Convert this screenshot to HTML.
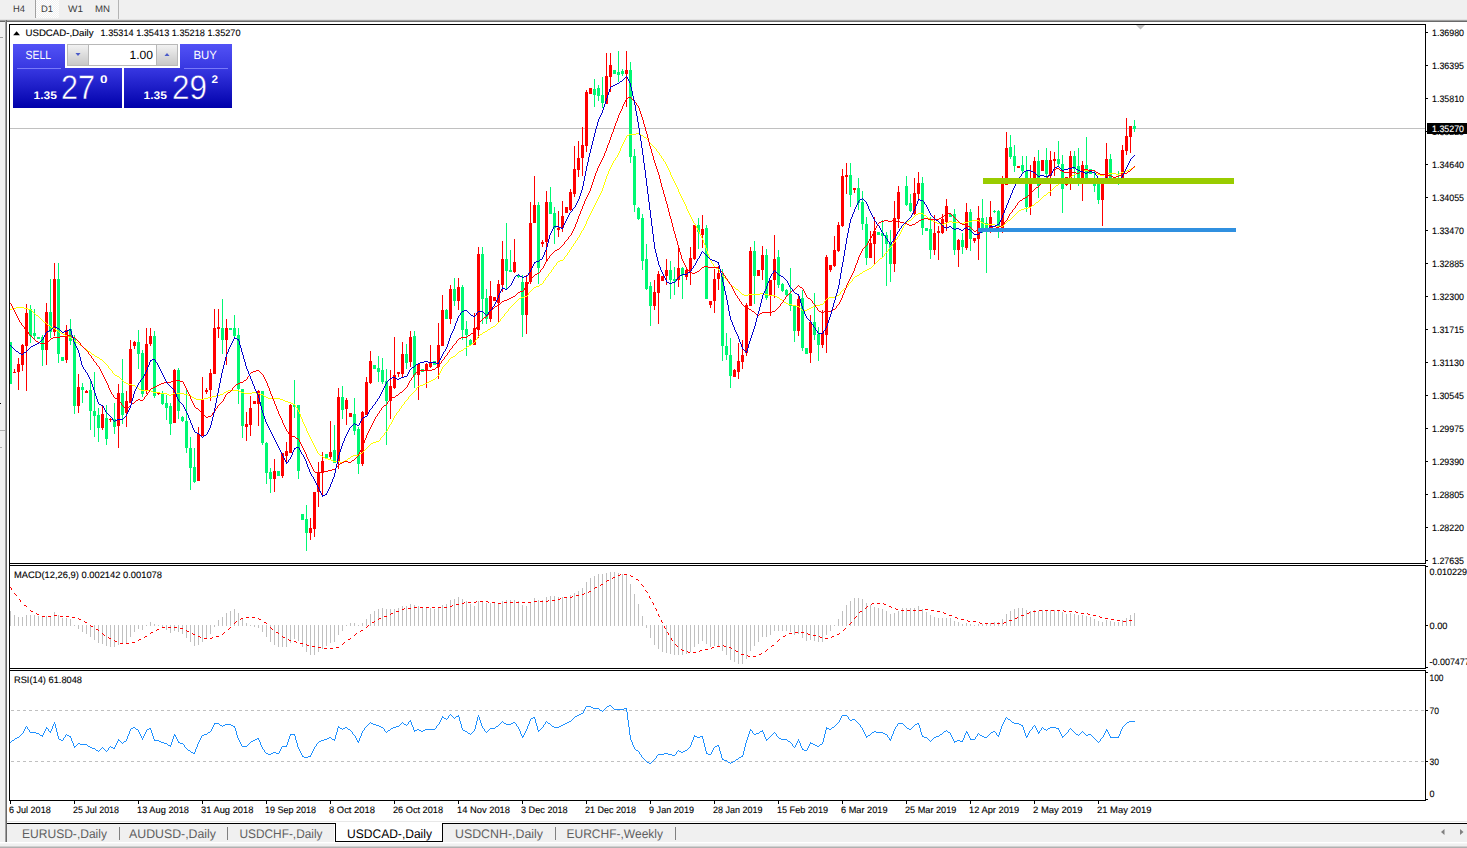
<!DOCTYPE html>
<html><head><meta charset="utf-8"><title>USDCAD-,Daily</title>
<style>html,body{margin:0;padding:0;background:#fff;overflow:hidden}svg{display:block}</style></head>
<body>
<svg width="1467" height="848" viewBox="0 0 1467 848" text-rendering="geometricPrecision" font-family='"Liberation Sans", sans-serif'>
<rect x="0" y="0" width="1467" height="848" fill="#fff" />
<g shape-rendering="crispEdges">
<rect x="0" y="0" width="1467" height="20" fill="#f0f0f0" />
<rect x="0" y="19" width="1467" height="1" fill="#e2e2e2" />
<rect x="0" y="20" width="1467" height="1" fill="#a0a0a0" />
<rect x="0" y="21" width="1467" height="1" fill="#696969" />
<defs><pattern id="chk" width="2" height="2" patternUnits="userSpaceOnUse"><rect width="2" height="2" fill="#f0f0f0"/><rect width="1" height="1" fill="#fff"/><rect x="1" y="1" width="1" height="1" fill="#fff"/></pattern></defs>
<rect x="36" y="0" width="23" height="18" fill="url(#chk)" />
<rect x="35" y="0" width="1" height="18" fill="#a0a0a0" />
<rect x="118" y="0" width="1" height="19" fill="#b4b4b4" />
<rect x="0" y="22" width="5" height="826" fill="#f0f0f0" />
<rect x="5" y="20" width="1" height="823" fill="#a0a0a0" />
<rect x="6" y="20" width="1" height="823" fill="#696969" />
<rect x="0" y="37" width="3" height="1" fill="#a0a0a0" />
<rect x="0" y="403" width="1" height="1" fill="#000" />
<rect x="0" y="430" width="5" height="1" fill="#b0b0b0" />
<rect x="0" y="447" width="2" height="1" fill="#b0b0b0" />
<rect x="9" y="24" width="1417" height="1" fill="#000" />
<rect x="9" y="24" width="1" height="777" fill="#000" />
<rect x="1425" y="24" width="1" height="777" fill="#000" />
<rect x="9" y="563" width="1417" height="1" fill="#000" />
<rect x="9" y="564" width="1417" height="1" fill="#fff" />
<rect x="9" y="565" width="1417" height="1" fill="#000" />
<rect x="9" y="668" width="1417" height="1" fill="#000" />
<rect x="9" y="669" width="1417" height="1" fill="#fff" />
<rect x="9" y="670" width="1417" height="1" fill="#000" />
<rect x="9" y="800" width="1417" height="1" fill="#000" />
<rect x="10" y="128" width="1415" height="1" fill="#c0c0c0" />
<rect x="1426" y="32" width="2" height="1" fill="#000" />
<rect x="1426" y="65" width="2" height="1" fill="#000" />
<rect x="1426" y="98" width="2" height="1" fill="#000" />
<rect x="1426" y="131" width="2" height="1" fill="#000" />
<rect x="1426" y="164" width="2" height="1" fill="#000" />
<rect x="1426" y="197" width="2" height="1" fill="#000" />
<rect x="1426" y="230" width="2" height="1" fill="#000" />
<rect x="1426" y="263" width="2" height="1" fill="#000" />
<rect x="1426" y="296" width="2" height="1" fill="#000" />
<rect x="1426" y="329" width="2" height="1" fill="#000" />
<rect x="1426" y="362" width="2" height="1" fill="#000" />
<rect x="1426" y="395" width="2" height="1" fill="#000" />
<rect x="1426" y="428" width="2" height="1" fill="#000" />
<rect x="1426" y="461" width="2" height="1" fill="#000" />
<rect x="1426" y="494" width="2" height="1" fill="#000" />
<rect x="1426" y="527" width="2" height="1" fill="#000" />
<rect x="1426" y="560" width="2" height="1" fill="#000" />
<rect x="1426" y="566" width="2" height="1" fill="#000" />
<rect x="1426" y="625" width="2" height="1" fill="#000" />
<rect x="1426" y="667" width="2" height="1" fill="#000" />
<rect x="1426" y="672" width="2" height="1" fill="#000" />
<rect x="1426" y="710" width="2" height="1" fill="#000" />
<rect x="1426" y="761" width="2" height="1" fill="#000" />
<rect x="1426" y="799" width="2" height="1" fill="#000" />
<rect x="10" y="801" width="1" height="3" fill="#000" />
<rect x="74" y="801" width="1" height="3" fill="#000" />
<rect x="138" y="801" width="1" height="3" fill="#000" />
<rect x="202" y="801" width="1" height="3" fill="#000" />
<rect x="266" y="801" width="1" height="3" fill="#000" />
<rect x="330" y="801" width="1" height="3" fill="#000" />
<rect x="394" y="801" width="1" height="3" fill="#000" />
<rect x="458" y="801" width="1" height="3" fill="#000" />
<rect x="522" y="801" width="1" height="3" fill="#000" />
<rect x="586" y="801" width="1" height="3" fill="#000" />
<rect x="650" y="801" width="1" height="3" fill="#000" />
<rect x="714" y="801" width="1" height="3" fill="#000" />
<rect x="778" y="801" width="1" height="3" fill="#000" />
<rect x="842" y="801" width="1" height="3" fill="#000" />
<rect x="906" y="801" width="1" height="3" fill="#000" />
<rect x="970" y="801" width="1" height="3" fill="#000" />
<rect x="1034" y="801" width="1" height="3" fill="#000" />
<rect x="1098" y="801" width="1" height="3" fill="#000" />
<rect x="10" y="342" width="1" height="42" fill="#00f873" />
<rect x="9" y="342" width="3" height="42" fill="#00f873" />
<rect x="14" y="369" width="1" height="4" fill="#ff0000" />
<rect x="13" y="372" width="3" height="1" fill="#ff0000" />
<rect x="18" y="358" width="1" height="32" fill="#ff0000" />
<rect x="17" y="364" width="3" height="8" fill="#ff0000" />
<rect x="22" y="344" width="1" height="27" fill="#ff0000" />
<rect x="21" y="345" width="3" height="20" fill="#ff0000" />
<rect x="26" y="304" width="1" height="87" fill="#ff0000" />
<rect x="25" y="313" width="3" height="33" fill="#ff0000" />
<rect x="30" y="305" width="1" height="38" fill="#00f873" />
<rect x="29" y="309" width="3" height="27" fill="#00f873" />
<rect x="34" y="309" width="1" height="30" fill="#00f873" />
<rect x="33" y="333" width="3" height="3" fill="#00f873" />
<rect x="38" y="337" width="1" height="2" fill="#00f873" />
<rect x="37" y="337" width="3" height="2" fill="#00f873" />
<rect x="42" y="335" width="1" height="31" fill="#00f873" />
<rect x="41" y="337" width="3" height="13" fill="#00f873" />
<rect x="46" y="303" width="1" height="62" fill="#ff0000" />
<rect x="45" y="312" width="3" height="38" fill="#ff0000" />
<rect x="50" y="279" width="1" height="59" fill="#00f873" />
<rect x="49" y="312" width="3" height="20" fill="#00f873" />
<rect x="54" y="263" width="1" height="73" fill="#ff0000" />
<rect x="53" y="279" width="3" height="53" fill="#ff0000" />
<rect x="58" y="263" width="1" height="100" fill="#00f873" />
<rect x="57" y="279" width="3" height="75" fill="#00f873" />
<rect x="62" y="357" width="1" height="4" fill="#00f873" />
<rect x="61" y="357" width="3" height="4" fill="#00f873" />
<rect x="66" y="325" width="1" height="38" fill="#ff0000" />
<rect x="65" y="330" width="3" height="30" fill="#ff0000" />
<rect x="70" y="319" width="1" height="26" fill="#00f873" />
<rect x="69" y="329" width="3" height="12" fill="#00f873" />
<rect x="74" y="335" width="1" height="79" fill="#00f873" />
<rect x="73" y="338" width="3" height="68" fill="#00f873" />
<rect x="78" y="374" width="1" height="39" fill="#ff0000" />
<rect x="77" y="387" width="3" height="19" fill="#ff0000" />
<rect x="82" y="383" width="1" height="20" fill="#00f873" />
<rect x="81" y="387" width="3" height="3" fill="#00f873" />
<rect x="86" y="390" width="1" height="3" fill="#ff0000" />
<rect x="85" y="391" width="3" height="2" fill="#ff0000" />
<rect x="90" y="380" width="1" height="50" fill="#00f873" />
<rect x="89" y="390" width="3" height="21" fill="#00f873" />
<rect x="94" y="372" width="1" height="65" fill="#00f873" />
<rect x="93" y="411" width="3" height="5" fill="#00f873" />
<rect x="98" y="408" width="1" height="34" fill="#00f873" />
<rect x="97" y="415" width="3" height="13" fill="#00f873" />
<rect x="102" y="405" width="1" height="25" fill="#ff0000" />
<rect x="101" y="414" width="3" height="14" fill="#ff0000" />
<rect x="106" y="405" width="1" height="40" fill="#00f873" />
<rect x="105" y="418" width="3" height="21" fill="#00f873" />
<rect x="110" y="418" width="1" height="4" fill="#ff0000" />
<rect x="109" y="419" width="3" height="1" fill="#ff0000" />
<rect x="114" y="403" width="1" height="31" fill="#00f873" />
<rect x="113" y="419" width="3" height="8" fill="#00f873" />
<rect x="118" y="384" width="1" height="64" fill="#ff0000" />
<rect x="117" y="393" width="3" height="33" fill="#ff0000" />
<rect x="122" y="359" width="1" height="65" fill="#00f873" />
<rect x="121" y="393" width="3" height="22" fill="#00f873" />
<rect x="126" y="391" width="1" height="36" fill="#ff0000" />
<rect x="125" y="401" width="3" height="12" fill="#ff0000" />
<rect x="130" y="340" width="1" height="63" fill="#ff0000" />
<rect x="129" y="349" width="3" height="54" fill="#ff0000" />
<rect x="134" y="341" width="1" height="8" fill="#ff0000" />
<rect x="133" y="342" width="3" height="4" fill="#ff0000" />
<rect x="138" y="330" width="1" height="39" fill="#00f873" />
<rect x="137" y="342" width="3" height="12" fill="#00f873" />
<rect x="142" y="350" width="1" height="47" fill="#00f873" />
<rect x="141" y="353" width="3" height="41" fill="#00f873" />
<rect x="146" y="328" width="1" height="66" fill="#ff0000" />
<rect x="145" y="344" width="3" height="47" fill="#ff0000" />
<rect x="150" y="328" width="1" height="18" fill="#ff0000" />
<rect x="149" y="336" width="3" height="8" fill="#ff0000" />
<rect x="154" y="331" width="1" height="67" fill="#00f873" />
<rect x="153" y="336" width="3" height="60" fill="#00f873" />
<rect x="158" y="392" width="1" height="3" fill="#ff0000" />
<rect x="157" y="393" width="3" height="1" fill="#ff0000" />
<rect x="162" y="391" width="1" height="14" fill="#00f873" />
<rect x="161" y="394" width="3" height="10" fill="#00f873" />
<rect x="166" y="395" width="1" height="25" fill="#00f873" />
<rect x="165" y="403" width="3" height="5" fill="#00f873" />
<rect x="170" y="403" width="1" height="32" fill="#00f873" />
<rect x="169" y="406" width="3" height="18" fill="#00f873" />
<rect x="174" y="369" width="1" height="54" fill="#ff0000" />
<rect x="173" y="370" width="3" height="53" fill="#ff0000" />
<rect x="178" y="368" width="1" height="51" fill="#00f873" />
<rect x="177" y="370" width="3" height="41" fill="#00f873" />
<rect x="182" y="416" width="1" height="6" fill="#00f873" />
<rect x="181" y="417" width="3" height="4" fill="#00f873" />
<rect x="186" y="390" width="1" height="63" fill="#00f873" />
<rect x="185" y="421" width="3" height="27" fill="#00f873" />
<rect x="190" y="437" width="1" height="53" fill="#00f873" />
<rect x="189" y="448" width="3" height="20" fill="#00f873" />
<rect x="194" y="448" width="1" height="35" fill="#00f873" />
<rect x="193" y="467" width="3" height="15" fill="#00f873" />
<rect x="198" y="427" width="1" height="54" fill="#ff0000" />
<rect x="197" y="434" width="3" height="47" fill="#ff0000" />
<rect x="202" y="377" width="1" height="59" fill="#ff0000" />
<rect x="201" y="399" width="3" height="37" fill="#ff0000" />
<rect x="206" y="388" width="1" height="6" fill="#ff0000" />
<rect x="205" y="390" width="3" height="2" fill="#ff0000" />
<rect x="210" y="369" width="1" height="32" fill="#ff0000" />
<rect x="209" y="373" width="3" height="17" fill="#ff0000" />
<rect x="214" y="309" width="1" height="65" fill="#ff0000" />
<rect x="213" y="328" width="3" height="46" fill="#ff0000" />
<rect x="218" y="309" width="1" height="29" fill="#ff0000" />
<rect x="217" y="327" width="3" height="2" fill="#ff0000" />
<rect x="222" y="299" width="1" height="55" fill="#00f873" />
<rect x="221" y="328" width="3" height="12" fill="#00f873" />
<rect x="226" y="319" width="1" height="46" fill="#ff0000" />
<rect x="225" y="328" width="3" height="12" fill="#ff0000" />
<rect x="230" y="328" width="1" height="2" fill="#00f873" />
<rect x="229" y="328" width="3" height="2" fill="#00f873" />
<rect x="234" y="315" width="1" height="22" fill="#00f873" />
<rect x="233" y="328" width="3" height="8" fill="#00f873" />
<rect x="238" y="328" width="1" height="76" fill="#00f873" />
<rect x="237" y="335" width="3" height="54" fill="#00f873" />
<rect x="242" y="389" width="1" height="49" fill="#00f873" />
<rect x="241" y="389" width="3" height="37" fill="#00f873" />
<rect x="246" y="412" width="1" height="29" fill="#ff0000" />
<rect x="245" y="424" width="3" height="3" fill="#ff0000" />
<rect x="250" y="396" width="1" height="40" fill="#ff0000" />
<rect x="249" y="408" width="3" height="17" fill="#ff0000" />
<rect x="254" y="401" width="1" height="3" fill="#ff0000" />
<rect x="253" y="401" width="3" height="3" fill="#ff0000" />
<rect x="258" y="390" width="1" height="36" fill="#ff0000" />
<rect x="257" y="391" width="3" height="13" fill="#ff0000" />
<rect x="262" y="391" width="1" height="54" fill="#00f873" />
<rect x="261" y="391" width="3" height="52" fill="#00f873" />
<rect x="266" y="442" width="1" height="42" fill="#00f873" />
<rect x="265" y="443" width="3" height="30" fill="#00f873" />
<rect x="270" y="468" width="1" height="25" fill="#00f873" />
<rect x="269" y="472" width="3" height="7" fill="#00f873" />
<rect x="274" y="459" width="1" height="33" fill="#ff0000" />
<rect x="273" y="471" width="3" height="8" fill="#ff0000" />
<rect x="278" y="471" width="1" height="5" fill="#00f873" />
<rect x="277" y="471" width="3" height="5" fill="#00f873" />
<rect x="282" y="453" width="1" height="25" fill="#ff0000" />
<rect x="281" y="453" width="3" height="23" fill="#ff0000" />
<rect x="286" y="442" width="1" height="22" fill="#ff0000" />
<rect x="285" y="451" width="3" height="5" fill="#ff0000" />
<rect x="290" y="404" width="1" height="49" fill="#ff0000" />
<rect x="289" y="405" width="3" height="48" fill="#ff0000" />
<rect x="294" y="380" width="1" height="38" fill="#00f873" />
<rect x="293" y="405" width="3" height="2" fill="#00f873" />
<rect x="298" y="405" width="1" height="74" fill="#00f873" />
<rect x="297" y="405" width="3" height="66" fill="#00f873" />
<rect x="302" y="514" width="1" height="6" fill="#00f873" />
<rect x="301" y="514" width="3" height="6" fill="#00f873" />
<rect x="306" y="505" width="1" height="46" fill="#00f873" />
<rect x="305" y="519" width="3" height="14" fill="#00f873" />
<rect x="310" y="518" width="1" height="22" fill="#ff0000" />
<rect x="309" y="528" width="3" height="5" fill="#ff0000" />
<rect x="314" y="492" width="1" height="45" fill="#ff0000" />
<rect x="313" y="492" width="3" height="37" fill="#ff0000" />
<rect x="318" y="462" width="1" height="45" fill="#ff0000" />
<rect x="317" y="472" width="3" height="20" fill="#ff0000" />
<rect x="322" y="452" width="1" height="44" fill="#ff0000" />
<rect x="321" y="461" width="3" height="12" fill="#ff0000" />
<rect x="326" y="454" width="1" height="4" fill="#00f873" />
<rect x="325" y="454" width="3" height="4" fill="#00f873" />
<rect x="330" y="421" width="1" height="38" fill="#ff0000" />
<rect x="329" y="452" width="3" height="5" fill="#ff0000" />
<rect x="334" y="425" width="1" height="38" fill="#00f873" />
<rect x="333" y="450" width="3" height="13" fill="#00f873" />
<rect x="338" y="388" width="1" height="81" fill="#ff0000" />
<rect x="337" y="397" width="3" height="65" fill="#ff0000" />
<rect x="342" y="386" width="1" height="33" fill="#00f873" />
<rect x="341" y="397" width="3" height="13" fill="#00f873" />
<rect x="346" y="398" width="1" height="27" fill="#ff0000" />
<rect x="345" y="400" width="3" height="9" fill="#ff0000" />
<rect x="350" y="413" width="1" height="4" fill="#ff0000" />
<rect x="349" y="413" width="3" height="4" fill="#ff0000" />
<rect x="354" y="398" width="1" height="37" fill="#00f873" />
<rect x="353" y="414" width="3" height="17" fill="#00f873" />
<rect x="358" y="427" width="1" height="47" fill="#00f873" />
<rect x="357" y="429" width="3" height="35" fill="#00f873" />
<rect x="362" y="411" width="1" height="55" fill="#ff0000" />
<rect x="361" y="412" width="3" height="52" fill="#ff0000" />
<rect x="366" y="377" width="1" height="38" fill="#ff0000" />
<rect x="365" y="382" width="3" height="33" fill="#ff0000" />
<rect x="370" y="351" width="1" height="33" fill="#ff0000" />
<rect x="369" y="361" width="3" height="22" fill="#ff0000" />
<rect x="374" y="365" width="1" height="4" fill="#00f873" />
<rect x="373" y="365" width="3" height="4" fill="#00f873" />
<rect x="378" y="356" width="1" height="26" fill="#00f873" />
<rect x="377" y="368" width="3" height="4" fill="#00f873" />
<rect x="382" y="358" width="1" height="26" fill="#00f873" />
<rect x="381" y="370" width="3" height="12" fill="#00f873" />
<rect x="386" y="369" width="1" height="76" fill="#00f873" />
<rect x="385" y="381" width="3" height="20" fill="#00f873" />
<rect x="390" y="370" width="1" height="49" fill="#ff0000" />
<rect x="389" y="386" width="3" height="15" fill="#ff0000" />
<rect x="394" y="337" width="1" height="52" fill="#ff0000" />
<rect x="393" y="375" width="3" height="13" fill="#ff0000" />
<rect x="398" y="372" width="1" height="5" fill="#ff0000" />
<rect x="397" y="372" width="3" height="2" fill="#ff0000" />
<rect x="402" y="342" width="1" height="36" fill="#ff0000" />
<rect x="401" y="354" width="3" height="20" fill="#ff0000" />
<rect x="406" y="344" width="1" height="25" fill="#00f873" />
<rect x="405" y="354" width="3" height="9" fill="#00f873" />
<rect x="410" y="331" width="1" height="36" fill="#ff0000" />
<rect x="409" y="337" width="3" height="25" fill="#ff0000" />
<rect x="414" y="331" width="1" height="57" fill="#00f873" />
<rect x="413" y="336" width="3" height="39" fill="#00f873" />
<rect x="418" y="363" width="1" height="37" fill="#ff0000" />
<rect x="417" y="364" width="3" height="11" fill="#ff0000" />
<rect x="422" y="369" width="1" height="3" fill="#00f873" />
<rect x="421" y="369" width="3" height="3" fill="#00f873" />
<rect x="426" y="363" width="1" height="25" fill="#ff0000" />
<rect x="425" y="364" width="3" height="7" fill="#ff0000" />
<rect x="430" y="345" width="1" height="23" fill="#ff0000" />
<rect x="429" y="362" width="3" height="5" fill="#ff0000" />
<rect x="434" y="361" width="1" height="4" fill="#00f873" />
<rect x="433" y="361" width="3" height="4" fill="#00f873" />
<rect x="438" y="323" width="1" height="56" fill="#ff0000" />
<rect x="437" y="345" width="3" height="22" fill="#ff0000" />
<rect x="442" y="295" width="1" height="51" fill="#ff0000" />
<rect x="441" y="310" width="3" height="36" fill="#ff0000" />
<rect x="446" y="309" width="1" height="10" fill="#00f873" />
<rect x="445" y="310" width="3" height="9" fill="#00f873" />
<rect x="450" y="285" width="1" height="39" fill="#ff0000" />
<rect x="449" y="289" width="3" height="30" fill="#ff0000" />
<rect x="454" y="278" width="1" height="28" fill="#00f873" />
<rect x="453" y="289" width="3" height="12" fill="#00f873" />
<rect x="458" y="278" width="1" height="32" fill="#ff0000" />
<rect x="457" y="287" width="3" height="14" fill="#ff0000" />
<rect x="462" y="285" width="1" height="55" fill="#00f873" />
<rect x="461" y="287" width="3" height="43" fill="#00f873" />
<rect x="466" y="321" width="1" height="35" fill="#00f873" />
<rect x="465" y="329" width="3" height="6" fill="#00f873" />
<rect x="470" y="339" width="1" height="6" fill="#00f873" />
<rect x="469" y="340" width="3" height="5" fill="#00f873" />
<rect x="474" y="313" width="1" height="32" fill="#ff0000" />
<rect x="473" y="328" width="3" height="17" fill="#ff0000" />
<rect x="478" y="247" width="1" height="91" fill="#ff0000" />
<rect x="477" y="254" width="3" height="76" fill="#ff0000" />
<rect x="482" y="247" width="1" height="77" fill="#00f873" />
<rect x="481" y="254" width="3" height="45" fill="#00f873" />
<rect x="486" y="289" width="1" height="35" fill="#00f873" />
<rect x="485" y="298" width="3" height="21" fill="#00f873" />
<rect x="490" y="281" width="1" height="41" fill="#ff0000" />
<rect x="489" y="296" width="3" height="23" fill="#ff0000" />
<rect x="494" y="297" width="1" height="4" fill="#ff0000" />
<rect x="493" y="297" width="3" height="4" fill="#ff0000" />
<rect x="498" y="280" width="1" height="42" fill="#ff0000" />
<rect x="497" y="284" width="3" height="19" fill="#ff0000" />
<rect x="502" y="241" width="1" height="51" fill="#ff0000" />
<rect x="501" y="259" width="3" height="26" fill="#ff0000" />
<rect x="506" y="223" width="1" height="66" fill="#00f873" />
<rect x="505" y="259" width="3" height="12" fill="#00f873" />
<rect x="510" y="250" width="1" height="22" fill="#00f873" />
<rect x="509" y="270" width="3" height="2" fill="#00f873" />
<rect x="514" y="239" width="1" height="34" fill="#ff0000" />
<rect x="513" y="262" width="3" height="10" fill="#ff0000" />
<rect x="518" y="275" width="1" height="3" fill="#00f873" />
<rect x="517" y="276" width="3" height="1" fill="#00f873" />
<rect x="522" y="275" width="1" height="62" fill="#00f873" />
<rect x="521" y="282" width="3" height="33" fill="#00f873" />
<rect x="526" y="275" width="1" height="59" fill="#ff0000" />
<rect x="525" y="282" width="3" height="33" fill="#ff0000" />
<rect x="530" y="202" width="1" height="82" fill="#ff0000" />
<rect x="529" y="223" width="3" height="59" fill="#ff0000" />
<rect x="534" y="176" width="1" height="47" fill="#ff0000" />
<rect x="533" y="205" width="3" height="18" fill="#ff0000" />
<rect x="538" y="202" width="1" height="82" fill="#00f873" />
<rect x="537" y="205" width="3" height="63" fill="#00f873" />
<rect x="542" y="240" width="1" height="7" fill="#ff0000" />
<rect x="541" y="242" width="3" height="2" fill="#ff0000" />
<rect x="546" y="191" width="1" height="70" fill="#ff0000" />
<rect x="545" y="202" width="3" height="40" fill="#ff0000" />
<rect x="550" y="187" width="1" height="27" fill="#00f873" />
<rect x="549" y="202" width="3" height="12" fill="#00f873" />
<rect x="554" y="207" width="1" height="37" fill="#00f873" />
<rect x="553" y="213" width="3" height="15" fill="#00f873" />
<rect x="558" y="211" width="1" height="26" fill="#ff0000" />
<rect x="557" y="228" width="3" height="2" fill="#ff0000" />
<rect x="562" y="201" width="1" height="31" fill="#ff0000" />
<rect x="561" y="216" width="3" height="12" fill="#ff0000" />
<rect x="566" y="207" width="1" height="6" fill="#ff0000" />
<rect x="565" y="207" width="3" height="6" fill="#ff0000" />
<rect x="570" y="189" width="1" height="22" fill="#ff0000" />
<rect x="569" y="192" width="3" height="18" fill="#ff0000" />
<rect x="574" y="146" width="1" height="51" fill="#ff0000" />
<rect x="573" y="169" width="3" height="25" fill="#ff0000" />
<rect x="578" y="141" width="1" height="36" fill="#ff0000" />
<rect x="577" y="158" width="3" height="12" fill="#ff0000" />
<rect x="582" y="127" width="1" height="49" fill="#ff0000" />
<rect x="581" y="145" width="3" height="13" fill="#ff0000" />
<rect x="586" y="90" width="1" height="62" fill="#ff0000" />
<rect x="585" y="92" width="3" height="54" fill="#ff0000" />
<rect x="590" y="88" width="1" height="6" fill="#ff0000" />
<rect x="589" y="88" width="3" height="6" fill="#ff0000" />
<rect x="594" y="79" width="1" height="28" fill="#00f873" />
<rect x="593" y="89" width="3" height="6" fill="#00f873" />
<rect x="598" y="85" width="1" height="16" fill="#00f873" />
<rect x="597" y="88" width="3" height="8" fill="#00f873" />
<rect x="602" y="77" width="1" height="31" fill="#00f873" />
<rect x="601" y="95" width="3" height="8" fill="#00f873" />
<rect x="606" y="53" width="1" height="51" fill="#ff0000" />
<rect x="605" y="76" width="3" height="28" fill="#ff0000" />
<rect x="610" y="53" width="1" height="39" fill="#ff0000" />
<rect x="609" y="65" width="3" height="12" fill="#ff0000" />
<rect x="614" y="70" width="1" height="4" fill="#00f873" />
<rect x="613" y="70" width="3" height="4" fill="#00f873" />
<rect x="618" y="51" width="1" height="31" fill="#00f873" />
<rect x="617" y="72" width="3" height="3" fill="#00f873" />
<rect x="622" y="69" width="1" height="7" fill="#00f873" />
<rect x="621" y="71" width="3" height="3" fill="#00f873" />
<rect x="626" y="51" width="1" height="56" fill="#ff0000" />
<rect x="625" y="70" width="3" height="4" fill="#ff0000" />
<rect x="630" y="62" width="1" height="101" fill="#00f873" />
<rect x="629" y="70" width="3" height="87" fill="#00f873" />
<rect x="634" y="149" width="1" height="63" fill="#00f873" />
<rect x="633" y="156" width="3" height="49" fill="#00f873" />
<rect x="638" y="207" width="1" height="13" fill="#00f873" />
<rect x="637" y="208" width="3" height="11" fill="#00f873" />
<rect x="642" y="214" width="1" height="56" fill="#00f873" />
<rect x="641" y="218" width="3" height="43" fill="#00f873" />
<rect x="646" y="244" width="1" height="46" fill="#00f873" />
<rect x="645" y="259" width="3" height="30" fill="#00f873" />
<rect x="650" y="282" width="1" height="44" fill="#00f873" />
<rect x="649" y="286" width="3" height="20" fill="#00f873" />
<rect x="654" y="280" width="1" height="30" fill="#ff0000" />
<rect x="653" y="292" width="3" height="14" fill="#ff0000" />
<rect x="658" y="271" width="1" height="53" fill="#ff0000" />
<rect x="657" y="274" width="3" height="19" fill="#ff0000" />
<rect x="662" y="276" width="1" height="5" fill="#ff0000" />
<rect x="661" y="276" width="3" height="5" fill="#ff0000" />
<rect x="666" y="259" width="1" height="26" fill="#ff0000" />
<rect x="665" y="270" width="3" height="6" fill="#ff0000" />
<rect x="670" y="261" width="1" height="38" fill="#00f873" />
<rect x="669" y="270" width="3" height="10" fill="#00f873" />
<rect x="674" y="267" width="1" height="28" fill="#00f873" />
<rect x="673" y="279" width="3" height="2" fill="#00f873" />
<rect x="678" y="247" width="1" height="40" fill="#ff0000" />
<rect x="677" y="268" width="3" height="12" fill="#ff0000" />
<rect x="682" y="267" width="1" height="32" fill="#00f873" />
<rect x="681" y="268" width="3" height="7" fill="#00f873" />
<rect x="686" y="269" width="1" height="11" fill="#ff0000" />
<rect x="685" y="270" width="3" height="7" fill="#ff0000" />
<rect x="690" y="247" width="1" height="38" fill="#ff0000" />
<rect x="689" y="258" width="3" height="13" fill="#ff0000" />
<rect x="694" y="225" width="1" height="35" fill="#ff0000" />
<rect x="693" y="225" width="3" height="34" fill="#ff0000" />
<rect x="698" y="218" width="1" height="31" fill="#00f873" />
<rect x="697" y="225" width="3" height="7" fill="#00f873" />
<rect x="702" y="215" width="1" height="33" fill="#ff0000" />
<rect x="701" y="229" width="3" height="6" fill="#ff0000" />
<rect x="706" y="225" width="1" height="74" fill="#00f873" />
<rect x="705" y="228" width="3" height="71" fill="#00f873" />
<rect x="710" y="301" width="1" height="7" fill="#ff0000" />
<rect x="709" y="301" width="3" height="4" fill="#ff0000" />
<rect x="714" y="269" width="1" height="44" fill="#ff0000" />
<rect x="713" y="279" width="3" height="22" fill="#ff0000" />
<rect x="718" y="266" width="1" height="24" fill="#ff0000" />
<rect x="717" y="273" width="3" height="6" fill="#ff0000" />
<rect x="722" y="269" width="1" height="92" fill="#00f873" />
<rect x="721" y="273" width="3" height="73" fill="#00f873" />
<rect x="726" y="333" width="1" height="27" fill="#00f873" />
<rect x="725" y="346" width="3" height="9" fill="#00f873" />
<rect x="730" y="338" width="1" height="50" fill="#00f873" />
<rect x="729" y="355" width="3" height="21" fill="#00f873" />
<rect x="734" y="369" width="1" height="8" fill="#ff0000" />
<rect x="733" y="370" width="3" height="7" fill="#ff0000" />
<rect x="738" y="343" width="1" height="36" fill="#ff0000" />
<rect x="737" y="361" width="3" height="11" fill="#ff0000" />
<rect x="742" y="340" width="1" height="29" fill="#ff0000" />
<rect x="741" y="355" width="3" height="7" fill="#ff0000" />
<rect x="746" y="303" width="1" height="53" fill="#ff0000" />
<rect x="745" y="305" width="3" height="48" fill="#ff0000" />
<rect x="750" y="247" width="1" height="59" fill="#ff0000" />
<rect x="749" y="251" width="3" height="55" fill="#ff0000" />
<rect x="754" y="241" width="1" height="63" fill="#00f873" />
<rect x="753" y="251" width="3" height="25" fill="#00f873" />
<rect x="758" y="270" width="1" height="6" fill="#ff0000" />
<rect x="757" y="270" width="3" height="6" fill="#ff0000" />
<rect x="762" y="246" width="1" height="34" fill="#ff0000" />
<rect x="761" y="255" width="3" height="15" fill="#ff0000" />
<rect x="766" y="249" width="1" height="51" fill="#00f873" />
<rect x="765" y="255" width="3" height="43" fill="#00f873" />
<rect x="770" y="280" width="1" height="36" fill="#ff0000" />
<rect x="769" y="280" width="3" height="15" fill="#ff0000" />
<rect x="774" y="235" width="1" height="63" fill="#ff0000" />
<rect x="773" y="259" width="3" height="21" fill="#ff0000" />
<rect x="778" y="250" width="1" height="38" fill="#00f873" />
<rect x="777" y="257" width="3" height="28" fill="#00f873" />
<rect x="782" y="283" width="1" height="9" fill="#00f873" />
<rect x="781" y="284" width="3" height="7" fill="#00f873" />
<rect x="786" y="289" width="1" height="7" fill="#00f873" />
<rect x="785" y="290" width="3" height="5" fill="#00f873" />
<rect x="790" y="268" width="1" height="43" fill="#00f873" />
<rect x="789" y="294" width="3" height="12" fill="#00f873" />
<rect x="794" y="306" width="1" height="36" fill="#00f873" />
<rect x="793" y="306" width="3" height="25" fill="#00f873" />
<rect x="798" y="295" width="1" height="41" fill="#ff0000" />
<rect x="797" y="299" width="3" height="32" fill="#ff0000" />
<rect x="802" y="290" width="1" height="61" fill="#00f873" />
<rect x="801" y="298" width="3" height="50" fill="#00f873" />
<rect x="806" y="348" width="1" height="6" fill="#00f873" />
<rect x="805" y="348" width="3" height="6" fill="#00f873" />
<rect x="810" y="315" width="1" height="48" fill="#ff0000" />
<rect x="809" y="322" width="3" height="31" fill="#ff0000" />
<rect x="814" y="293" width="1" height="47" fill="#00f873" />
<rect x="813" y="322" width="3" height="13" fill="#00f873" />
<rect x="818" y="327" width="1" height="34" fill="#00f873" />
<rect x="817" y="334" width="3" height="11" fill="#00f873" />
<rect x="822" y="310" width="1" height="38" fill="#ff0000" />
<rect x="821" y="333" width="3" height="12" fill="#ff0000" />
<rect x="826" y="255" width="1" height="98" fill="#ff0000" />
<rect x="825" y="257" width="3" height="78" fill="#ff0000" />
<rect x="830" y="265" width="1" height="7" fill="#ff0000" />
<rect x="829" y="265" width="3" height="5" fill="#ff0000" />
<rect x="834" y="236" width="1" height="31" fill="#ff0000" />
<rect x="833" y="250" width="3" height="16" fill="#ff0000" />
<rect x="838" y="222" width="1" height="30" fill="#ff0000" />
<rect x="837" y="225" width="3" height="26" fill="#ff0000" />
<rect x="842" y="169" width="1" height="58" fill="#ff0000" />
<rect x="841" y="176" width="3" height="50" fill="#ff0000" />
<rect x="846" y="163" width="1" height="31" fill="#ff0000" />
<rect x="845" y="175" width="3" height="2" fill="#ff0000" />
<rect x="850" y="163" width="1" height="44" fill="#00f873" />
<rect x="849" y="175" width="3" height="20" fill="#00f873" />
<rect x="854" y="188" width="1" height="5" fill="#ff0000" />
<rect x="853" y="188" width="3" height="2" fill="#ff0000" />
<rect x="858" y="178" width="1" height="32" fill="#00f873" />
<rect x="857" y="188" width="3" height="15" fill="#00f873" />
<rect x="862" y="191" width="1" height="39" fill="#00f873" />
<rect x="861" y="202" width="3" height="22" fill="#00f873" />
<rect x="866" y="217" width="1" height="48" fill="#00f873" />
<rect x="865" y="224" width="3" height="34" fill="#00f873" />
<rect x="870" y="231" width="1" height="27" fill="#ff0000" />
<rect x="869" y="243" width="3" height="15" fill="#ff0000" />
<rect x="874" y="217" width="1" height="47" fill="#ff0000" />
<rect x="873" y="231" width="3" height="13" fill="#ff0000" />
<rect x="878" y="232" width="1" height="3" fill="#00f873" />
<rect x="877" y="232" width="3" height="3" fill="#00f873" />
<rect x="882" y="220" width="1" height="37" fill="#00f873" />
<rect x="881" y="233" width="3" height="3" fill="#00f873" />
<rect x="886" y="232" width="1" height="54" fill="#00f873" />
<rect x="885" y="235" width="3" height="9" fill="#00f873" />
<rect x="890" y="230" width="1" height="52" fill="#00f873" />
<rect x="889" y="243" width="3" height="21" fill="#00f873" />
<rect x="894" y="201" width="1" height="71" fill="#ff0000" />
<rect x="893" y="218" width="3" height="46" fill="#ff0000" />
<rect x="898" y="186" width="1" height="42" fill="#ff0000" />
<rect x="897" y="192" width="3" height="27" fill="#ff0000" />
<rect x="906" y="176" width="1" height="30" fill="#00f873" />
<rect x="905" y="186" width="3" height="19" fill="#00f873" />
<rect x="910" y="194" width="1" height="18" fill="#00f873" />
<rect x="909" y="203" width="3" height="8" fill="#00f873" />
<rect x="914" y="178" width="1" height="37" fill="#ff0000" />
<rect x="913" y="193" width="3" height="21" fill="#ff0000" />
<rect x="918" y="172" width="1" height="28" fill="#ff0000" />
<rect x="917" y="183" width="3" height="11" fill="#ff0000" />
<rect x="922" y="177" width="1" height="58" fill="#00f873" />
<rect x="921" y="183" width="3" height="45" fill="#00f873" />
<rect x="926" y="228" width="1" height="3" fill="#00f873" />
<rect x="925" y="228" width="3" height="3" fill="#00f873" />
<rect x="930" y="217" width="1" height="42" fill="#00f873" />
<rect x="929" y="229" width="3" height="21" fill="#00f873" />
<rect x="934" y="215" width="1" height="40" fill="#ff0000" />
<rect x="933" y="233" width="3" height="17" fill="#ff0000" />
<rect x="938" y="226" width="1" height="34" fill="#ff0000" />
<rect x="937" y="231" width="3" height="2" fill="#ff0000" />
<rect x="942" y="214" width="1" height="20" fill="#ff0000" />
<rect x="941" y="219" width="3" height="14" fill="#ff0000" />
<rect x="946" y="199" width="1" height="32" fill="#ff0000" />
<rect x="945" y="206" width="3" height="16" fill="#ff0000" />
<rect x="950" y="214" width="1" height="3" fill="#00f873" />
<rect x="949" y="214" width="3" height="3" fill="#00f873" />
<rect x="954" y="209" width="1" height="46" fill="#00f873" />
<rect x="953" y="214" width="3" height="36" fill="#00f873" />
<rect x="958" y="239" width="1" height="28" fill="#ff0000" />
<rect x="957" y="240" width="3" height="10" fill="#ff0000" />
<rect x="962" y="233" width="1" height="21" fill="#00f873" />
<rect x="961" y="240" width="3" height="7" fill="#00f873" />
<rect x="966" y="203" width="1" height="47" fill="#ff0000" />
<rect x="965" y="212" width="3" height="36" fill="#ff0000" />
<rect x="970" y="209" width="1" height="42" fill="#00f873" />
<rect x="969" y="212" width="3" height="27" fill="#00f873" />
<rect x="974" y="238" width="1" height="5" fill="#ff0000" />
<rect x="973" y="238" width="3" height="3" fill="#ff0000" />
<rect x="978" y="206" width="1" height="54" fill="#ff0000" />
<rect x="977" y="218" width="3" height="21" fill="#ff0000" />
<rect x="982" y="199" width="1" height="34" fill="#00f873" />
<rect x="981" y="218" width="3" height="10" fill="#00f873" />
<rect x="986" y="217" width="1" height="56" fill="#00f873" />
<rect x="985" y="223" width="3" height="8" fill="#00f873" />
<rect x="990" y="201" width="1" height="32" fill="#ff0000" />
<rect x="989" y="217" width="3" height="14" fill="#ff0000" />
<rect x="994" y="210" width="1" height="3" fill="#00f873" />
<rect x="993" y="211" width="3" height="1" fill="#00f873" />
<rect x="998" y="210" width="1" height="28" fill="#00f873" />
<rect x="997" y="211" width="3" height="15" fill="#00f873" />
<rect x="1002" y="176" width="1" height="57" fill="#ff0000" />
<rect x="1001" y="182" width="3" height="50" fill="#ff0000" />
<rect x="1006" y="132" width="1" height="53" fill="#ff0000" />
<rect x="1005" y="148" width="3" height="37" fill="#ff0000" />
<rect x="1010" y="135" width="1" height="24" fill="#00f873" />
<rect x="1009" y="147" width="3" height="10" fill="#00f873" />
<rect x="1014" y="145" width="1" height="27" fill="#00f873" />
<rect x="1013" y="156" width="3" height="10" fill="#00f873" />
<rect x="1018" y="166" width="1" height="2" fill="#ff0000" />
<rect x="1017" y="166" width="3" height="2" fill="#ff0000" />
<rect x="1022" y="156" width="1" height="17" fill="#00f873" />
<rect x="1021" y="165" width="3" height="6" fill="#00f873" />
<rect x="1026" y="156" width="1" height="56" fill="#00f873" />
<rect x="1025" y="171" width="3" height="36" fill="#00f873" />
<rect x="1030" y="165" width="1" height="50" fill="#ff0000" />
<rect x="1029" y="180" width="3" height="27" fill="#ff0000" />
<rect x="1034" y="157" width="1" height="23" fill="#ff0000" />
<rect x="1033" y="161" width="3" height="19" fill="#ff0000" />
<rect x="1038" y="150" width="1" height="48" fill="#00f873" />
<rect x="1037" y="161" width="3" height="25" fill="#00f873" />
<rect x="1042" y="160" width="1" height="11" fill="#ff0000" />
<rect x="1041" y="160" width="3" height="11" fill="#ff0000" />
<rect x="1046" y="148" width="1" height="30" fill="#00f873" />
<rect x="1045" y="160" width="3" height="14" fill="#00f873" />
<rect x="1050" y="151" width="1" height="45" fill="#ff0000" />
<rect x="1049" y="160" width="3" height="16" fill="#ff0000" />
<rect x="1054" y="152" width="1" height="24" fill="#ff0000" />
<rect x="1053" y="159" width="3" height="2" fill="#ff0000" />
<rect x="1058" y="141" width="1" height="26" fill="#00f873" />
<rect x="1057" y="159" width="3" height="5" fill="#00f873" />
<rect x="1062" y="155" width="1" height="58" fill="#00f873" />
<rect x="1061" y="164" width="3" height="25" fill="#00f873" />
<rect x="1066" y="177" width="1" height="9" fill="#ff0000" />
<rect x="1065" y="177" width="3" height="8" fill="#ff0000" />
<rect x="1070" y="151" width="1" height="39" fill="#ff0000" />
<rect x="1069" y="156" width="3" height="22" fill="#ff0000" />
<rect x="1074" y="151" width="1" height="27" fill="#00f873" />
<rect x="1073" y="156" width="3" height="13" fill="#00f873" />
<rect x="1078" y="148" width="1" height="38" fill="#00f873" />
<rect x="1077" y="166" width="3" height="14" fill="#00f873" />
<rect x="1082" y="161" width="1" height="40" fill="#ff0000" />
<rect x="1081" y="165" width="3" height="13" fill="#ff0000" />
<rect x="1086" y="137" width="1" height="41" fill="#00f873" />
<rect x="1085" y="165" width="3" height="13" fill="#00f873" />
<rect x="1090" y="169" width="1" height="5" fill="#00f873" />
<rect x="1089" y="169" width="3" height="5" fill="#00f873" />
<rect x="1094" y="170" width="1" height="22" fill="#00f873" />
<rect x="1093" y="184" width="3" height="2" fill="#00f873" />
<rect x="1098" y="184" width="1" height="20" fill="#00f873" />
<rect x="1097" y="184" width="3" height="16" fill="#00f873" />
<rect x="1102" y="184" width="1" height="42" fill="#ff0000" />
<rect x="1101" y="184" width="3" height="16" fill="#ff0000" />
<rect x="1106" y="143" width="1" height="40" fill="#ff0000" />
<rect x="1105" y="159" width="3" height="24" fill="#ff0000" />
<rect x="1110" y="154" width="1" height="28" fill="#00f873" />
<rect x="1109" y="159" width="3" height="23" fill="#00f873" />
<rect x="1114" y="181" width="1" height="1" fill="#00f873" />
<rect x="1113" y="181" width="3" height="1" fill="#00f873" />
<rect x="1118" y="171" width="1" height="14" fill="#00f873" />
<rect x="1117" y="181" width="3" height="1" fill="#00f873" />
<rect x="1122" y="145" width="1" height="37" fill="#ff0000" />
<rect x="1121" y="150" width="3" height="32" fill="#ff0000" />
<rect x="1126" y="118" width="1" height="37" fill="#ff0000" />
<rect x="1125" y="136" width="3" height="15" fill="#ff0000" />
<rect x="1130" y="126" width="1" height="27" fill="#ff0000" />
<rect x="1129" y="126" width="3" height="11" fill="#ff0000" />
<rect x="1134" y="120" width="1" height="12" fill="#00f873" />
<rect x="1133" y="126" width="3" height="3" fill="#00f873" />
</g>
<path d="M940 224h4v1h-4zM985 224h10v1h-10zM744 295h4v1h-4zM768 295h7v1h-7zM837 295h2v1h-2zM194 398h2v1h-2zM204 398h4v1h-4zM268 398h12v1h-12zM325 458h3v1h-3zM348 458h2v1h-2zM72 339h2v1h-2zM431 380h2v1h-2zM167 394h2v1h-2zM171 394h2v1h-2zM184 394h4v1h-4zM220 394h3v1h-3zM260 394h3v1h-3zM10 309h2v1h-2zM28 309h3v1h-3zM807 309h2v1h-2zM132 385h3v1h-3zM420 385h3v1h-3zM153 392h7v1h-7zM224 392h2v1h-2zM241 392h3v1h-3zM252 392h4v1h-4zM333 461h7v1h-7zM343 461h2v1h-2zM1068 178h2v1h-2zM192 397h2v1h-2zM208 397h4v1h-4zM266 397h2v1h-2zM1076 173h3v1h-3zM1095 173h2v1h-2zM1108 173h8v1h-8zM1119 173h2v1h-2zM627 135h2v1h-2zM641 135h2v1h-2zM12 308h4v1h-4zM24 308h4v1h-4zM809 308h2v1h-2zM935 222h2v1h-2zM947 222h2v1h-2zM952 222h8v1h-8zM964 222h4v1h-4zM981 222h2v1h-2zM937 223h3v1h-3zM944 223h3v1h-3zM960 223h4v1h-4zM983 223h2v1h-2zM196 399h8v1h-8zM280 399h3v1h-3zM373 442h3v1h-3zM1061 182h2v1h-2zM1063 181h2v1h-2zM80 345h2v1h-2zM469 345h2v1h-2zM160 393h7v1h-7zM173 393h11v1h-11zM244 393h8v1h-8zM256 393h4v1h-4zM61 333h2v1h-2zM1028 207h3v1h-3zM907 221h2v1h-2zM933 221h2v1h-2zM949 221h3v1h-3zM968 221h4v1h-4zM979 221h2v1h-2zM742 294h2v1h-2zM748 294h12v1h-12zM764 294h4v1h-4zM95 356h2v1h-2zM453 356h2v1h-2zM340 462h3v1h-3zM909 220h2v1h-2zM931 220h2v1h-2zM972 220h7v1h-7zM1008 220h2v1h-2zM1080 171h2v1h-2zM1088 171h4v1h-4zM1124 171h3v1h-3zM76 342h2v1h-2zM48 325h2v1h-2zM493 326h2v1h-2zM880 258h2v1h-2zM521 297h3v1h-3zM777 297h2v1h-2zM829 297h6v1h-6zM141 390h10v1h-10zM228 390h11v1h-11zM88 351h2v1h-2zM459 351h2v1h-2zM1092 172h3v1h-3zM1121 172h3v1h-3zM44 322h2v1h-2zM855 276h2v1h-2zM1044 195h2v1h-2zM534 287h2v1h-2zM285 401h3v1h-3zM65 335h2v1h-2zM84 348h2v1h-2zM464 348h2v1h-2zM67 336h2v1h-2zM59 332h2v1h-2zM483 332h2v1h-2zM488 329h2v1h-2zM16 307h8v1h-8zM811 307h2v1h-2zM169 395h2v1h-2zM188 395h3v1h-3zM216 395h4v1h-4zM1072 175h2v1h-2zM1100 175h4v1h-4zM760 293h4v1h-4zM100 359h2v1h-2zM53 328h2v1h-2zM792 305h4v1h-4zM816 305h4v1h-4zM560 260h3v1h-3zM36 315h2v1h-2zM802 310h5v1h-5zM524 296h3v1h-3zM775 296h2v1h-2zM835 296h2v1h-2zM736 289h2v1h-2zM916 214h2v1h-2zM1032 205h2v1h-2zM629 134h7v1h-7zM639 134h2v1h-2zM995 225h2v1h-2zM1019 210h2v1h-2zM1133 167h2v1h-2zM536 286h3v1h-3zM732 286h2v1h-2zM1074 174h2v1h-2zM1097 174h3v1h-3zM1104 174h4v1h-4zM1116 174h3v1h-3zM860 273h2v1h-2zM644 137h2v1h-2zM780 299h2v1h-2zM924 215h2v1h-2zM124 382h2v1h-2zM427 382h2v1h-2zM63 334h2v1h-2zM480 334h2v1h-2zM56 330h2v1h-2zM1082 170h6v1h-6zM1127 170h2v1h-2zM1036 202h2v1h-2zM519 298h2v1h-2zM827 298h2v1h-2zM472 343h2v1h-2zM97 357h2v1h-2zM451 357h2v1h-2zM918 213h5v1h-5zM51 327h2v1h-2zM491 327h2v1h-2zM485 331h2v1h-2zM371 443h2v1h-2zM92 354h2v1h-2zM1131 168h2v1h-2zM1059 183h2v1h-2zM328 459h3v1h-3zM1024 208h4v1h-4zM784 302h2v1h-2zM136 387h2v1h-2zM69 337h2v1h-2zM928 218h2v1h-2zM796 306h3v1h-3zM813 306h3v1h-3zM636 133h3v1h-3zM716 268h2v1h-2zM869 268h2v1h-2zM151 391h2v1h-2zM226 391h2v1h-2zM239 391h2v1h-2zM1129 169h2v1h-2zM320 455h2v1h-2zM353 455h6v1h-6zM139 389h2v1h-2zM863 271h2v1h-2zM1056 185h2v1h-2zM997 226h6v1h-6zM293 404h2v1h-2zM115 375h2v1h-2zM558 261h2v1h-2zM429 381h2v1h-2zM331 460h2v1h-2zM345 460h2v1h-2zM323 457h2v1h-2zM788 304h4v1h-4zM820 304h3v1h-3zM786 303h2v1h-2zM212 396h4v1h-4zM264 396h2v1h-2zM844 288h2v1h-2zM288 402h3v1h-3zM418 386h2v1h-2zM540 284h2v1h-2zM461 350h2v1h-2zM351 456h2v1h-2zM867 269h2v1h-2zM126 383h2v1h-2zM425 383h2v1h-2zM865 270h2v1h-2zM1065 180h2v1h-2zM291 403h2v1h-2zM1021 209h3v1h-3zM283 400h2v1h-2zM1048 192h2v1h-2zM128 384h4v1h-4zM423 384h2v1h-2zM360 453h2v1h-2zM467 346h2v1h-2zM117 376h2v1h-2zM376 441h3v1h-3zM857 275h2v1h-2zM433 379h2v1h-2zM1035 203h1v1h-1zM571 247h1v2h-1zM610 167h1v2h-1zM843 289h1v1h-1zM406 400h1v1h-1zM386 431h1v1h-1zM1004 224h1v1h-1zM1039 200h1v1h-1zM653 146h1v1h-1zM445 364h1v1h-1zM664 161h1v1h-1zM586 221h1v3h-1zM703 240h1v3h-1zM598 197h1v2h-1zM667 166h1v2h-1zM578 237h1v1h-1zM905 223h1v2h-1zM299 412h1v2h-1zM504 314h1v2h-1zM33 312h1v1h-1zM897 237h1v2h-1zM122 380h1v1h-1zM591 211h1v2h-1zM882 257h1v1h-1zM74 340h1v1h-1zM530 291h1v1h-1zM678 189h1v3h-1zM515 302h1v1h-1zM295 405h1v2h-1zM622 144h1v2h-1zM542 283h1v1h-1zM707 251h1v3h-1zM607 174h1v2h-1zM499 321h1v1h-1zM554 266h1v1h-1zM296 407h1v1h-1zM674 181h1v2h-1zM359 454h1v1h-1zM901 230h1v2h-1zM399 409h1v2h-1zM602 188h1v3h-1zM1050 191h1v1h-1zM724 277h1v1h-1zM306 428h1v3h-1zM675 183h1v2h-1zM1011 218h1v1h-1zM512 305h1v1h-1zM850 282h1v1h-1zM606 176h1v3h-1zM725 278h1v1h-1zM32 311h1v1h-1zM409 396h1v1h-1zM475 340h1v2h-1zM394 416h1v2h-1zM800 308h1v1h-1zM303 422h1v2h-1zM507 311h1v1h-1zM663 159h1v2h-1zM900 232h1v2h-1zM366 448h1v1h-1zM700 234h1v2h-1zM121 379h1v1h-1zM317 451h1v2h-1zM298 410h1v2h-1zM677 187h1v2h-1zM913 217h1v1h-1zM110 369h1v1h-1zM885 253h1v1h-1zM688 211h1v2h-1zM363 451h1v1h-1zM853 278h1v1h-1zM597 199h1v2h-1zM799 307h1v1h-1zM652 145h1v1h-1zM441 369h1v2h-1zM671 175h1v2h-1zM1018 211h1v1h-1zM565 256h1v1h-1zM574 243h1v1h-1zM613 161h1v2h-1zM577 238h1v2h-1zM904 225h1v1h-1zM873 265h1v1h-1zM685 204h1v2h-1zM893 243h1v1h-1zM102 360h1v1h-1zM456 354h1v1h-1zM626 136h1v2h-1zM397 412h1v1h-1zM593 207h1v2h-1zM1054 187h1v1h-1zM605 179h1v3h-1zM103 361h1v1h-1zM550 272h1v1h-1zM609 169h1v2h-1zM888 249h1v2h-1zM699 232h1v2h-1zM601 191h1v2h-1zM58 331h1v1h-1zM673 179h1v2h-1zM393 418h1v2h-1zM545 278h1v2h-1zM350 457h1v1h-1zM39 317h1v1h-1zM370 444h1v1h-1zM706 248h1v3h-1zM648 140h1v2h-1zM1034 204h1v1h-1zM385 432h1v1h-1zM911 219h1v1h-1zM896 239h1v1h-1zM585 224h1v2h-1zM670 172h1v3h-1zM899 234h1v2h-1zM305 426h1v2h-1zM400 408h1v1h-1zM621 146h1v2h-1zM302 419h1v3h-1zM389 425h1v2h-1zM728 281h1v2h-1zM1015 214h1v1h-1zM510 307h1v1h-1zM478 336h1v1h-1zM702 238h1v2h-1zM684 202h1v2h-1zM223 393h1v1h-1zM553 267h1v2h-1zM490 328h1v1h-1zM413 392h1v1h-1zM416 388h1v2h-1zM316 449h1v2h-1zM94 355h1v1h-1zM581 231h1v2h-1zM1041 198h1v1h-1zM596 201h1v2h-1zM440 371h1v2h-1zM35 314h1v1h-1zM408 397h1v2h-1zM620 148h1v3h-1zM1006 222h1v1h-1zM38 316h1v1h-1zM447 362h1v1h-1zM79 344h1v1h-1zM1003 225h1v1h-1zM568 252h1v1h-1zM435 378h1v1h-1zM50 326h1v1h-1zM840 292h1v2h-1zM625 138h1v2h-1zM113 373h1v1h-1zM444 365h1v1h-1zM926 216h1v1h-1zM592 209h1v2h-1zM405 401h1v1h-1zM604 182h1v3h-1zM616 157h1v1h-1zM927 217h1v1h-1zM738 290h1v1h-1zM884 254h1v2h-1zM608 171h1v3h-1zM482 333h1v1h-1zM517 300h1v1h-1zM701 236h1v2h-1zM529 292h1v1h-1zM365 449h1v1h-1zM556 263h1v2h-1zM859 274h1v1h-1zM315 447h1v2h-1zM544 280h1v1h-1zM498 322h1v1h-1zM603 185h1v3h-1zM1052 189h1v1h-1zM612 163h1v2h-1zM112 371h1v2h-1zM514 303h1v1h-1zM852 279h1v2h-1zM676 185h1v2h-1zM123 381h1v1h-1zM903 226h1v2h-1zM319 454h1v1h-1zM698 230h1v2h-1zM75 341h1v1h-1zM1010 219h1v1h-1zM895 240h1v2h-1zM584 226h1v2h-1zM322 456h1v1h-1zM849 283h1v1h-1zM396 413h1v2h-1zM312 441h1v2h-1zM672 177h1v2h-1zM719 270h1v2h-1zM388 427h1v2h-1zM474 342h1v1h-1zM847 286h1v1h-1zM587 219h1v2h-1zM466 347h1v1h-1zM304 424h1v2h-1zM783 301h1v1h-1zM824 301h1v2h-1zM887 251h1v1h-1zM368 446h1v1h-1zM654 147h1v1h-1zM90 352h1v1h-1zM683 200h1v2h-1zM600 193h1v2h-1zM705 245h1v3h-1zM380 438h1v2h-1zM686 206h1v3h-1zM580 233h1v2h-1zM915 215h1v1h-1zM655 148h1v1h-1zM392 420h1v2h-1zM727 280h1v1h-1zM442 367h1v2h-1zM34 313h1v1h-1zM680 194h1v2h-1zM314 445h1v2h-1zM138 388h1v1h-1zM875 263h1v1h-1zM564 257h1v2h-1zM782 300h1v1h-1zM646 138h1v1h-1zM111 370h1v1h-1zM297 408h1v2h-1zM1017 212h1v1h-1zM477 337h1v2h-1zM734 287h1v1h-1zM615 158h1v2h-1zM647 139h1v1h-1zM458 352h1v1h-1zM694 223h1v1h-1zM415 390h1v1h-1zM726 279h1v1h-1zM528 293h1v2h-1zM595 203h1v2h-1zM890 247h1v1h-1zM801 309h1v1h-1zM509 308h1v1h-1zM1070 177h1v1h-1zM669 170h1v2h-1zM619 151h1v2h-1zM682 198h1v2h-1zM552 269h1v1h-1zM611 165h1v2h-1zM711 261h1v2h-1zM71 338h1v1h-1zM547 276h1v1h-1zM318 453h1v1h-1zM567 253h1v2h-1zM501 318h1v1h-1zM104 362h1v1h-1zM624 140h1v2h-1zM697 228h1v2h-1zM679 192h1v2h-1zM407 399h1v1h-1zM311 439h1v2h-1zM496 324h1v1h-1zM86 349h1v1h-1zM693 221h1v2h-1zM599 195h1v2h-1zM690 215h1v2h-1zM379 440h1v1h-1zM402 405h1v1h-1zM40 318h1v1h-1zM391 422h1v2h-1zM590 213h1v2h-1zM41 319h1v1h-1zM539 285h1v1h-1zM1043 196h1v1h-1zM516 301h1v1h-1zM657 151h1v1h-1zM1012 217h1v1h-1zM1058 184h1v1h-1zM583 228h1v2h-1zM729 283h1v1h-1zM1047 193h1v1h-1zM263 395h1v1h-1zM55 329h1v1h-1zM1046 194h1v1h-1zM661 156h1v2h-1zM387 429h1v2h-1zM902 228h1v2h-1zM410 395h1v1h-1zM1005 223h1v1h-1zM1051 190h1v1h-1zM643 136h1v1h-1zM119 377h1v1h-1zM446 363h1v1h-1zM449 359h1v1h-1zM696 226h1v2h-1zM570 249h1v1h-1zM839 294h1v1h-1zM382 436h1v1h-1zM579 235h1v2h-1zM310 437h1v2h-1zM906 222h1v1h-1zM594 205h1v2h-1zM649 142h1v1h-1zM114 374h1v1h-1zM718 269h1v1h-1zM898 236h1v1h-1zM650 143h1v1h-1zM99 358h1v1h-1zM886 252h1v1h-1zM531 290h1v1h-1zM367 447h1v1h-1zM543 281h1v2h-1zM656 149h1v2h-1zM500 319h1v2h-1zM740 292h1v1h-1zM555 265h1v1h-1zM623 142h1v2h-1zM668 168h1v2h-1zM437 376h1v1h-1zM862 272h1v1h-1zM851 281h1v1h-1zM854 277h1v1h-1zM710 259h1v2h-1zM874 264h1v1h-1zM313 443h1v2h-1zM573 244h1v2h-1zM842 290h1v1h-1zM398 411h1v1h-1zM47 324h1v1h-1zM1038 201h1v1h-1zM692 219h1v2h-1zM508 309h1v2h-1zM892 244h1v2h-1zM511 306h1v1h-1zM846 287h1v1h-1zM721 273h1v2h-1zM457 353h1v1h-1zM618 153h1v2h-1zM503 316h1v1h-1zM506 312h1v1h-1zM689 213h1v2h-1zM739 291h1v1h-1zM877 261h1v1h-1zM681 196h1v2h-1zM912 218h1v1h-1zM713 264h1v2h-1zM566 255h1v1h-1zM714 266h1v1h-1zM362 452h1v1h-1zM695 224h1v2h-1zM106 364h1v1h-1zM495 325h1v1h-1zM923 214h1v1h-1zM691 217h1v2h-1zM487 330h1v1h-1zM476 339h1v1h-1zM589 215h1v2h-1zM527 295h1v1h-1zM720 272h1v1h-1zM823 303h1v1h-1zM826 299h1v1h-1zM889 248h1v1h-1zM347 459h1v1h-1zM91 353h1v1h-1zM1042 197h1v1h-1zM448 360h1v2h-1zM546 277h1v1h-1zM549 273h1v1h-1zM569 250h1v2h-1zM135 386h1v1h-1zM659 153h1v2h-1zM43 321h1v1h-1zM46 323h1v1h-1zM709 256h1v3h-1zM712 263h1v1h-1zM401 406h1v2h-1zM404 402h1v2h-1zM533 288h1v1h-1zM369 445h1v1h-1zM479 335h1v1h-1zM614 160h1v1h-1zM381 437h1v1h-1zM872 266h1v1h-1zM735 288h1v1h-1zM309 435h1v2h-1zM417 387h1v1h-1zM518 299h1v1h-1zM87 350h1v1h-1zM1014 215h1v1h-1zM455 355h1v1h-1zM412 393h1v1h-1zM1007 221h1v1h-1zM1053 188h1v1h-1zM42 320h1v1h-1zM658 152h1v1h-1zM31 310h1v1h-1zM436 377h1v1h-1zM471 344h1v1h-1zM666 164h1v2h-1zM301 417h1v2h-1zM384 433h1v2h-1zM105 363h1v1h-1zM779 298h1v1h-1zM1079 172h1v1h-1zM841 291h1v1h-1zM617 155h1v2h-1zM731 285h1v1h-1zM120 378h1v1h-1zM576 240h1v1h-1zM879 259h1v1h-1zM308 433h1v2h-1zM883 256h1v1h-1zM502 317h1v1h-1zM557 262h1v1h-1zM439 373h1v2h-1zM687 209h1v2h-1zM651 144h1v1h-1zM364 450h1v1h-1zM876 262h1v1h-1zM463 349h1v1h-1zM730 284h1v1h-1zM741 293h1v1h-1zM1040 199h1v1h-1zM662 158h1v1h-1zM848 284h1v2h-1zM513 304h1v1h-1zM588 217h1v2h-1zM82 346h1v1h-1zM665 162h1v2h-1zM300 414h1v3h-1zM891 246h1v1h-1zM395 415h1v1h-1zM83 347h1v1h-1zM715 267h1v1h-1zM930 219h1v1h-1zM108 366h1v2h-1zM708 254h1v2h-1zM548 274h1v2h-1zM443 366h1v1h-1zM109 368h1v1h-1zM722 275h1v1h-1zM307 431h1v2h-1zM914 216h1v1h-1zM723 276h1v1h-1zM704 243h1v2h-1zM563 259h1v1h-1zM497 323h1v1h-1zM572 246h1v1h-1zM1067 179h1v1h-1zM191 396h1v1h-1zM575 241h1v2h-1zM1016 213h1v1h-1zM532 289h1v1h-1zM1071 176h1v1h-1zM825 300h1v1h-1zM871 267h1v1h-1zM551 270h1v2h-1zM1013 216h1v1h-1zM505 313h1v1h-1zM78 343h1v1h-1zM403 404h1v1h-1zM383 435h1v1h-1zM660 155h1v1h-1zM894 242h1v1h-1zM1055 186h1v1h-1zM107 365h1v1h-1zM878 260h1v1h-1zM390 424h1v1h-1zM414 391h1v1h-1zM411 394h1v1h-1zM1031 206h1v1h-1zM438 375h1v1h-1zM582 230h1v1h-1zM450 358h1v1h-1z" fill="#ffff00" shape-rendering="crispEdges"/>
<path d="M473 332h2v1h-2zM909 225h3v1h-3zM1001 225h2v1h-2zM1054 169h2v1h-2zM1084 169h4v1h-4zM171 381h2v1h-2zM180 381h3v1h-3zM879 222h2v1h-2zM900 222h4v1h-4zM916 222h2v1h-2zM1064 172h12v1h-12zM1096 172h2v1h-2zM60 336h8v1h-8zM71 336h2v1h-2zM206 417h2v1h-2zM159 384h2v1h-2zM236 384h2v1h-2zM702 267h2v1h-2zM708 267h11v1h-11zM511 297h2v1h-2zM136 400h2v1h-2zM140 400h3v1h-3zM704 266h4v1h-4zM53 337h7v1h-7zM73 337h2v1h-2zM461 337h6v1h-6zM1076 173h3v1h-3zM1098 173h2v1h-2zM1124 173h3v1h-3zM904 223h3v1h-3zM960 223h2v1h-2zM251 372h2v1h-2zM416 372h2v1h-2zM342 462h2v1h-2zM348 462h3v1h-3zM1060 170h2v1h-2zM1082 170h2v1h-2zM1088 170h7v1h-7zM497 305h2v1h-2zM392 397h3v1h-3zM507 299h2v1h-2zM946 213h5v1h-5zM384 405h2v1h-2zM555 250h2v1h-2zM1111 176h2v1h-2zM1116 176h3v1h-3zM253 371h3v1h-3zM418 371h2v1h-2zM328 470h4v1h-4zM509 298h2v1h-2zM808 298h2v1h-2zM40 343h7v1h-7zM968 226h2v1h-2zM993 226h3v1h-3zM999 226h2v1h-2zM317 473h3v1h-3zM115 398h2v1h-2zM390 398h2v1h-2zM881 221h3v1h-3zM888 221h4v1h-4zM896 221h4v1h-4zM921 219h3v1h-3zM928 219h11v1h-11zM907 224h2v1h-2zM912 224h3v1h-3zM962 224h5v1h-5zM752 311h2v1h-2zM772 311h3v1h-3zM819 311h2v1h-2zM824 311h7v1h-7zM991 227h2v1h-2zM996 227h3v1h-3zM1056 168h3v1h-3zM831 310h2v1h-2zM256 370h3v1h-3zM420 370h12v1h-12zM352 460h2v1h-2zM1108 175h3v1h-3zM1119 175h2v1h-2zM697 271h2v1h-2zM36 341h2v1h-2zM117 399h2v1h-2zM138 399h2v1h-2zM792 290h2v1h-2zM164 382h7v1h-7zM240 382h3v1h-3zM747 308h2v1h-2zM520 291h3v1h-3zM1020 200h2v1h-2zM51 338h2v1h-2zM459 338h2v1h-2zM155 386h2v1h-2zM196 408h2v1h-2zM762 312h10v1h-10zM821 312h3v1h-3zM513 296h2v1h-2zM396 395h2v1h-2zM432 369h3v1h-3zM132 403h2v1h-2zM535 274h2v1h-2zM760 313h2v1h-2zM1036 187h2v1h-2zM884 220h4v1h-4zM892 220h4v1h-4zM919 220h2v1h-2zM557 249h2v1h-2zM749 309h2v1h-2zM833 309h2v1h-2zM756 314h2v1h-2zM504 300h3v1h-3zM173 380h7v1h-7zM244 380h2v1h-2zM1062 171h2v1h-2zM1080 171h2v1h-2zM1128 171h2v1h-2zM344 461h4v1h-4zM800 287h2v1h-2zM984 229h4v1h-4zM1100 174h8v1h-8zM1121 174h3v1h-3zM151 388h2v1h-2zM941 217h2v1h-2zM290 435h2v1h-2zM161 383h3v1h-3zM238 383h2v1h-2zM157 385h2v1h-2zM628 97h3v1h-3zM228 392h2v1h-2zM400 392h2v1h-2zM690 272h2v1h-2zM695 272h2v1h-2zM495 306h2v1h-2zM744 306h2v1h-2zM518 292h2v1h-2zM324 471h4v1h-4zM153 387h2v1h-2zM1113 177h3v1h-3zM988 228h3v1h-3zM976 230h8v1h-8zM332 469h3v1h-3zM315 472h2v1h-2zM320 472h4v1h-4zM484 317h2v1h-2zM68 335h3v1h-3zM468 335h2v1h-2zM1023 198h2v1h-2zM471 333h2v1h-2zM974 231h2v1h-2zM502 301h2v1h-2zM1025 197h2v1h-2zM296 438h2v1h-2zM208 416h3v1h-3zM38 342h2v1h-2zM292 436h3v1h-3zM537 273h2v1h-2zM692 273h3v1h-3zM924 218h4v1h-4zM939 218h2v1h-2zM626 98h2v1h-2zM1044 179h2v1h-2zM340 463h2v1h-2zM436 367h2v1h-2zM866 245h1v1h-1zM563 244h1v1h-1zM145 396h1v1h-1zM1047 177h1v1h-1zM1012 210h1v2h-1zM657 169h1v3h-1zM310 463h1v2h-1zM642 117h1v3h-1zM812 301h1v2h-1zM1059 169h1v1h-1zM670 216h1v3h-1zM643 120h1v4h-1zM28 332h1v2h-1zM302 446h1v2h-1zM1040 183h1v2h-1zM743 305h1v1h-1zM794 289h1v1h-1zM612 132h1v2h-1zM656 166h1v3h-1zM183 382h1v2h-1zM835 308h1v1h-1zM547 259h1v2h-1zM477 325h1v2h-1zM838 304h1v1h-1zM785 297h1v2h-1zM850 277h1v2h-1zM298 439h1v1h-1zM684 263h1v2h-1zM582 206h1v3h-1zM458 339h1v1h-1zM673 227h1v4h-1zM591 185h1v3h-1zM193 403h1v2h-1zM677 241h1v4h-1zM571 233h1v2h-1zM299 440h1v2h-1zM363 443h1v2h-1zM649 142h1v4h-1zM103 375h1v2h-1zM595 173h1v3h-1zM312 467h1v2h-1zM375 417h1v2h-1zM85 349h1v1h-1zM607 145h1v3h-1zM441 361h1v2h-1zM106 381h1v2h-1zM220 403h1v1h-1zM878 223h1v1h-1zM855 265h1v3h-1zM527 284h1v2h-1zM842 295h1v3h-1zM96 363h1v2h-1zM453 345h1v1h-1zM587 195h1v2h-1zM313 469h1v2h-1zM611 134h1v3h-1zM635 102h1v1h-1zM543 266h1v2h-1zM680 252h1v3h-1zM190 396h1v3h-1zM566 240h1v1h-1zM148 392h1v1h-1zM846 285h1v3h-1zM368 431h1v2h-1zM663 190h1v4h-1zM1008 216h1v2h-1zM858 257h1v3h-1zM492 309h1v1h-1zM615 123h1v3h-1zM212 413h1v2h-1zM590 188h1v3h-1zM129 406h1v1h-1zM215 409h1v2h-1zM269 388h1v3h-1zM815 305h1v2h-1zM21 323h1v2h-1zM639 108h1v3h-1zM648 138h1v4h-1zM579 214h1v2h-1zM362 445h1v3h-1zM306 454h1v3h-1zM594 176h1v3h-1zM610 137h1v3h-1zM874 230h1v2h-1zM666 201h1v3h-1zM816 307h1v1h-1zM686 267h1v2h-1zM854 268h1v3h-1zM863 248h1v1h-1zM687 269h1v1h-1zM531 278h1v1h-1zM243 381h1v1h-1zM845 288h1v2h-1zM1004 222h1v2h-1zM599 164h1v2h-1zM273 399h1v2h-1zM623 104h1v2h-1zM480 321h1v1h-1zM1051 173h1v1h-1zM223 399h1v2h-1zM578 216h1v3h-1zM411 378h1v2h-1zM804 291h1v2h-1zM645 127h1v4h-1zM383 406h1v1h-1zM449 350h1v2h-1zM807 297h1v1h-1zM638 106h1v2h-1zM102 373h1v2h-1zM409 381h1v2h-1zM280 416h1v2h-1zM1035 188h1v1h-1zM309 461h1v2h-1zM95 362h1v1h-1zM659 175h1v4h-1zM124 407h1v1h-1zM679 248h1v4h-1zM476 327h1v2h-1zM76 339h1v1h-1zM758 315h1v1h-1zM1015 206h1v2h-1zM652 153h1v3h-1zM1039 185h1v1h-1zM1134 166h1v1h-1zM720 269h1v2h-1zM200 411h1v1h-1zM17 316h1v2h-1zM954 217h1v1h-1zM577 219h1v3h-1zM669 212h1v4h-1zM99 367h1v2h-1zM77 340h1v1h-1zM500 303h1v1h-1zM721 271h1v1h-1zM276 406h1v3h-1zM30 335h1v1h-1zM606 148h1v3h-1zM665 197h1v4h-1zM110 390h1v2h-1zM31 336h1v1h-1zM374 419h1v2h-1zM683 261h1v2h-1zM641 114h1v3h-1zM84 348h1v1h-1zM301 444h1v2h-1zM841 298h1v2h-1zM452 346h1v2h-1zM589 191h1v2h-1zM542 268h1v1h-1zM398 394h1v1h-1zM147 393h1v2h-1zM672 223h1v4h-1zM554 251h1v1h-1zM857 260h1v3h-1zM192 401h1v2h-1zM803 289h1v2h-1zM644 124h1v3h-1zM211 415h1v1h-1zM873 232h1v2h-1zM338 465h1v1h-1zM444 357h1v2h-1zM101 371h1v2h-1zM662 187h1v3h-1zM637 105h1v1h-1zM776 309h1v1h-1zM1042 181h1v1h-1zM796 287h1v1h-1zM335 468h1v1h-1zM279 414h1v2h-1zM1011 212h1v1h-1zM308 459h1v2h-1zM675 234h1v4h-1zM546 261h1v1h-1zM268 386h1v2h-1zM862 249h1v2h-1zM658 172h1v3h-1zM20 322h1v1h-1zM849 279h1v2h-1zM549 256h1v2h-1zM1046 178h1v1h-1zM622 106h1v3h-1zM651 149h1v4h-1zM16 314h1v2h-1zM601 160h1v2h-1zM814 304h1v1h-1zM869 239h1v2h-1zM354 459h1v1h-1zM184 384h1v2h-1zM222 401h1v1h-1zM275 404h1v2h-1zM467 336h1v1h-1zM586 197h1v2h-1zM369 429h1v2h-1zM1007 218h1v2h-1zM614 126h1v3h-1zM1030 193h1v1h-1zM784 299h1v1h-1zM405 388h1v1h-1zM682 259h1v2h-1zM724 275h1v1h-1zM655 163h1v3h-1zM300 442h1v2h-1zM494 307h1v1h-1zM214 411h1v1h-1zM131 404h1v1h-1zM195 407h1v1h-1zM272 396h1v3h-1zM668 208h1v4h-1zM361 448h1v2h-1zM475 329h1v2h-1zM440 363h1v1h-1zM105 379h1v2h-1zM1014 208h1v1h-1zM676 238h1v3h-1zM135 401h1v1h-1zM191 399h1v2h-1zM282 420h1v3h-1zM853 271h1v2h-1zM311 465h1v2h-1zM97 365h1v1h-1zM412 377h1v1h-1zM613 129h1v3h-1zM565 241h1v1h-1zM972 229h1v1h-1zM447 353h1v2h-1zM366 435h1v3h-1zM533 276h1v1h-1zM598 166h1v2h-1zM98 366h1v1h-1zM307 457h1v2h-1zM19 320h1v2h-1zM817 308h1v2h-1zM581 209h1v2h-1zM918 221h1v1h-1zM837 305h1v1h-1zM735 293h1v2h-1zM787 295h1v1h-1zM818 310h1v1h-1zM23 326h1v1h-1zM408 383h1v2h-1zM877 224h1v2h-1zM455 343h1v1h-1zM377 414h1v2h-1zM568 237h1v2h-1zM580 211h1v3h-1zM654 160h1v3h-1zM626 99h1v1h-1zM217 406h1v2h-1zM545 262h1v2h-1zM806 295h1v2h-1zM226 394h1v1h-1zM491 310h1v1h-1zM104 377h1v2h-1zM278 411h1v3h-1zM605 151h1v2h-1zM802 288h1v1h-1zM281 418h1v2h-1zM388 401h1v1h-1zM230 391h1v1h-1zM865 246h1v1h-1zM482 319h1v1h-1zM22 325h1v1h-1zM572 231h1v2h-1zM625 100h1v2h-1zM373 421h1v2h-1zM609 140h1v3h-1zM844 290h1v3h-1zM486 316h1v1h-1zM856 263h1v2h-1zM15 312h1v2h-1zM267 383h1v3h-1zM126 409h1v1h-1zM18 318h1v2h-1zM783 300h1v2h-1zM588 193h1v2h-1zM661 183h1v4h-1zM435 368h1v1h-1zM723 273h1v2h-1zM674 231h1v3h-1zM202 413h1v1h-1zM111 392h1v2h-1zM604 153h1v3h-1zM872 234h1v2h-1zM479 322h1v1h-1zM734 291h1v2h-1zM840 300h1v2h-1zM647 134h1v4h-1zM967 225h1v1h-1zM360 450h1v2h-1zM260 372h1v1h-1zM12 306h1v2h-1zM660 179h1v4h-1zM685 265h1v2h-1zM112 394h1v1h-1zM608 143h1v2h-1zM727 279h1v2h-1zM843 293h1v2h-1zM861 251h1v2h-1zM597 168h1v3h-1zM640 111h1v3h-1zM621 109h1v2h-1zM443 359h1v1h-1zM274 401h1v3h-1zM799 286h1v1h-1zM108 385h1v3h-1zM86 350h1v1h-1zM791 291h1v1h-1zM689 271h1v1h-1zM365 438h1v2h-1zM653 156h1v4h-1zM576 222h1v2h-1zM859 255h1v2h-1zM805 293h1v2h-1zM600 162h1v2h-1zM868 241h1v2h-1zM233 387h1v1h-1zM100 369h1v2h-1zM671 219h1v4h-1zM150 389h1v1h-1zM1133 167h1v1h-1zM848 281h1v2h-1zM1017 203h1v2h-1zM48 341h1v1h-1zM356 457h1v1h-1zM119 400h1v2h-1zM945 214h1v1h-1zM836 306h1v2h-1zM524 288h1v2h-1zM667 204h1v4h-1zM407 385h1v2h-1zM125 408h1v1h-1zM876 226h1v2h-1zM560 247h1v1h-1zM620 111h1v2h-1zM14 310h1v2h-1zM364 440h1v3h-1zM575 224h1v3h-1zM737 296h1v2h-1zM201 412h1v1h-1zM778 307h1v1h-1zM295 437h1v1h-1zM78 341h1v1h-1zM699 270h1v1h-1zM722 272h1v1h-1zM678 245h1v3h-1zM688 270h1v1h-1zM956 219h1v1h-1zM544 264h1v2h-1zM646 131h1v3h-1zM380 410h1v1h-1zM79 342h1v1h-1zM264 377h1v2h-1zM446 355h1v1h-1zM225 395h1v2h-1zM681 255h1v4h-1zM11 304h1v2h-1zM664 194h1v3h-1zM798 285h1v1h-1zM285 427h1v2h-1zM372 423h1v2h-1zM337 466h1v1h-1zM144 397h1v2h-1zM539 272h1v1h-1zM775 310h1v1h-1zM1041 182h1v1h-1zM33 338h1v1h-1zM1013 209h1v1h-1zM617 118h1v3h-1zM548 258h1v1h-1zM271 394h1v2h-1zM632 99h1v1h-1zM532 277h1v1h-1zM89 354h1v1h-1zM359 452h1v2h-1zM489 312h1v1h-1zM603 156h1v2h-1zM871 236h1v2h-1zM1032 191h1v1h-1zM1127 172h1v1h-1zM955 218h1v1h-1zM277 409h1v2h-1zM592 182h1v3h-1zM259 371h1v1h-1zM1029 194h1v1h-1zM786 296h1v1h-1zM725 276h1v2h-1zM733 289h1v2h-1zM187 390h1v2h-1zM376 416h1v1h-1zM470 334h1v1h-1zM25 329h1v1h-1zM736 295h1v1h-1zM32 337h1v1h-1zM781 303h1v1h-1zM726 278h1v1h-1zM454 344h1v1h-1zM114 397h1v1h-1zM729 282h1v2h-1zM387 402h1v2h-1zM367 433h1v2h-1zM232 388h1v2h-1zM867 243h1v2h-1zM650 146h1v3h-1zM1048 176h1v1h-1zM303 448h1v2h-1zM847 283h1v2h-1zM1016 205h1v1h-1zM402 391h1v1h-1zM523 290h1v1h-1zM288 432h1v2h-1zM755 313h1v1h-1zM839 302h1v2h-1zM481 320h1v1h-1zM551 254h1v1h-1zM270 391h1v3h-1zM789 293h1v1h-1zM24 327h1v2h-1zM973 230h1v1h-1zM189 394h1v2h-1zM122 405h1v1h-1zM1131 169h1v1h-1zM943 216h1v1h-1zM379 411h1v2h-1zM224 397h1v2h-1zM80 343h1v2h-1zM371 425h1v2h-1zM457 340h1v1h-1zM266 381h1v2h-1zM247 377h1v2h-1zM732 287h1v2h-1zM235 385h1v1h-1zM740 301h1v1h-1zM113 395h1v2h-1zM567 239h1v1h-1zM570 235h1v1h-1zM81 345h1v1h-1zM10 303h1v1h-1zM616 121h1v2h-1zM493 308h1v1h-1zM216 408h1v1h-1zM754 312h1v1h-1zM631 98h1v1h-1zM515 295h1v1h-1zM1027 196h1v1h-1zM875 228h1v2h-1zM619 113h1v2h-1zM562 245h1v1h-1zM88 352h1v2h-1zM488 313h1v2h-1zM284 425h1v2h-1zM574 227h1v2h-1zM414 374h1v1h-1zM128 407h1v1h-1zM47 342h1v1h-1zM624 102h1v2h-1zM121 403h1v2h-1zM559 248h1v1h-1zM339 464h1v1h-1zM13 308h1v2h-1zM530 279h1v1h-1zM583 204h1v2h-1zM186 388h1v2h-1zM739 299h1v2h-1zM219 404h1v1h-1zM305 452h1v2h-1zM265 379h1v2h-1zM728 281h1v1h-1zM109 388h1v2h-1zM410 380h1v1h-1zM445 356h1v1h-1zM203 414h1v1h-1zM286 429h1v2h-1zM1019 201h1v1h-1zM50 339h1v1h-1zM358 454h1v2h-1zM250 373h1v1h-1zM287 431h1v1h-1zM1034 189h1v1h-1zM204 415h1v1h-1zM526 286h1v1h-1zM262 374h1v1h-1zM351 461h1v1h-1zM746 307h1v1h-1zM87 351h1v1h-1zM406 387h1v1h-1zM35 340h1v1h-1zM780 304h1v2h-1zM499 304h1v1h-1zM951 214h1v1h-1zM701 268h1v1h-1zM1003 224h1v1h-1zM120 402h1v1h-1zM1050 174h1v1h-1zM618 115h1v3h-1zM382 407h1v1h-1zM227 393h1v1h-1zM448 352h1v1h-1zM957 220h1v1h-1zM185 386h1v2h-1zM777 308h1v1h-1zM797 286h1v1h-1zM1043 180h1v1h-1zM738 298h1v1h-1zM261 373h1v1h-1zM143 399h1v1h-1zM386 404h1v1h-1zM958 221h1v1h-1zM573 229h1v2h-1zM731 285h1v2h-1zM1038 186h1v1h-1zM283 423h1v2h-1zM602 158h1v2h-1zM795 288h1v1h-1zM370 427h1v2h-1zM456 341h1v2h-1zM870 238h1v1h-1zM91 356h1v2h-1zM1031 192h1v1h-1zM788 294h1v1h-1zM585 199h1v2h-1zM188 392h1v2h-1zM1130 170h1v1h-1zM634 101h1v1h-1zM1006 220h1v1h-1zM378 413h1v1h-1zM26 330h1v1h-1zM1053 170h1v1h-1zM541 269h1v1h-1zM741 302h1v2h-1zM404 389h1v1h-1zM304 450h1v2h-1zM231 390h1v1h-1zM553 252h1v1h-1zM811 300h1v1h-1zM246 379h1v1h-1zM413 375h1v2h-1zM27 331h1v1h-1zM742 304h1v1h-1zM534 275h1v1h-1zM915 223h1v1h-1zM852 273h1v2h-1zM584 201h1v3h-1zM593 179h1v3h-1zM1010 213h1v1h-1zM146 395h1v1h-1zM483 318h1v1h-1zM1095 171h1v1h-1zM289 434h1v1h-1zM1079 172h1v1h-1zM561 246h1v1h-1zM34 339h1v1h-1zM550 255h1v1h-1zM487 315h1v1h-1zM529 280h1v2h-1zM127 408h1v1h-1zM633 100h1v1h-1zM478 323h1v2h-1zM90 355h1v1h-1zM381 408h1v2h-1zM596 171h1v2h-1zM249 374h1v2h-1zM439 364h1v2h-1zM94 361h1v1h-1zM569 236h1v1h-1zM198 409h1v1h-1zM810 299h1v1h-1zM123 406h1v1h-1zM451 348h1v1h-1zM517 293h1v1h-1zM218 405h1v1h-1zM474 331h1v1h-1zM564 242h1v2h-1zM199 410h1v1h-1zM149 390h1v2h-1zM389 399h1v2h-1zM234 386h1v1h-1zM730 284h1v1h-1zM213 412h1v1h-1zM1018 202h1v1h-1zM130 405h1v1h-1zM49 340h1v1h-1zM357 456h1v1h-1zM490 311h1v1h-1zM82 346h1v1h-1zM525 287h1v1h-1zM134 402h1v1h-1zM864 247h1v1h-1zM83 347h1v1h-1zM93 359h1v2h-1zM779 306h1v1h-1zM540 270h1v2h-1zM221 402h1v1h-1zM314 471h1v1h-1zM1049 175h1v1h-1zM516 294h1v1h-1zM860 253h1v2h-1zM953 216h1v1h-1zM1009 214h1v2h-1zM75 338h1v1h-1zM442 360h1v1h-1zM1033 190h1v1h-1zM528 282h1v2h-1zM263 375h1v2h-1zM1022 199h1v1h-1zM719 268h1v1h-1zM107 383h1v2h-1zM205 416h1v1h-1zM782 302h1v1h-1zM1052 171h1v2h-1zM700 269h1v1h-1zM194 405h1v2h-1zM395 396h1v1h-1zM636 103h1v2h-1zM851 275h1v2h-1zM952 215h1v1h-1zM971 228h1v1h-1zM552 253h1v1h-1zM759 314h1v1h-1zM751 310h1v1h-1zM790 292h1v1h-1zM813 303h1v1h-1zM336 467h1v1h-1zM29 334h1v1h-1zM501 302h1v1h-1zM959 222h1v1h-1zM1132 168h1v1h-1zM355 458h1v1h-1zM944 215h1v1h-1zM970 227h1v1h-1zM399 393h1v1h-1zM1005 221h1v1h-1zM1028 195h1v1h-1zM92 358h1v1h-1zM403 390h1v1h-1zM248 376h1v1h-1zM438 366h1v1h-1zM415 373h1v1h-1zM450 349h1v1h-1z" fill="#ff0000" shape-rendering="crispEdges"/>
<path d="M69 329h2v1h-2zM197 433h2v1h-2zM559 227h2v1h-2zM944 227h2v1h-2zM947 227h2v1h-2zM920 200h3v1h-3zM1101 180h2v1h-2zM1110 180h6v1h-6zM936 220h2v1h-2zM237 339h2v1h-2zM1116 181h3v1h-3zM392 377h3v1h-3zM401 377h3v1h-3zM57 328h2v1h-2zM534 262h2v1h-2zM717 262h2v1h-2zM416 364h2v1h-2zM234 338h3v1h-3zM954 229h2v1h-2zM959 229h2v1h-2zM968 229h2v1h-2zM561 228h2v1h-2zM952 228h2v1h-2zM956 228h3v1h-3zM964 228h2v1h-2zM1068 168h4v1h-4zM55 327h2v1h-2zM974 234h5v1h-5zM462 311h2v1h-2zM478 311h5v1h-5zM420 362h4v1h-4zM428 362h8v1h-8zM24 352h2v1h-2zM117 419h6v1h-6zM390 378h2v1h-2zM395 378h2v1h-2zM399 378h2v1h-2zM961 230h2v1h-2zM984 230h3v1h-3zM296 447h3v1h-3zM554 226h5v1h-5zM949 226h2v1h-2zM990 226h5v1h-5zM795 293h2v1h-2zM516 275h2v1h-2zM680 275h2v1h-2zM779 275h2v1h-2zM995 225h2v1h-2zM1099 179h2v1h-2zM1108 179h2v1h-2zM522 277h2v1h-2zM1055 167h2v1h-2zM1072 167h3v1h-3zM1040 175h4v1h-4zM1048 175h3v1h-3zM49 330h2v1h-2zM67 330h2v1h-2zM980 232h2v1h-2zM712 260h3v1h-3zM16 351h2v1h-2zM745 351h2v1h-2zM397 379h2v1h-2zM31 346h2v1h-2zM682 274h5v1h-5zM502 288h3v1h-3zM1024 171h2v1h-2zM1031 171h2v1h-2zM1080 171h3v1h-3zM1089 171h3v1h-3zM505 289h2v1h-2zM19 353h2v1h-2zM1064 169h4v1h-4zM1076 169h2v1h-2zM1033 172h2v1h-2zM1083 172h2v1h-2zM1087 172h2v1h-2zM1092 172h3v1h-3zM617 83h2v1h-2zM363 417h2v1h-2zM424 361h4v1h-4zM860 199h2v1h-2zM918 199h2v1h-2zM412 367h2v1h-2zM1104 178h2v1h-2zM33 345h2v1h-2zM115 420h2v1h-2zM536 261h3v1h-3zM715 261h2v1h-2zM204 435h2v1h-2zM404 376h3v1h-3zM62 332h2v1h-2zM1038 176h2v1h-2zM1044 176h4v1h-4zM982 231h2v1h-2zM669 283h3v1h-3zM37 343h2v1h-2zM520 276h2v1h-2zM524 276h3v1h-3zM781 276h2v1h-2zM464 310h3v1h-3zM99 404h2v1h-2zM1026 170h5v1h-5zM1062 170h2v1h-2zM1078 170h2v1h-2zM325 494h2v1h-2zM418 363h2v1h-2zM436 363h3v1h-3zM613 85h2v1h-2zM797 294h2v1h-2zM540 259h2v1h-2zM710 259h2v1h-2zM286 462h2v1h-2zM818 333h5v1h-5zM355 424h2v1h-2zM152 359h3v1h-3zM471 315h2v1h-2zM365 416h2v1h-2zM101 405h2v1h-2zM150 360h2v1h-2zM195 432h2v1h-2zM35 344h2v1h-2zM473 316h2v1h-2zM21 354h2v1h-2zM997 224h2v1h-2zM294 448h2v1h-2zM47 331h2v1h-2zM64 331h3v1h-3zM667 282h2v1h-2zM672 282h3v1h-3zM322 495h3v1h-3zM688 272h2v1h-2zM1085 173h2v1h-2zM357 425h2v1h-2zM1057 166h2v1h-2zM611 86h2v1h-2zM620 81h2v1h-2zM615 84h2v1h-2zM641 141h1v7h-1zM951 227h1v1h-1zM635 105h1v6h-1zM212 417h1v4h-1zM372 406h1v2h-1zM584 176h1v5h-1zM73 338h1v4h-1zM306 461h1v3h-1zM583 181h1v5h-1zM843 256h1v6h-1zM164 377h1v2h-1zM609 89h1v3h-1zM789 285h1v2h-1zM754 326h1v3h-1zM1004 210h1v3h-1zM224 361h1v4h-1zM290 457h1v2h-1zM552 229h1v2h-1zM848 228h1v5h-1zM868 206h1v3h-1zM313 477h1v2h-1zM449 338h1v3h-1zM644 163h1v7h-1zM461 312h1v1h-1zM596 126h1v3h-1zM628 79h1v2h-1zM734 327h1v3h-1zM216 398h1v5h-1zM1012 190h1v3h-1zM587 162h1v4h-1zM531 268h1v2h-1zM261 406h1v4h-1zM758 311h1v3h-1zM189 418h1v2h-1zM970 230h1v1h-1zM889 242h1v2h-1zM457 318h1v3h-1zM578 199h1v2h-1zM811 322h1v2h-1zM724 286h1v5h-1zM905 222h1v1h-1zM91 381h1v3h-1zM727 300h1v5h-1zM647 186h1v8h-1zM1130 159h1v2h-1zM387 381h1v1h-1zM499 293h1v2h-1zM527 275h1v1h-1zM574 207h1v1h-1zM942 225h1v1h-1zM1103 179h1v1h-1zM600 115h1v2h-1zM900 228h1v1h-1zM543 255h1v2h-1zM943 226h1v1h-1zM275 440h1v2h-1zM705 254h1v1h-1zM932 216h1v1h-1zM637 116h1v6h-1zM608 92h1v3h-1zM1126 167h1v2h-1zM1096 175h1v1h-1zM753 329h1v3h-1zM551 231h1v2h-1zM706 255h1v1h-1zM112 418h1v2h-1zM656 253h1v4h-1zM896 234h1v2h-1zM842 262h1v5h-1zM496 300h1v2h-1zM26 351h1v1h-1zM678 277h1v1h-1zM650 210h1v8h-1zM1011 193h1v2h-1zM567 217h1v2h-1zM721 273h1v4h-1zM215 403h1v5h-1zM854 209h1v3h-1zM646 178h1v8h-1zM335 468h1v5h-1zM530 270h1v2h-1zM577 201h1v2h-1zM246 366h1v3h-1zM304 457h1v2h-1zM162 373h1v2h-1zM165 379h1v2h-1zM851 217h1v2h-1zM924 202h1v2h-1zM741 344h1v3h-1zM351 426h1v1h-1zM518 274h1v1h-1zM1129 161h1v2h-1zM1054 168h1v1h-1zM72 335h1v3h-1zM386 382h1v2h-1zM218 388h1v5h-1zM123 418h1v1h-1zM599 117h1v2h-1zM899 229h1v2h-1zM476 313h1v2h-1zM253 384h1v2h-1zM542 257h1v2h-1zM791 288h1v1h-1zM649 202h1v8h-1zM311 474h1v2h-1zM314 479h1v2h-1zM792 289h1v2h-1zM79 353h1v4h-1zM97 399h1v3h-1zM347 432h1v2h-1zM836 293h1v3h-1zM1125 169h1v2h-1zM761 299h1v4h-1zM382 390h1v2h-1zM549 235h1v4h-1zM239 341h1v4h-1zM30 347h1v1h-1zM630 83h1v4h-1zM769 278h1v3h-1zM895 236h1v2h-1zM242 352h1v3h-1zM495 302h1v2h-1zM188 415h1v3h-1zM623 79h1v1h-1zM813 325h1v2h-1zM652 226h1v8h-1zM155 360h1v2h-1zM585 171h1v5h-1zM214 408h1v5h-1zM300 450h1v2h-1zM158 365h1v2h-1zM756 318h1v4h-1zM726 295h1v5h-1zM845 244h1v6h-1zM96 396h1v3h-1zM273 436h1v2h-1zM850 219h1v4h-1zM1019 177h1v2h-1zM643 155h1v8h-1zM217 393h1v5h-1zM915 206h1v3h-1zM307 464h1v3h-1zM798 295h1v1h-1zM385 384h1v2h-1zM1098 178h1v1h-1zM75 344h1v2h-1zM361 419h1v2h-1zM708 257h1v1h-1zM1124 171h1v2h-1zM655 249h1v4h-1zM719 265h1v4h-1zM760 303h1v4h-1zM801 303h1v3h-1zM114 421h1v1h-1zM1015 184h1v2h-1zM858 201h1v2h-1zM346 434h1v2h-1zM722 277h1v5h-1zM580 193h1v3h-1zM381 392h1v2h-1zM460 313h1v2h-1zM767 283h1v3h-1zM230 345h1v2h-1zM632 91h1v5h-1zM736 332h1v2h-1zM85 370h1v2h-1zM1120 178h1v2h-1zM138 383h1v2h-1zM263 413h1v3h-1zM377 399h1v2h-1zM633 96h1v4h-1zM213 413h1v4h-1zM245 362h1v4h-1zM40 341h1v1h-1zM926 205h1v2h-1zM743 349h1v1h-1zM755 322h1v4h-1zM269 428h1v2h-1zM740 342h1v2h-1zM648 194h1v8h-1zM793 291h1v1h-1zM783 277h1v1h-1zM292 452h1v3h-1zM252 381h1v3h-1zM728 305h1v6h-1zM794 292h1v1h-1zM258 395h1v3h-1zM337 459h1v5h-1zM849 223h1v5h-1zM827 323h1v3h-1zM52 328h1v1h-1zM259 398h1v4h-1zM875 221h1v1h-1zM857 203h1v2h-1zM345 436h1v2h-1zM651 218h1v8h-1zM321 493h1v2h-1zM879 226h1v2h-1zM823 331h1v2h-1zM229 347h1v2h-1zM129 408h1v2h-1zM360 421h1v2h-1zM156 362h1v1h-1zM193 428h1v2h-1zM137 385h1v2h-1zM157 363h1v2h-1zM576 203h1v2h-1zM332 479h1v3h-1zM642 148h1v7h-1zM371 408h1v1h-1zM691 269h1v2h-1zM838 285h1v4h-1zM763 293h1v2h-1zM226 354h1v3h-1zM1128 163h1v2h-1zM654 242h1v7h-1zM74 342h1v2h-1zM572 209h1v2h-1zM718 263h1v2h-1zM367 414h1v2h-1zM898 231h1v1h-1zM178 399h1v2h-1zM871 213h1v2h-1zM771 274h1v2h-1zM835 296h1v4h-1zM283 456h1v2h-1zM826 326h1v2h-1zM80 357h1v4h-1zM894 238h1v1h-1zM23 353h1v1h-1zM735 330h1v2h-1zM84 369h1v1h-1zM243 355h1v4h-1zM87 373h1v2h-1zM221 373h1v5h-1zM1134 155h1v1h-1zM359 423h1v2h-1zM676 279h1v2h-1zM508 287h1v1h-1zM128 410h1v2h-1zM904 223h1v1h-1zM839 279h1v6h-1zM938 221h1v1h-1zM94 390h1v3h-1zM268 426h1v2h-1zM939 222h1v1h-1zM331 482h1v2h-1zM830 314h1v3h-1zM148 365h1v2h-1zM762 295h1v4h-1zM211 421h1v4h-1zM774 270h1v1h-1zM702 251h1v1h-1zM257 393h1v2h-1zM638 122h1v6h-1zM322 496h1v1h-1zM770 276h1v2h-1zM46 332h1v1h-1zM972 232h1v1h-1zM881 230h1v2h-1zM803 309h1v2h-1zM594 133h1v4h-1zM491 309h1v1h-1zM11 346h1v1h-1zM757 314h1v4h-1zM634 100h1v5h-1zM127 412h1v2h-1zM1007 203h1v2h-1zM1053 169h1v2h-1zM350 427h1v1h-1zM934 218h1v1h-1zM946 228h1v1h-1zM166 381h1v2h-1zM829 317h1v3h-1zM869 209h1v2h-1zM147 367h1v3h-1zM180 402h1v1h-1zM729 311h1v5h-1zM701 252h1v2h-1zM730 316h1v4h-1zM184 407h1v2h-1zM315 481h1v2h-1zM494 304h1v2h-1zM131 401h1v4h-1zM841 267h1v6h-1zM733 325h1v2h-1zM260 402h1v4h-1zM45 333h1v2h-1zM697 259h1v2h-1zM231 343h1v2h-1zM846 238h1v6h-1zM334 473h1v4h-1zM18 352h1v1h-1zM918 200h1v1h-1zM266 422h1v2h-1zM546 247h1v3h-1zM373 405h1v1h-1zM93 387h1v3h-1zM1006 205h1v3h-1zM219 383h1v5h-1zM1018 179h1v1h-1zM553 227h1v2h-1zM941 224h1v1h-1zM146 370h1v2h-1zM704 253h1v1h-1zM277 444h1v2h-1zM1014 186h1v2h-1zM142 378h1v1h-1zM376 401h1v1h-1zM44 335h1v2h-1zM696 261h1v2h-1zM906 221h1v1h-1zM342 443h1v3h-1zM70 330h1v1h-1zM602 110h1v3h-1zM747 348h1v3h-1zM832 307h1v3h-1zM71 331h1v4h-1zM989 227h1v1h-1zM248 371h1v3h-1zM610 87h1v2h-1zM291 455h1v2h-1zM168 384h1v1h-1zM255 389h1v2h-1zM790 287h1v1h-1zM182 404h1v1h-1zM914 209h1v2h-1zM317 485h1v2h-1zM183 405h1v2h-1zM1013 188h1v2h-1zM645 170h1v8h-1zM910 217h1v1h-1zM200 435h1v1h-1zM446 347h1v2h-1zM593 137h1v4h-1zM661 270h1v2h-1zM815 328h1v2h-1zM853 212h1v2h-1zM725 291h1v4h-1zM831 310h1v4h-1zM299 448h1v2h-1zM601 113h1v2h-1zM124 417h1v1h-1zM160 369h1v2h-1zM276 442h1v2h-1zM571 211h1v1h-1zM133 394h1v4h-1zM279 448h1v2h-1zM897 232h1v2h-1zM800 299h1v4h-1zM328 489h1v2h-1zM707 256h1v1h-1zM731 320h1v2h-1zM624 78h1v1h-1zM512 281h1v2h-1zM893 239h1v2h-1zM605 101h1v3h-1zM1000 220h1v2h-1zM675 281h1v1h-1zM507 288h1v1h-1zM738 336h1v3h-1zM445 349h1v2h-1zM247 369h1v2h-1zM653 234h1v8h-1zM339 452h1v3h-1zM441 356h1v2h-1zM453 329h1v2h-1zM519 275h1v1h-1zM254 386h1v3h-1zM582 186h1v4h-1zM98 402h1v2h-1zM847 233h1v5h-1zM191 423h1v2h-1zM566 219h1v2h-1zM511 283h1v2h-1zM892 241h1v1h-1zM749 341h1v3h-1zM1023 172h1v1h-1zM202 437h1v1h-1zM999 222h1v2h-1zM663 274h1v2h-1zM817 331h1v2h-1zM301 452h1v2h-1zM159 367h1v2h-1zM562 227h1v1h-1zM776 272h1v1h-1zM338 455h1v4h-1zM591 145h1v4h-1zM777 273h1v1h-1zM308 467h1v2h-1zM409 370h1v2h-1zM1095 173h1v2h-1zM53 327h1v1h-1zM440 358h1v2h-1zM104 408h1v2h-1zM452 331h1v2h-1zM799 296h1v3h-1zM223 365h1v4h-1zM873 217h1v2h-1zM870 211h1v2h-1zM534 263h1v1h-1zM285 460h1v2h-1zM595 129h1v4h-1zM143 376h1v2h-1zM748 344h1v4h-1zM565 221h1v2h-1zM640 135h1v6h-1zM737 334h1v2h-1zM89 377h1v2h-1zM692 268h1v1h-1zM502 287h1v1h-1zM927 207h1v2h-1zM270 430h1v2h-1zM862 198h1v1h-1zM238 340h1v1h-1zM752 332h1v3h-1zM130 405h1v3h-1zM533 264h1v2h-1zM190 420h1v3h-1zM840 273h1v6h-1zM805 314h1v2h-1zM880 228h1v2h-1zM883 233h1v2h-1zM1010 195h1v3h-1zM10 345h1v1h-1zM1132 157h1v1h-1zM455 323h1v3h-1zM529 272h1v1h-1zM902 225h1v1h-1zM150 361h1v1h-1zM1097 176h1v2h-1zM103 406h1v2h-1zM336 464h1v4h-1zM872 215h1v2h-1zM286 463h1v1h-1zM241 348h1v4h-1zM548 239h1v4h-1zM909 218h1v1h-1zM88 375h1v2h-1zM852 214h1v3h-1zM489 311h1v1h-1zM742 347h1v2h-1zM388 380h1v1h-1zM272 434h1v2h-1zM575 205h1v2h-1zM844 250h1v6h-1zM170 386h1v1h-1zM149 362h1v3h-1zM225 357h1v4h-1zM171 387h1v1h-1zM411 368h1v1h-1zM570 212h1v1h-1zM1127 165h1v2h-1zM384 386h1v2h-1zM233 339h1v2h-1zM588 157h1v5h-1zM679 276h1v1h-1zM1123 173h1v2h-1zM657 257h1v4h-1zM380 394h1v2h-1zM885 236h1v2h-1zM804 311h1v3h-1zM1119 180h1v1h-1zM488 312h1v2h-1zM250 376h1v3h-1zM475 315h1v1h-1zM39 342h1v1h-1zM468 312h1v1h-1zM210 425h1v3h-1zM709 258h1v1h-1zM108 414h1v1h-1zM326 493h1v1h-1zM181 403h1v1h-1zM240 345h1v3h-1zM631 87h1v4h-1zM232 341h1v2h-1zM1122 175h1v2h-1zM207 432h1v2h-1zM86 372h1v1h-1zM172 388h1v1h-1zM784 278h1v1h-1zM370 409h1v1h-1zM173 389h1v1h-1zM837 289h1v4h-1zM828 320h1v3h-1zM866 202h1v2h-1zM278 446h1v2h-1zM281 452h1v2h-1zM459 315h1v1h-1zM1003 213h1v2h-1zM362 418h1v1h-1zM448 341h1v3h-1zM809 320h1v1h-1zM586 166h1v5h-1zM1133 156h1v1h-1zM545 250h1v2h-1zM456 321h1v2h-1zM903 224h1v1h-1zM249 374h1v2h-1zM369 410h1v2h-1zM498 295h1v3h-1zM514 277h1v2h-1zM29 348h1v1h-1zM639 128h1v7h-1zM318 487h1v2h-1zM1002 215h1v3h-1zM532 266h1v2h-1zM222 369h1v4h-1zM658 261h1v4h-1zM447 344h1v3h-1zM341 446h1v3h-1zM528 273h1v2h-1zM662 272h1v2h-1zM665 278h1v2h-1zM746 352h1v1h-1zM544 252h1v3h-1zM161 371h1v2h-1zM477 312h1v1h-1zM864 200h1v1h-1zM1052 171h1v2h-1zM775 271h1v1h-1zM539 260h1v1h-1zM175 392h1v2h-1zM786 280h1v1h-1zM349 428h1v2h-1zM865 201h1v1h-1zM636 111h1v5h-1zM497 298h1v2h-1zM280 450h1v2h-1zM568 215h1v2h-1zM700 254h1v2h-1zM493 306h1v1h-1zM732 322h1v3h-1zM81 361h1v4h-1zM12 347h1v1h-1zM13 348h1v1h-1zM244 359h1v3h-1zM739 339h1v3h-1zM265 419h1v3h-1zM340 449h1v3h-1zM917 201h1v3h-1zM928 209h1v2h-1zM167 383h1v1h-1zM95 393h1v3h-1zM410 369h1v1h-1zM1051 173h1v2h-1zM1017 180h1v2h-1zM383 388h1v2h-1zM348 430h1v2h-1zM316 483h1v2h-1zM327 491h1v2h-1zM834 300h1v3h-1zM699 256h1v2h-1zM604 104h1v3h-1zM192 425h1v3h-1zM547 243h1v4h-1zM492 307h1v2h-1zM579 196h1v3h-1zM766 286h1v3h-1zM220 378h1v5h-1zM375 402h1v2h-1zM664 276h1v2h-1zM487 314h1v1h-1zM695 263h1v2h-1zM414 366h1v1h-1zM305 459h1v2h-1zM163 375h1v2h-1zM294 449h1v1h-1zM788 283h1v2h-1zM988 228h1v1h-1zM105 410h1v2h-1zM76 346h1v2h-1zM627 77h1v2h-1zM720 269h1v4h-1zM874 219h1v2h-1zM1035 173h1v1h-1zM206 434h1v1h-1zM833 303h1v4h-1zM14 349h1v1h-1zM15 350h1v1h-1zM90 379h1v2h-1zM264 416h1v3h-1zM765 289h1v2h-1zM228 349h1v3h-1zM374 404h1v1h-1zM930 213h1v2h-1zM271 432h1v2h-1zM169 385h1v1h-1zM274 438h1v2h-1zM773 271h1v2h-1zM590 149h1v4h-1zM550 233h1v2h-1zM802 306h1v3h-1zM723 282h1v4h-1zM82 365h1v2h-1zM806 316h1v2h-1zM816 330h1v1h-1zM333 477h1v2h-1zM389 379h1v1h-1zM303 455h1v2h-1zM764 291h1v2h-1zM772 273h1v1h-1zM106 412h1v1h-1zM598 119h1v3h-1zM78 350h1v3h-1zM467 311h1v1h-1zM28 349h1v1h-1zM107 413h1v1h-1zM751 335h1v3h-1zM876 222h1v2h-1zM1009 198h1v2h-1zM925 204h1v1h-1zM485 314h1v1h-1zM1022 173h1v1h-1zM125 416h1v1h-1zM454 326h1v3h-1zM597 122h1v4h-1zM625 77h1v1h-1zM807 318h1v1h-1zM882 232h1v1h-1zM886 238h1v1h-1zM1008 200h1v3h-1zM592 141h1v4h-1zM501 289h1v2h-1zM415 365h1v1h-1zM352 425h1v1h-1zM251 379h1v2h-1zM309 469h1v3h-1zM469 313h1v1h-1zM132 398h1v3h-1zM698 258h1v1h-1zM319 489h1v2h-1zM185 409h1v2h-1zM856 205h1v2h-1zM973 233h1v1h-1zM379 396h1v2h-1zM344 438h1v3h-1zM660 267h1v3h-1zM140 380h1v2h-1zM203 436h1v1h-1zM42 339h1v1h-1zM744 350h1v1h-1zM1131 158h1v1h-1zM136 387h1v2h-1zM293 450h1v2h-1zM500 291h1v2h-1zM935 219h1v1h-1zM901 226h1v2h-1zM987 229h1v1h-1zM690 271h1v1h-1zM916 204h1v2h-1zM863 199h1v1h-1zM54 326h1v1h-1zM174 390h1v2h-1zM867 204h1v2h-1zM282 454h1v2h-1zM825 328h1v2h-1zM884 235h1v1h-1zM855 207h1v2h-1zM343 441h1v2h-1zM888 241h1v1h-1zM908 219h1v1h-1zM1061 169h1v1h-1zM139 382h1v1h-1zM603 107h1v3h-1zM693 266h1v2h-1zM267 424h1v2h-1zM135 389h1v2h-1zM330 484h1v3h-1zM256 391h1v2h-1zM288 460h1v2h-1zM569 213h1v2h-1zM607 95h1v3h-1zM187 413h1v2h-1zM911 215h1v2h-1zM979 233h1v1h-1zM510 285h1v1h-1zM443 352h1v2h-1zM354 423h1v1h-1zM666 280h1v2h-1zM126 414h1v2h-1zM134 391h1v3h-1zM329 487h1v2h-1zM176 394h1v3h-1zM787 281h1v2h-1zM451 333h1v2h-1zM589 153h1v4h-1zM310 472h1v2h-1zM513 279h1v2h-1zM606 98h1v3h-1zM629 81h1v2h-1zM581 190h1v3h-1zM1001 218h1v2h-1zM1075 168h1v1h-1zM768 281h1v2h-1zM262 410h1v3h-1zM564 223h1v2h-1zM890 244h1v1h-1zM201 436h1v1h-1zM812 324h1v1h-1zM1021 174h1v2h-1zM92 384h1v3h-1zM442 354h1v2h-1zM929 211h1v2h-1zM59 329h1v1h-1zM109 415h1v1h-1zM450 335h1v3h-1zM145 372h1v2h-1zM51 329h1v1h-1zM759 307h1v4h-1zM750 338h1v3h-1zM458 316h1v2h-1zM563 225h1v2h-1zM43 337h1v2h-1zM302 454h1v1h-1zM1020 176h1v1h-1zM785 279h1v1h-1zM859 200h1v1h-1zM312 476h1v1h-1zM687 273h1v1h-1zM1016 182h1v2h-1zM368 412h1v2h-1zM77 348h1v2h-1zM913 211h1v2h-1zM144 374h1v2h-1zM810 321h1v1h-1zM378 398h1v1h-1zM814 327h1v1h-1zM483 312h1v1h-1zM484 313h1v1h-1zM931 215h1v1h-1zM61 331h1v1h-1zM111 417h1v1h-1zM177 397h1v2h-1zM289 459h1v1h-1zM912 213h1v2h-1zM824 330h1v1h-1zM83 367h1v2h-1zM907 220h1v1h-1zM619 82h1v1h-1zM923 201h1v1h-1zM444 351h1v1h-1zM227 352h1v2h-1zM573 208h1v1h-1zM626 76h1v1h-1zM509 286h1v1h-1zM971 231h1v1h-1zM877 224h1v1h-1zM659 265h1v2h-1zM891 242h1v2h-1zM194 430h1v2h-1zM353 424h1v1h-1zM486 315h1v1h-1zM933 217h1v1h-1zM113 420h1v1h-1zM439 360h1v2h-1zM234 337h1v1h-1zM179 401h1v1h-1zM408 372h1v2h-1zM209 428h1v2h-1zM284 458h1v2h-1zM966 227h1v1h-1zM141 379h1v1h-1zM967 228h1v1h-1zM1059 167h1v1h-1zM887 239h1v2h-1zM1060 168h1v1h-1zM778 274h1v1h-1zM1005 208h1v2h-1zM703 252h1v1h-1zM407 374h1v2h-1zM208 430h1v2h-1zM1036 174h1v1h-1zM320 491h1v2h-1zM878 225h1v1h-1zM186 411h1v2h-1zM694 265h1v1h-1zM515 276h1v1h-1zM27 350h1v1h-1zM199 434h1v1h-1zM1106 177h1v1h-1zM1107 178h1v1h-1zM677 278h1v1h-1zM1037 175h1v1h-1zM622 80h1v1h-1zM808 319h1v1h-1zM963 229h1v1h-1zM1121 177h1v1h-1zM490 310h1v1h-1zM41 340h1v1h-1zM940 223h1v1h-1zM438 362h1v1h-1zM60 330h1v1h-1zM470 314h1v1h-1zM110 416h1v1h-1z" fill="#0000cd" shape-rendering="crispEdges"/>
<g shape-rendering="crispEdges">
<rect x="983" y="178" width="251" height="6" fill="#99cc00" />
<rect x="978" y="228" width="258" height="4" fill="#3090e0" />
<rect x="9" y="24" width="1" height="777" fill="#000" />
</g>
<g shape-rendering="crispEdges">
<rect x="10" y="611" width="1" height="15" fill="#c0c0c0" />
<rect x="14" y="615" width="1" height="11" fill="#c0c0c0" />
<rect x="18" y="617" width="1" height="9" fill="#c0c0c0" />
<rect x="22" y="617" width="1" height="9" fill="#c0c0c0" />
<rect x="26" y="615" width="1" height="11" fill="#c0c0c0" />
<rect x="30" y="615" width="1" height="11" fill="#c0c0c0" />
<rect x="34" y="615" width="1" height="11" fill="#c0c0c0" />
<rect x="38" y="616" width="1" height="10" fill="#c0c0c0" />
<rect x="42" y="617" width="1" height="9" fill="#c0c0c0" />
<rect x="46" y="616" width="1" height="10" fill="#c0c0c0" />
<rect x="50" y="616" width="1" height="10" fill="#c0c0c0" />
<rect x="54" y="612" width="1" height="14" fill="#c0c0c0" />
<rect x="58" y="615" width="1" height="11" fill="#c0c0c0" />
<rect x="62" y="618" width="1" height="8" fill="#c0c0c0" />
<rect x="66" y="618" width="1" height="8" fill="#c0c0c0" />
<rect x="70" y="619" width="1" height="7" fill="#c0c0c0" />
<rect x="74" y="625" width="1" height="1" fill="#c0c0c0" />
<rect x="78" y="625" width="1" height="4" fill="#c0c0c0" />
<rect x="82" y="625" width="1" height="7" fill="#c0c0c0" />
<rect x="86" y="625" width="1" height="9" fill="#c0c0c0" />
<rect x="90" y="625" width="1" height="12" fill="#c0c0c0" />
<rect x="94" y="625" width="1" height="15" fill="#c0c0c0" />
<rect x="98" y="625" width="1" height="18" fill="#c0c0c0" />
<rect x="102" y="625" width="1" height="19" fill="#c0c0c0" />
<rect x="106" y="625" width="1" height="21" fill="#c0c0c0" />
<rect x="110" y="625" width="1" height="22" fill="#c0c0c0" />
<rect x="114" y="625" width="1" height="22" fill="#c0c0c0" />
<rect x="118" y="625" width="1" height="20" fill="#c0c0c0" />
<rect x="122" y="625" width="1" height="19" fill="#c0c0c0" />
<rect x="126" y="625" width="1" height="18" fill="#c0c0c0" />
<rect x="130" y="625" width="1" height="12" fill="#c0c0c0" />
<rect x="134" y="625" width="1" height="7" fill="#c0c0c0" />
<rect x="138" y="625" width="1" height="4" fill="#c0c0c0" />
<rect x="142" y="625" width="1" height="5" fill="#c0c0c0" />
<rect x="146" y="625" width="1" height="1" fill="#c0c0c0" />
<rect x="150" y="622" width="1" height="4" fill="#c0c0c0" />
<rect x="154" y="624" width="1" height="2" fill="#c0c0c0" />
<rect x="158" y="625" width="1" height="1" fill="#c0c0c0" />
<rect x="162" y="625" width="1" height="3" fill="#c0c0c0" />
<rect x="166" y="625" width="1" height="5" fill="#c0c0c0" />
<rect x="170" y="625" width="1" height="8" fill="#c0c0c0" />
<rect x="174" y="625" width="1" height="6" fill="#c0c0c0" />
<rect x="178" y="625" width="1" height="7" fill="#c0c0c0" />
<rect x="182" y="625" width="1" height="9" fill="#c0c0c0" />
<rect x="186" y="625" width="1" height="13" fill="#c0c0c0" />
<rect x="190" y="625" width="1" height="17" fill="#c0c0c0" />
<rect x="194" y="625" width="1" height="21" fill="#c0c0c0" />
<rect x="198" y="625" width="1" height="20" fill="#c0c0c0" />
<rect x="202" y="625" width="1" height="17" fill="#c0c0c0" />
<rect x="206" y="625" width="1" height="13" fill="#c0c0c0" />
<rect x="210" y="625" width="1" height="9" fill="#c0c0c0" />
<rect x="214" y="625" width="1" height="2" fill="#c0c0c0" />
<rect x="218" y="620" width="1" height="6" fill="#c0c0c0" />
<rect x="222" y="617" width="1" height="9" fill="#c0c0c0" />
<rect x="226" y="613" width="1" height="13" fill="#c0c0c0" />
<rect x="230" y="611" width="1" height="15" fill="#c0c0c0" />
<rect x="234" y="609" width="1" height="17" fill="#c0c0c0" />
<rect x="238" y="613" width="1" height="13" fill="#c0c0c0" />
<rect x="242" y="618" width="1" height="8" fill="#c0c0c0" />
<rect x="246" y="623" width="1" height="3" fill="#c0c0c0" />
<rect x="250" y="625" width="1" height="1" fill="#c0c0c0" />
<rect x="254" y="625" width="1" height="2" fill="#c0c0c0" />
<rect x="258" y="625" width="1" height="3" fill="#c0c0c0" />
<rect x="262" y="625" width="1" height="7" fill="#c0c0c0" />
<rect x="266" y="625" width="1" height="12" fill="#c0c0c0" />
<rect x="270" y="625" width="1" height="17" fill="#c0c0c0" />
<rect x="274" y="625" width="1" height="20" fill="#c0c0c0" />
<rect x="278" y="625" width="1" height="22" fill="#c0c0c0" />
<rect x="282" y="625" width="1" height="22" fill="#c0c0c0" />
<rect x="286" y="625" width="1" height="22" fill="#c0c0c0" />
<rect x="290" y="625" width="1" height="18" fill="#c0c0c0" />
<rect x="294" y="625" width="1" height="14" fill="#c0c0c0" />
<rect x="298" y="625" width="1" height="16" fill="#c0c0c0" />
<rect x="302" y="625" width="1" height="22" fill="#c0c0c0" />
<rect x="306" y="625" width="1" height="27" fill="#c0c0c0" />
<rect x="310" y="625" width="1" height="30" fill="#c0c0c0" />
<rect x="314" y="625" width="1" height="30" fill="#c0c0c0" />
<rect x="318" y="625" width="1" height="27" fill="#c0c0c0" />
<rect x="322" y="625" width="1" height="24" fill="#c0c0c0" />
<rect x="326" y="625" width="1" height="21" fill="#c0c0c0" />
<rect x="330" y="625" width="1" height="18" fill="#c0c0c0" />
<rect x="334" y="625" width="1" height="17" fill="#c0c0c0" />
<rect x="338" y="625" width="1" height="10" fill="#c0c0c0" />
<rect x="342" y="625" width="1" height="6" fill="#c0c0c0" />
<rect x="346" y="625" width="1" height="1" fill="#c0c0c0" />
<rect x="350" y="623" width="1" height="3" fill="#c0c0c0" />
<rect x="354" y="623" width="1" height="3" fill="#c0c0c0" />
<rect x="358" y="625" width="1" height="1" fill="#c0c0c0" />
<rect x="362" y="623" width="1" height="3" fill="#c0c0c0" />
<rect x="366" y="619" width="1" height="7" fill="#c0c0c0" />
<rect x="370" y="614" width="1" height="12" fill="#c0c0c0" />
<rect x="374" y="611" width="1" height="15" fill="#c0c0c0" />
<rect x="378" y="609" width="1" height="17" fill="#c0c0c0" />
<rect x="382" y="608" width="1" height="18" fill="#c0c0c0" />
<rect x="386" y="609" width="1" height="17" fill="#c0c0c0" />
<rect x="390" y="609" width="1" height="17" fill="#c0c0c0" />
<rect x="394" y="609" width="1" height="17" fill="#c0c0c0" />
<rect x="398" y="608" width="1" height="18" fill="#c0c0c0" />
<rect x="402" y="606" width="1" height="20" fill="#c0c0c0" />
<rect x="406" y="606" width="1" height="20" fill="#c0c0c0" />
<rect x="410" y="604" width="1" height="22" fill="#c0c0c0" />
<rect x="414" y="605" width="1" height="21" fill="#c0c0c0" />
<rect x="418" y="606" width="1" height="20" fill="#c0c0c0" />
<rect x="422" y="607" width="1" height="19" fill="#c0c0c0" />
<rect x="426" y="608" width="1" height="18" fill="#c0c0c0" />
<rect x="430" y="608" width="1" height="18" fill="#c0c0c0" />
<rect x="434" y="609" width="1" height="17" fill="#c0c0c0" />
<rect x="438" y="608" width="1" height="18" fill="#c0c0c0" />
<rect x="442" y="605" width="1" height="21" fill="#c0c0c0" />
<rect x="446" y="604" width="1" height="22" fill="#c0c0c0" />
<rect x="450" y="600" width="1" height="26" fill="#c0c0c0" />
<rect x="454" y="599" width="1" height="27" fill="#c0c0c0" />
<rect x="458" y="597" width="1" height="29" fill="#c0c0c0" />
<rect x="462" y="599" width="1" height="27" fill="#c0c0c0" />
<rect x="466" y="601" width="1" height="25" fill="#c0c0c0" />
<rect x="470" y="604" width="1" height="22" fill="#c0c0c0" />
<rect x="474" y="606" width="1" height="20" fill="#c0c0c0" />
<rect x="478" y="601" width="1" height="25" fill="#c0c0c0" />
<rect x="482" y="601" width="1" height="25" fill="#c0c0c0" />
<rect x="486" y="603" width="1" height="23" fill="#c0c0c0" />
<rect x="490" y="603" width="1" height="23" fill="#c0c0c0" />
<rect x="494" y="603" width="1" height="23" fill="#c0c0c0" />
<rect x="498" y="603" width="1" height="23" fill="#c0c0c0" />
<rect x="502" y="601" width="1" height="25" fill="#c0c0c0" />
<rect x="506" y="600" width="1" height="26" fill="#c0c0c0" />
<rect x="510" y="600" width="1" height="26" fill="#c0c0c0" />
<rect x="514" y="600" width="1" height="26" fill="#c0c0c0" />
<rect x="518" y="601" width="1" height="25" fill="#c0c0c0" />
<rect x="522" y="605" width="1" height="21" fill="#c0c0c0" />
<rect x="526" y="606" width="1" height="20" fill="#c0c0c0" />
<rect x="530" y="602" width="1" height="24" fill="#c0c0c0" />
<rect x="534" y="598" width="1" height="28" fill="#c0c0c0" />
<rect x="538" y="600" width="1" height="26" fill="#c0c0c0" />
<rect x="542" y="600" width="1" height="26" fill="#c0c0c0" />
<rect x="546" y="597" width="1" height="29" fill="#c0c0c0" />
<rect x="550" y="596" width="1" height="30" fill="#c0c0c0" />
<rect x="554" y="596" width="1" height="30" fill="#c0c0c0" />
<rect x="558" y="597" width="1" height="29" fill="#c0c0c0" />
<rect x="562" y="597" width="1" height="29" fill="#c0c0c0" />
<rect x="566" y="597" width="1" height="29" fill="#c0c0c0" />
<rect x="570" y="595" width="1" height="31" fill="#c0c0c0" />
<rect x="574" y="593" width="1" height="33" fill="#c0c0c0" />
<rect x="578" y="591" width="1" height="35" fill="#c0c0c0" />
<rect x="582" y="588" width="1" height="38" fill="#c0c0c0" />
<rect x="586" y="582" width="1" height="44" fill="#c0c0c0" />
<rect x="590" y="578" width="1" height="48" fill="#c0c0c0" />
<rect x="594" y="576" width="1" height="50" fill="#c0c0c0" />
<rect x="598" y="574" width="1" height="52" fill="#c0c0c0" />
<rect x="602" y="574" width="1" height="52" fill="#c0c0c0" />
<rect x="606" y="573" width="1" height="53" fill="#c0c0c0" />
<rect x="610" y="572" width="1" height="54" fill="#c0c0c0" />
<rect x="614" y="572" width="1" height="54" fill="#c0c0c0" />
<rect x="618" y="573" width="1" height="53" fill="#c0c0c0" />
<rect x="622" y="574" width="1" height="52" fill="#c0c0c0" />
<rect x="626" y="575" width="1" height="51" fill="#c0c0c0" />
<rect x="630" y="584" width="1" height="42" fill="#c0c0c0" />
<rect x="634" y="594" width="1" height="32" fill="#c0c0c0" />
<rect x="638" y="604" width="1" height="22" fill="#c0c0c0" />
<rect x="642" y="616" width="1" height="10" fill="#c0c0c0" />
<rect x="646" y="625" width="1" height="3" fill="#c0c0c0" />
<rect x="650" y="625" width="1" height="13" fill="#c0c0c0" />
<rect x="654" y="625" width="1" height="20" fill="#c0c0c0" />
<rect x="658" y="625" width="1" height="24" fill="#c0c0c0" />
<rect x="662" y="625" width="1" height="27" fill="#c0c0c0" />
<rect x="666" y="625" width="1" height="28" fill="#c0c0c0" />
<rect x="670" y="625" width="1" height="29" fill="#c0c0c0" />
<rect x="674" y="625" width="1" height="30" fill="#c0c0c0" />
<rect x="678" y="625" width="1" height="30" fill="#c0c0c0" />
<rect x="682" y="625" width="1" height="30" fill="#c0c0c0" />
<rect x="686" y="625" width="1" height="29" fill="#c0c0c0" />
<rect x="690" y="625" width="1" height="27" fill="#c0c0c0" />
<rect x="694" y="625" width="1" height="22" fill="#c0c0c0" />
<rect x="698" y="625" width="1" height="19" fill="#c0c0c0" />
<rect x="702" y="625" width="1" height="16" fill="#c0c0c0" />
<rect x="706" y="625" width="1" height="19" fill="#c0c0c0" />
<rect x="710" y="625" width="1" height="22" fill="#c0c0c0" />
<rect x="714" y="625" width="1" height="21" fill="#c0c0c0" />
<rect x="718" y="625" width="1" height="21" fill="#c0c0c0" />
<rect x="722" y="625" width="1" height="26" fill="#c0c0c0" />
<rect x="726" y="625" width="1" height="30" fill="#c0c0c0" />
<rect x="730" y="625" width="1" height="35" fill="#c0c0c0" />
<rect x="734" y="625" width="1" height="37" fill="#c0c0c0" />
<rect x="738" y="625" width="1" height="39" fill="#c0c0c0" />
<rect x="742" y="625" width="1" height="39" fill="#c0c0c0" />
<rect x="746" y="625" width="1" height="34" fill="#c0c0c0" />
<rect x="750" y="625" width="1" height="26" fill="#c0c0c0" />
<rect x="754" y="625" width="1" height="21" fill="#c0c0c0" />
<rect x="758" y="625" width="1" height="17" fill="#c0c0c0" />
<rect x="762" y="625" width="1" height="12" fill="#c0c0c0" />
<rect x="766" y="625" width="1" height="12" fill="#c0c0c0" />
<rect x="770" y="625" width="1" height="10" fill="#c0c0c0" />
<rect x="774" y="625" width="1" height="6" fill="#c0c0c0" />
<rect x="778" y="625" width="1" height="6" fill="#c0c0c0" />
<rect x="782" y="625" width="1" height="6" fill="#c0c0c0" />
<rect x="786" y="625" width="1" height="6" fill="#c0c0c0" />
<rect x="790" y="625" width="1" height="7" fill="#c0c0c0" />
<rect x="794" y="625" width="1" height="10" fill="#c0c0c0" />
<rect x="798" y="625" width="1" height="9" fill="#c0c0c0" />
<rect x="802" y="625" width="1" height="13" fill="#c0c0c0" />
<rect x="806" y="625" width="1" height="16" fill="#c0c0c0" />
<rect x="810" y="625" width="1" height="15" fill="#c0c0c0" />
<rect x="814" y="625" width="1" height="16" fill="#c0c0c0" />
<rect x="818" y="625" width="1" height="17" fill="#c0c0c0" />
<rect x="822" y="625" width="1" height="17" fill="#c0c0c0" />
<rect x="826" y="625" width="1" height="10" fill="#c0c0c0" />
<rect x="830" y="625" width="1" height="6" fill="#c0c0c0" />
<rect x="834" y="625" width="1" height="1" fill="#c0c0c0" />
<rect x="838" y="619" width="1" height="7" fill="#c0c0c0" />
<rect x="842" y="611" width="1" height="15" fill="#c0c0c0" />
<rect x="846" y="605" width="1" height="21" fill="#c0c0c0" />
<rect x="850" y="601" width="1" height="25" fill="#c0c0c0" />
<rect x="854" y="598" width="1" height="28" fill="#c0c0c0" />
<rect x="858" y="598" width="1" height="28" fill="#c0c0c0" />
<rect x="862" y="599" width="1" height="27" fill="#c0c0c0" />
<rect x="866" y="603" width="1" height="23" fill="#c0c0c0" />
<rect x="870" y="605" width="1" height="21" fill="#c0c0c0" />
<rect x="874" y="607" width="1" height="19" fill="#c0c0c0" />
<rect x="878" y="608" width="1" height="18" fill="#c0c0c0" />
<rect x="882" y="609" width="1" height="17" fill="#c0c0c0" />
<rect x="886" y="611" width="1" height="15" fill="#c0c0c0" />
<rect x="890" y="614" width="1" height="12" fill="#c0c0c0" />
<rect x="894" y="613" width="1" height="13" fill="#c0c0c0" />
<rect x="898" y="611" width="1" height="15" fill="#c0c0c0" />
<rect x="902" y="608" width="1" height="18" fill="#c0c0c0" />
<rect x="906" y="608" width="1" height="18" fill="#c0c0c0" />
<rect x="910" y="608" width="1" height="18" fill="#c0c0c0" />
<rect x="914" y="608" width="1" height="18" fill="#c0c0c0" />
<rect x="918" y="606" width="1" height="20" fill="#c0c0c0" />
<rect x="922" y="609" width="1" height="17" fill="#c0c0c0" />
<rect x="926" y="612" width="1" height="14" fill="#c0c0c0" />
<rect x="930" y="615" width="1" height="11" fill="#c0c0c0" />
<rect x="934" y="617" width="1" height="9" fill="#c0c0c0" />
<rect x="938" y="618" width="1" height="8" fill="#c0c0c0" />
<rect x="942" y="618" width="1" height="8" fill="#c0c0c0" />
<rect x="946" y="618" width="1" height="8" fill="#c0c0c0" />
<rect x="950" y="618" width="1" height="8" fill="#c0c0c0" />
<rect x="954" y="621" width="1" height="5" fill="#c0c0c0" />
<rect x="958" y="622" width="1" height="4" fill="#c0c0c0" />
<rect x="962" y="624" width="1" height="2" fill="#c0c0c0" />
<rect x="966" y="623" width="1" height="3" fill="#c0c0c0" />
<rect x="970" y="624" width="1" height="2" fill="#c0c0c0" />
<rect x="974" y="625" width="1" height="1" fill="#c0c0c0" />
<rect x="978" y="624" width="1" height="2" fill="#c0c0c0" />
<rect x="982" y="624" width="1" height="2" fill="#c0c0c0" />
<rect x="986" y="624" width="1" height="2" fill="#c0c0c0" />
<rect x="990" y="623" width="1" height="3" fill="#c0c0c0" />
<rect x="994" y="622" width="1" height="4" fill="#c0c0c0" />
<rect x="998" y="622" width="1" height="4" fill="#c0c0c0" />
<rect x="1002" y="619" width="1" height="7" fill="#c0c0c0" />
<rect x="1006" y="614" width="1" height="12" fill="#c0c0c0" />
<rect x="1010" y="611" width="1" height="15" fill="#c0c0c0" />
<rect x="1014" y="609" width="1" height="17" fill="#c0c0c0" />
<rect x="1018" y="608" width="1" height="18" fill="#c0c0c0" />
<rect x="1022" y="608" width="1" height="18" fill="#c0c0c0" />
<rect x="1026" y="610" width="1" height="16" fill="#c0c0c0" />
<rect x="1030" y="611" width="1" height="15" fill="#c0c0c0" />
<rect x="1034" y="610" width="1" height="16" fill="#c0c0c0" />
<rect x="1038" y="611" width="1" height="15" fill="#c0c0c0" />
<rect x="1042" y="610" width="1" height="16" fill="#c0c0c0" />
<rect x="1046" y="611" width="1" height="15" fill="#c0c0c0" />
<rect x="1050" y="610" width="1" height="16" fill="#c0c0c0" />
<rect x="1054" y="610" width="1" height="16" fill="#c0c0c0" />
<rect x="1058" y="610" width="1" height="16" fill="#c0c0c0" />
<rect x="1062" y="612" width="1" height="14" fill="#c0c0c0" />
<rect x="1066" y="614" width="1" height="12" fill="#c0c0c0" />
<rect x="1070" y="613" width="1" height="13" fill="#c0c0c0" />
<rect x="1074" y="614" width="1" height="12" fill="#c0c0c0" />
<rect x="1078" y="615" width="1" height="11" fill="#c0c0c0" />
<rect x="1082" y="615" width="1" height="11" fill="#c0c0c0" />
<rect x="1086" y="616" width="1" height="10" fill="#c0c0c0" />
<rect x="1090" y="617" width="1" height="9" fill="#c0c0c0" />
<rect x="1094" y="619" width="1" height="7" fill="#c0c0c0" />
<rect x="1098" y="621" width="1" height="5" fill="#c0c0c0" />
<rect x="1102" y="622" width="1" height="4" fill="#c0c0c0" />
<rect x="1106" y="620" width="1" height="6" fill="#c0c0c0" />
<rect x="1110" y="621" width="1" height="5" fill="#c0c0c0" />
<rect x="1114" y="622" width="1" height="4" fill="#c0c0c0" />
<rect x="1118" y="622" width="1" height="4" fill="#c0c0c0" />
<rect x="1122" y="620" width="1" height="6" fill="#c0c0c0" />
<rect x="1126" y="618" width="1" height="8" fill="#c0c0c0" />
<rect x="1130" y="615" width="1" height="11" fill="#c0c0c0" />
<rect x="1134" y="613" width="1" height="13" fill="#c0c0c0" />
</g>
<path d="M408 608h3v1h-3zM1009 620h3v1h-3zM1117 620h3v1h-3zM1129 620h3v1h-3zM37 614h2v1h-2zM1088 614h2v1h-2zM180 628h3v1h-3zM318 647h3v1h-3zM336 647h3v1h-3zM712 647h2v1h-2zM729 647h2v1h-2zM289 640h2v1h-2zM54 615h3v1h-3zM949 615h3v1h-3zM1021 615h3v1h-3zM1093 615h3v1h-3zM151 632h2v1h-2zM276 632h2v1h-2zM795 632h3v1h-3zM801 632h3v1h-3zM636 579h2v1h-2zM618 575h2v1h-2zM283 637h2v1h-2zM820 637h2v1h-2zM31 611h2v1h-2zM396 611h3v1h-3zM860 611h2v1h-2zM937 611h3v1h-3zM1033 611h3v1h-3zM1064 611h2v1h-2zM1069 611h3v1h-3zM456 604h3v1h-3zM884 604h2v1h-2zM312 646h3v1h-3zM717 646h3v1h-3zM724 646h2v1h-2zM414 607h3v1h-3zM420 607h3v1h-3zM426 607h3v1h-3zM432 607h3v1h-3zM438 607h3v1h-3zM444 607h3v1h-3zM741 654h3v1h-3zM759 654h2v1h-2zM79 619h2v1h-2zM259 619h2v1h-2zM961 619h3v1h-3zM1111 619h3v1h-3zM748 656h2v1h-2zM753 656h3v1h-3zM631 576h2v1h-2zM462 603h2v1h-2zM498 603h3v1h-3zM872 603h2v1h-2zM877 603h3v1h-3zM307 645h2v1h-2zM772 645h2v1h-2zM96 629h2v1h-2zM157 629h2v1h-2zM736 651h2v1h-2zM968 621h2v1h-2zM973 621h3v1h-3zM1123 621h3v1h-3zM552 600h3v1h-3zM402 609h2v1h-2zM896 609h2v1h-2zM925 609h3v1h-3zM85 622h2v1h-2zM264 622h2v1h-2zM372 622h2v1h-2zM1004 622h2v1h-2zM72 617h3v1h-3zM246 617h3v1h-3zM252 617h3v1h-3zM955 617h2v1h-2zM1100 617h2v1h-2zM582 594h2v1h-2zM361 630h2v1h-2zM42 616h3v1h-3zM48 616h3v1h-3zM60 616h3v1h-3zM66 616h3v1h-3zM384 616h3v1h-3zM241 618h2v1h-2zM379 618h2v1h-2zM1015 618h2v1h-2zM1105 618h3v1h-3zM1076 612h2v1h-2zM468 602h3v1h-3zM474 602h2v1h-2zM492 602h3v1h-3zM504 602h3v1h-3zM510 602h3v1h-3zM516 602h3v1h-3zM522 602h3v1h-3zM528 602h3v1h-3zM601 584h2v1h-2zM688 652h2v1h-2zM693 652h3v1h-3zM901 610h3v1h-3zM907 610h3v1h-3zM913 610h3v1h-3zM919 610h3v1h-3zM931 610h3v1h-3zM1039 610h3v1h-3zM1045 610h3v1h-3zM1051 610h3v1h-3zM1057 610h3v1h-3zM576 595h3v1h-3zM109 638h2v1h-2zM204 638h3v1h-3zM210 638h2v1h-2zM825 638h3v1h-3zM564 597h3v1h-3zM570 597h2v1h-2zM132 642h3v1h-3zM613 577h2v1h-2zM139 639h2v1h-2zM348 639h2v1h-2zM391 613h2v1h-2zM944 613h2v1h-2zM1027 613h2v1h-2zM1081 613h3v1h-3zM789 633h3v1h-3zM450 606h2v1h-2zM889 606h2v1h-2zM480 601h3v1h-3zM486 601h2v1h-2zM534 601h3v1h-3zM540 601h3v1h-3zM546 601h2v1h-2zM624 574h3v1h-3zM980 623h2v1h-2zM985 623h3v1h-3zM991 623h3v1h-3zM997 623h3v1h-3zM162 627h3v1h-3zM168 627h3v1h-3zM174 627h3v1h-3zM589 591h2v1h-2zM705 649h3v1h-3zM193 634h2v1h-2zM808 634h2v1h-2zM837 634h2v1h-2zM120 643h3v1h-3zM126 643h3v1h-3zM300 643h3v1h-3zM558 599h2v1h-2zM682 650h2v1h-2zM700 650h2v1h-2zM91 626h2v1h-2zM187 631h2v1h-2zM607 580h2v1h-2zM115 641h2v1h-2zM294 641h2v1h-2zM145 636h2v1h-2zM198 636h2v1h-2zM216 636h3v1h-3zM783 636h2v1h-2zM832 636h2v1h-2zM24 605h2v1h-2zM813 635h3v1h-3zM595 587h2v1h-2zM324 648h3v1h-3zM330 648h3v1h-3zM90 625h1v1h-1zM1075 611h1v1h-1zM222 634h1v1h-1zM606 581h1v1h-1zM11 588h1v2h-1zM272 629h1v1h-1zM594 588h1v1h-1zM30 610h1v1h-1zM844 629h1v1h-1zM612 578h1v1h-1zM851 622h1v1h-1zM649 596h1v2h-1zM854 618h1v1h-1zM378 619h1v1h-1zM26 606h1v1h-1zM138 640h1v1h-1zM360 631h1v1h-1zM819 636h1v1h-1zM642 585h1v1h-1zM849 624h1v1h-1zM560 598h1v1h-1zM650 598h1v1h-1zM850 623h1v1h-1zM653 603h1v2h-1zM671 638h1v2h-1zM1099 616h1v1h-1zM831 637h1v1h-1zM643 586h1v1h-1zM1029 612h1v1h-1zM306 644h1v1h-1zM144 637h1v1h-1zM476 601h1v1h-1zM646 591h1v1h-1zM212 637h1v1h-1zM664 626h1v2h-1zM667 632h1v1h-1zM771 646h1v1h-1zM777 641h1v1h-1zM488 602h1v1h-1zM240 619h1v1h-1zM672 640h1v1h-1zM230 627h1v1h-1zM655 608h1v1h-1zM761 653h1v1h-1zM883 603h1v1h-1zM856 616h1v1h-1zM859 612h1v1h-1zM228 629h1v1h-1zM20 600h1v2h-1zM979 622h1v1h-1zM108 637h1v1h-1zM236 621h1v1h-1zM548 600h1v1h-1zM662 622h1v1h-1zM14 593h1v1h-1zM871 604h1v1h-1zM84 621h1v1h-1zM855 617h1v1h-1zM103 634h1v1h-1zM584 593h1v1h-1zM656 609h1v2h-1zM15 594h1v1h-1zM687 651h1v1h-1zM658 614h1v2h-1zM645 590h1v1h-1zM342 644h1v1h-1zM343 643h1v1h-1zM374 621h1v1h-1zM731 648h1v1h-1zM600 585h1v1h-1zM1017 617h1v1h-1zM356 633h1v1h-1zM104 635h1v1h-1zM572 596h1v1h-1zM16 595h1v1h-1zM807 633h1v1h-1zM638 580h1v1h-1zM735 650h1v1h-1zM647 592h1v1h-1zM78 618h1v1h-1zM668 633h1v2h-1zM296 642h1v1h-1zM891 607h1v1h-1zM785 635h1v1h-1zM620 574h1v1h-1zM845 628h1v1h-1zM200 637h1v1h-1zM235 622h1v1h-1zM192 633h1v1h-1zM114 640h1v1h-1zM967 620h1v1h-1zM661 620h1v2h-1zM282 636h1v1h-1zM867 606h1v1h-1zM652 602h1v1h-1zM234 623h1v1h-1zM957 618h1v1h-1zM866 607h1v1h-1zM659 616h1v1h-1zM588 592h1v1h-1zM270 627h1v1h-1zM767 649h1v1h-1zM681 649h1v1h-1zM266 623h1v1h-1zM98 630h1v1h-1zM943 612h1v1h-1zM350 638h1v1h-1zM765 651h1v1h-1zM355 634h1v1h-1zM895 608h1v1h-1zM1087 613h1v1h-1zM675 644h1v1h-1zM452 605h1v1h-1zM630 575h1v1h-1zM839 633h1v1h-1zM641 584h1v1h-1zM150 633h1v1h-1zM676 645h1v1h-1zM711 648h1v1h-1zM843 630h1v1h-1zM390 614h1v1h-1zM778 640h1v1h-1zM156 630h1v1h-1zM779 639h1v1h-1zM36 613h1v1h-1zM865 608h1v1h-1zM677 646h1v1h-1zM288 639h1v1h-1zM766 650h1v1h-1zM186 630h1v1h-1zM747 655h1v1h-1zM464 602h1v1h-1zM1003 623h1v1h-1zM368 625h1v1h-1zM10 587h1v1h-1zM699 651h1v1h-1zM354 635h1v1h-1zM19 599h1v1h-1zM271 628h1v1h-1zM665 628h1v1h-1zM258 618h1v1h-1zM1063 610h1v1h-1zM102 633h1v1h-1zM723 645h1v1h-1zM366 627h1v1h-1zM367 626h1v1h-1zM223 633h1v1h-1zM224 632h1v1h-1zM278 633h1v1h-1zM229 628h1v1h-1zM344 642h1v1h-1zM404 608h1v1h-1z" fill="#ff0000" shape-rendering="crispEdges"/>
<g shape-rendering="crispEdges">
<rect x="11" y="710" width="3" height="1" fill="#c0c0c0" />
<rect x="11" y="761" width="3" height="1" fill="#c0c0c0" />
<rect x="17" y="710" width="3" height="1" fill="#c0c0c0" />
<rect x="17" y="761" width="3" height="1" fill="#c0c0c0" />
<rect x="23" y="710" width="3" height="1" fill="#c0c0c0" />
<rect x="23" y="761" width="3" height="1" fill="#c0c0c0" />
<rect x="29" y="710" width="3" height="1" fill="#c0c0c0" />
<rect x="29" y="761" width="3" height="1" fill="#c0c0c0" />
<rect x="35" y="710" width="3" height="1" fill="#c0c0c0" />
<rect x="35" y="761" width="3" height="1" fill="#c0c0c0" />
<rect x="41" y="710" width="3" height="1" fill="#c0c0c0" />
<rect x="41" y="761" width="3" height="1" fill="#c0c0c0" />
<rect x="47" y="710" width="3" height="1" fill="#c0c0c0" />
<rect x="47" y="761" width="3" height="1" fill="#c0c0c0" />
<rect x="53" y="710" width="3" height="1" fill="#c0c0c0" />
<rect x="53" y="761" width="3" height="1" fill="#c0c0c0" />
<rect x="59" y="710" width="3" height="1" fill="#c0c0c0" />
<rect x="59" y="761" width="3" height="1" fill="#c0c0c0" />
<rect x="65" y="710" width="3" height="1" fill="#c0c0c0" />
<rect x="65" y="761" width="3" height="1" fill="#c0c0c0" />
<rect x="71" y="710" width="3" height="1" fill="#c0c0c0" />
<rect x="71" y="761" width="3" height="1" fill="#c0c0c0" />
<rect x="77" y="710" width="3" height="1" fill="#c0c0c0" />
<rect x="77" y="761" width="3" height="1" fill="#c0c0c0" />
<rect x="83" y="710" width="3" height="1" fill="#c0c0c0" />
<rect x="83" y="761" width="3" height="1" fill="#c0c0c0" />
<rect x="89" y="710" width="3" height="1" fill="#c0c0c0" />
<rect x="89" y="761" width="3" height="1" fill="#c0c0c0" />
<rect x="95" y="710" width="3" height="1" fill="#c0c0c0" />
<rect x="95" y="761" width="3" height="1" fill="#c0c0c0" />
<rect x="101" y="710" width="3" height="1" fill="#c0c0c0" />
<rect x="101" y="761" width="3" height="1" fill="#c0c0c0" />
<rect x="107" y="710" width="3" height="1" fill="#c0c0c0" />
<rect x="107" y="761" width="3" height="1" fill="#c0c0c0" />
<rect x="113" y="710" width="3" height="1" fill="#c0c0c0" />
<rect x="113" y="761" width="3" height="1" fill="#c0c0c0" />
<rect x="119" y="710" width="3" height="1" fill="#c0c0c0" />
<rect x="119" y="761" width="3" height="1" fill="#c0c0c0" />
<rect x="125" y="710" width="3" height="1" fill="#c0c0c0" />
<rect x="125" y="761" width="3" height="1" fill="#c0c0c0" />
<rect x="131" y="710" width="3" height="1" fill="#c0c0c0" />
<rect x="131" y="761" width="3" height="1" fill="#c0c0c0" />
<rect x="137" y="710" width="3" height="1" fill="#c0c0c0" />
<rect x="137" y="761" width="3" height="1" fill="#c0c0c0" />
<rect x="143" y="710" width="3" height="1" fill="#c0c0c0" />
<rect x="143" y="761" width="3" height="1" fill="#c0c0c0" />
<rect x="149" y="710" width="3" height="1" fill="#c0c0c0" />
<rect x="149" y="761" width="3" height="1" fill="#c0c0c0" />
<rect x="155" y="710" width="3" height="1" fill="#c0c0c0" />
<rect x="155" y="761" width="3" height="1" fill="#c0c0c0" />
<rect x="161" y="710" width="3" height="1" fill="#c0c0c0" />
<rect x="161" y="761" width="3" height="1" fill="#c0c0c0" />
<rect x="167" y="710" width="3" height="1" fill="#c0c0c0" />
<rect x="167" y="761" width="3" height="1" fill="#c0c0c0" />
<rect x="173" y="710" width="3" height="1" fill="#c0c0c0" />
<rect x="173" y="761" width="3" height="1" fill="#c0c0c0" />
<rect x="179" y="710" width="3" height="1" fill="#c0c0c0" />
<rect x="179" y="761" width="3" height="1" fill="#c0c0c0" />
<rect x="185" y="710" width="3" height="1" fill="#c0c0c0" />
<rect x="185" y="761" width="3" height="1" fill="#c0c0c0" />
<rect x="191" y="710" width="3" height="1" fill="#c0c0c0" />
<rect x="191" y="761" width="3" height="1" fill="#c0c0c0" />
<rect x="197" y="710" width="3" height="1" fill="#c0c0c0" />
<rect x="197" y="761" width="3" height="1" fill="#c0c0c0" />
<rect x="203" y="710" width="3" height="1" fill="#c0c0c0" />
<rect x="203" y="761" width="3" height="1" fill="#c0c0c0" />
<rect x="209" y="710" width="3" height="1" fill="#c0c0c0" />
<rect x="209" y="761" width="3" height="1" fill="#c0c0c0" />
<rect x="215" y="710" width="3" height="1" fill="#c0c0c0" />
<rect x="215" y="761" width="3" height="1" fill="#c0c0c0" />
<rect x="221" y="710" width="3" height="1" fill="#c0c0c0" />
<rect x="221" y="761" width="3" height="1" fill="#c0c0c0" />
<rect x="227" y="710" width="3" height="1" fill="#c0c0c0" />
<rect x="227" y="761" width="3" height="1" fill="#c0c0c0" />
<rect x="233" y="710" width="3" height="1" fill="#c0c0c0" />
<rect x="233" y="761" width="3" height="1" fill="#c0c0c0" />
<rect x="239" y="710" width="3" height="1" fill="#c0c0c0" />
<rect x="239" y="761" width="3" height="1" fill="#c0c0c0" />
<rect x="245" y="710" width="3" height="1" fill="#c0c0c0" />
<rect x="245" y="761" width="3" height="1" fill="#c0c0c0" />
<rect x="251" y="710" width="3" height="1" fill="#c0c0c0" />
<rect x="251" y="761" width="3" height="1" fill="#c0c0c0" />
<rect x="257" y="710" width="3" height="1" fill="#c0c0c0" />
<rect x="257" y="761" width="3" height="1" fill="#c0c0c0" />
<rect x="263" y="710" width="3" height="1" fill="#c0c0c0" />
<rect x="263" y="761" width="3" height="1" fill="#c0c0c0" />
<rect x="269" y="710" width="3" height="1" fill="#c0c0c0" />
<rect x="269" y="761" width="3" height="1" fill="#c0c0c0" />
<rect x="275" y="710" width="3" height="1" fill="#c0c0c0" />
<rect x="275" y="761" width="3" height="1" fill="#c0c0c0" />
<rect x="281" y="710" width="3" height="1" fill="#c0c0c0" />
<rect x="281" y="761" width="3" height="1" fill="#c0c0c0" />
<rect x="287" y="710" width="3" height="1" fill="#c0c0c0" />
<rect x="287" y="761" width="3" height="1" fill="#c0c0c0" />
<rect x="293" y="710" width="3" height="1" fill="#c0c0c0" />
<rect x="293" y="761" width="3" height="1" fill="#c0c0c0" />
<rect x="299" y="710" width="3" height="1" fill="#c0c0c0" />
<rect x="299" y="761" width="3" height="1" fill="#c0c0c0" />
<rect x="305" y="710" width="3" height="1" fill="#c0c0c0" />
<rect x="305" y="761" width="3" height="1" fill="#c0c0c0" />
<rect x="311" y="710" width="3" height="1" fill="#c0c0c0" />
<rect x="311" y="761" width="3" height="1" fill="#c0c0c0" />
<rect x="317" y="710" width="3" height="1" fill="#c0c0c0" />
<rect x="317" y="761" width="3" height="1" fill="#c0c0c0" />
<rect x="323" y="710" width="3" height="1" fill="#c0c0c0" />
<rect x="323" y="761" width="3" height="1" fill="#c0c0c0" />
<rect x="329" y="710" width="3" height="1" fill="#c0c0c0" />
<rect x="329" y="761" width="3" height="1" fill="#c0c0c0" />
<rect x="335" y="710" width="3" height="1" fill="#c0c0c0" />
<rect x="335" y="761" width="3" height="1" fill="#c0c0c0" />
<rect x="341" y="710" width="3" height="1" fill="#c0c0c0" />
<rect x="341" y="761" width="3" height="1" fill="#c0c0c0" />
<rect x="347" y="710" width="3" height="1" fill="#c0c0c0" />
<rect x="347" y="761" width="3" height="1" fill="#c0c0c0" />
<rect x="353" y="710" width="3" height="1" fill="#c0c0c0" />
<rect x="353" y="761" width="3" height="1" fill="#c0c0c0" />
<rect x="359" y="710" width="3" height="1" fill="#c0c0c0" />
<rect x="359" y="761" width="3" height="1" fill="#c0c0c0" />
<rect x="365" y="710" width="3" height="1" fill="#c0c0c0" />
<rect x="365" y="761" width="3" height="1" fill="#c0c0c0" />
<rect x="371" y="710" width="3" height="1" fill="#c0c0c0" />
<rect x="371" y="761" width="3" height="1" fill="#c0c0c0" />
<rect x="377" y="710" width="3" height="1" fill="#c0c0c0" />
<rect x="377" y="761" width="3" height="1" fill="#c0c0c0" />
<rect x="383" y="710" width="3" height="1" fill="#c0c0c0" />
<rect x="383" y="761" width="3" height="1" fill="#c0c0c0" />
<rect x="389" y="710" width="3" height="1" fill="#c0c0c0" />
<rect x="389" y="761" width="3" height="1" fill="#c0c0c0" />
<rect x="395" y="710" width="3" height="1" fill="#c0c0c0" />
<rect x="395" y="761" width="3" height="1" fill="#c0c0c0" />
<rect x="401" y="710" width="3" height="1" fill="#c0c0c0" />
<rect x="401" y="761" width="3" height="1" fill="#c0c0c0" />
<rect x="407" y="710" width="3" height="1" fill="#c0c0c0" />
<rect x="407" y="761" width="3" height="1" fill="#c0c0c0" />
<rect x="413" y="710" width="3" height="1" fill="#c0c0c0" />
<rect x="413" y="761" width="3" height="1" fill="#c0c0c0" />
<rect x="419" y="710" width="3" height="1" fill="#c0c0c0" />
<rect x="419" y="761" width="3" height="1" fill="#c0c0c0" />
<rect x="425" y="710" width="3" height="1" fill="#c0c0c0" />
<rect x="425" y="761" width="3" height="1" fill="#c0c0c0" />
<rect x="431" y="710" width="3" height="1" fill="#c0c0c0" />
<rect x="431" y="761" width="3" height="1" fill="#c0c0c0" />
<rect x="437" y="710" width="3" height="1" fill="#c0c0c0" />
<rect x="437" y="761" width="3" height="1" fill="#c0c0c0" />
<rect x="443" y="710" width="3" height="1" fill="#c0c0c0" />
<rect x="443" y="761" width="3" height="1" fill="#c0c0c0" />
<rect x="449" y="710" width="3" height="1" fill="#c0c0c0" />
<rect x="449" y="761" width="3" height="1" fill="#c0c0c0" />
<rect x="455" y="710" width="3" height="1" fill="#c0c0c0" />
<rect x="455" y="761" width="3" height="1" fill="#c0c0c0" />
<rect x="461" y="710" width="3" height="1" fill="#c0c0c0" />
<rect x="461" y="761" width="3" height="1" fill="#c0c0c0" />
<rect x="467" y="710" width="3" height="1" fill="#c0c0c0" />
<rect x="467" y="761" width="3" height="1" fill="#c0c0c0" />
<rect x="473" y="710" width="3" height="1" fill="#c0c0c0" />
<rect x="473" y="761" width="3" height="1" fill="#c0c0c0" />
<rect x="479" y="710" width="3" height="1" fill="#c0c0c0" />
<rect x="479" y="761" width="3" height="1" fill="#c0c0c0" />
<rect x="485" y="710" width="3" height="1" fill="#c0c0c0" />
<rect x="485" y="761" width="3" height="1" fill="#c0c0c0" />
<rect x="491" y="710" width="3" height="1" fill="#c0c0c0" />
<rect x="491" y="761" width="3" height="1" fill="#c0c0c0" />
<rect x="497" y="710" width="3" height="1" fill="#c0c0c0" />
<rect x="497" y="761" width="3" height="1" fill="#c0c0c0" />
<rect x="503" y="710" width="3" height="1" fill="#c0c0c0" />
<rect x="503" y="761" width="3" height="1" fill="#c0c0c0" />
<rect x="509" y="710" width="3" height="1" fill="#c0c0c0" />
<rect x="509" y="761" width="3" height="1" fill="#c0c0c0" />
<rect x="515" y="710" width="3" height="1" fill="#c0c0c0" />
<rect x="515" y="761" width="3" height="1" fill="#c0c0c0" />
<rect x="521" y="710" width="3" height="1" fill="#c0c0c0" />
<rect x="521" y="761" width="3" height="1" fill="#c0c0c0" />
<rect x="527" y="710" width="3" height="1" fill="#c0c0c0" />
<rect x="527" y="761" width="3" height="1" fill="#c0c0c0" />
<rect x="533" y="710" width="3" height="1" fill="#c0c0c0" />
<rect x="533" y="761" width="3" height="1" fill="#c0c0c0" />
<rect x="539" y="710" width="3" height="1" fill="#c0c0c0" />
<rect x="539" y="761" width="3" height="1" fill="#c0c0c0" />
<rect x="545" y="710" width="3" height="1" fill="#c0c0c0" />
<rect x="545" y="761" width="3" height="1" fill="#c0c0c0" />
<rect x="551" y="710" width="3" height="1" fill="#c0c0c0" />
<rect x="551" y="761" width="3" height="1" fill="#c0c0c0" />
<rect x="557" y="710" width="3" height="1" fill="#c0c0c0" />
<rect x="557" y="761" width="3" height="1" fill="#c0c0c0" />
<rect x="563" y="710" width="3" height="1" fill="#c0c0c0" />
<rect x="563" y="761" width="3" height="1" fill="#c0c0c0" />
<rect x="569" y="710" width="3" height="1" fill="#c0c0c0" />
<rect x="569" y="761" width="3" height="1" fill="#c0c0c0" />
<rect x="575" y="710" width="3" height="1" fill="#c0c0c0" />
<rect x="575" y="761" width="3" height="1" fill="#c0c0c0" />
<rect x="581" y="710" width="3" height="1" fill="#c0c0c0" />
<rect x="581" y="761" width="3" height="1" fill="#c0c0c0" />
<rect x="587" y="710" width="3" height="1" fill="#c0c0c0" />
<rect x="587" y="761" width="3" height="1" fill="#c0c0c0" />
<rect x="593" y="710" width="3" height="1" fill="#c0c0c0" />
<rect x="593" y="761" width="3" height="1" fill="#c0c0c0" />
<rect x="599" y="710" width="3" height="1" fill="#c0c0c0" />
<rect x="599" y="761" width="3" height="1" fill="#c0c0c0" />
<rect x="605" y="710" width="3" height="1" fill="#c0c0c0" />
<rect x="605" y="761" width="3" height="1" fill="#c0c0c0" />
<rect x="611" y="710" width="3" height="1" fill="#c0c0c0" />
<rect x="611" y="761" width="3" height="1" fill="#c0c0c0" />
<rect x="617" y="710" width="3" height="1" fill="#c0c0c0" />
<rect x="617" y="761" width="3" height="1" fill="#c0c0c0" />
<rect x="623" y="710" width="3" height="1" fill="#c0c0c0" />
<rect x="623" y="761" width="3" height="1" fill="#c0c0c0" />
<rect x="629" y="710" width="3" height="1" fill="#c0c0c0" />
<rect x="629" y="761" width="3" height="1" fill="#c0c0c0" />
<rect x="635" y="710" width="3" height="1" fill="#c0c0c0" />
<rect x="635" y="761" width="3" height="1" fill="#c0c0c0" />
<rect x="641" y="710" width="3" height="1" fill="#c0c0c0" />
<rect x="641" y="761" width="3" height="1" fill="#c0c0c0" />
<rect x="647" y="710" width="3" height="1" fill="#c0c0c0" />
<rect x="647" y="761" width="3" height="1" fill="#c0c0c0" />
<rect x="653" y="710" width="3" height="1" fill="#c0c0c0" />
<rect x="653" y="761" width="3" height="1" fill="#c0c0c0" />
<rect x="659" y="710" width="3" height="1" fill="#c0c0c0" />
<rect x="659" y="761" width="3" height="1" fill="#c0c0c0" />
<rect x="665" y="710" width="3" height="1" fill="#c0c0c0" />
<rect x="665" y="761" width="3" height="1" fill="#c0c0c0" />
<rect x="671" y="710" width="3" height="1" fill="#c0c0c0" />
<rect x="671" y="761" width="3" height="1" fill="#c0c0c0" />
<rect x="677" y="710" width="3" height="1" fill="#c0c0c0" />
<rect x="677" y="761" width="3" height="1" fill="#c0c0c0" />
<rect x="683" y="710" width="3" height="1" fill="#c0c0c0" />
<rect x="683" y="761" width="3" height="1" fill="#c0c0c0" />
<rect x="689" y="710" width="3" height="1" fill="#c0c0c0" />
<rect x="689" y="761" width="3" height="1" fill="#c0c0c0" />
<rect x="695" y="710" width="3" height="1" fill="#c0c0c0" />
<rect x="695" y="761" width="3" height="1" fill="#c0c0c0" />
<rect x="701" y="710" width="3" height="1" fill="#c0c0c0" />
<rect x="701" y="761" width="3" height="1" fill="#c0c0c0" />
<rect x="707" y="710" width="3" height="1" fill="#c0c0c0" />
<rect x="707" y="761" width="3" height="1" fill="#c0c0c0" />
<rect x="713" y="710" width="3" height="1" fill="#c0c0c0" />
<rect x="713" y="761" width="3" height="1" fill="#c0c0c0" />
<rect x="719" y="710" width="3" height="1" fill="#c0c0c0" />
<rect x="719" y="761" width="3" height="1" fill="#c0c0c0" />
<rect x="725" y="710" width="3" height="1" fill="#c0c0c0" />
<rect x="725" y="761" width="3" height="1" fill="#c0c0c0" />
<rect x="731" y="710" width="3" height="1" fill="#c0c0c0" />
<rect x="731" y="761" width="3" height="1" fill="#c0c0c0" />
<rect x="737" y="710" width="3" height="1" fill="#c0c0c0" />
<rect x="737" y="761" width="3" height="1" fill="#c0c0c0" />
<rect x="743" y="710" width="3" height="1" fill="#c0c0c0" />
<rect x="743" y="761" width="3" height="1" fill="#c0c0c0" />
<rect x="749" y="710" width="3" height="1" fill="#c0c0c0" />
<rect x="749" y="761" width="3" height="1" fill="#c0c0c0" />
<rect x="755" y="710" width="3" height="1" fill="#c0c0c0" />
<rect x="755" y="761" width="3" height="1" fill="#c0c0c0" />
<rect x="761" y="710" width="3" height="1" fill="#c0c0c0" />
<rect x="761" y="761" width="3" height="1" fill="#c0c0c0" />
<rect x="767" y="710" width="3" height="1" fill="#c0c0c0" />
<rect x="767" y="761" width="3" height="1" fill="#c0c0c0" />
<rect x="773" y="710" width="3" height="1" fill="#c0c0c0" />
<rect x="773" y="761" width="3" height="1" fill="#c0c0c0" />
<rect x="779" y="710" width="3" height="1" fill="#c0c0c0" />
<rect x="779" y="761" width="3" height="1" fill="#c0c0c0" />
<rect x="785" y="710" width="3" height="1" fill="#c0c0c0" />
<rect x="785" y="761" width="3" height="1" fill="#c0c0c0" />
<rect x="791" y="710" width="3" height="1" fill="#c0c0c0" />
<rect x="791" y="761" width="3" height="1" fill="#c0c0c0" />
<rect x="797" y="710" width="3" height="1" fill="#c0c0c0" />
<rect x="797" y="761" width="3" height="1" fill="#c0c0c0" />
<rect x="803" y="710" width="3" height="1" fill="#c0c0c0" />
<rect x="803" y="761" width="3" height="1" fill="#c0c0c0" />
<rect x="809" y="710" width="3" height="1" fill="#c0c0c0" />
<rect x="809" y="761" width="3" height="1" fill="#c0c0c0" />
<rect x="815" y="710" width="3" height="1" fill="#c0c0c0" />
<rect x="815" y="761" width="3" height="1" fill="#c0c0c0" />
<rect x="821" y="710" width="3" height="1" fill="#c0c0c0" />
<rect x="821" y="761" width="3" height="1" fill="#c0c0c0" />
<rect x="827" y="710" width="3" height="1" fill="#c0c0c0" />
<rect x="827" y="761" width="3" height="1" fill="#c0c0c0" />
<rect x="833" y="710" width="3" height="1" fill="#c0c0c0" />
<rect x="833" y="761" width="3" height="1" fill="#c0c0c0" />
<rect x="839" y="710" width="3" height="1" fill="#c0c0c0" />
<rect x="839" y="761" width="3" height="1" fill="#c0c0c0" />
<rect x="845" y="710" width="3" height="1" fill="#c0c0c0" />
<rect x="845" y="761" width="3" height="1" fill="#c0c0c0" />
<rect x="851" y="710" width="3" height="1" fill="#c0c0c0" />
<rect x="851" y="761" width="3" height="1" fill="#c0c0c0" />
<rect x="857" y="710" width="3" height="1" fill="#c0c0c0" />
<rect x="857" y="761" width="3" height="1" fill="#c0c0c0" />
<rect x="863" y="710" width="3" height="1" fill="#c0c0c0" />
<rect x="863" y="761" width="3" height="1" fill="#c0c0c0" />
<rect x="869" y="710" width="3" height="1" fill="#c0c0c0" />
<rect x="869" y="761" width="3" height="1" fill="#c0c0c0" />
<rect x="875" y="710" width="3" height="1" fill="#c0c0c0" />
<rect x="875" y="761" width="3" height="1" fill="#c0c0c0" />
<rect x="881" y="710" width="3" height="1" fill="#c0c0c0" />
<rect x="881" y="761" width="3" height="1" fill="#c0c0c0" />
<rect x="887" y="710" width="3" height="1" fill="#c0c0c0" />
<rect x="887" y="761" width="3" height="1" fill="#c0c0c0" />
<rect x="893" y="710" width="3" height="1" fill="#c0c0c0" />
<rect x="893" y="761" width="3" height="1" fill="#c0c0c0" />
<rect x="899" y="710" width="3" height="1" fill="#c0c0c0" />
<rect x="899" y="761" width="3" height="1" fill="#c0c0c0" />
<rect x="905" y="710" width="3" height="1" fill="#c0c0c0" />
<rect x="905" y="761" width="3" height="1" fill="#c0c0c0" />
<rect x="911" y="710" width="3" height="1" fill="#c0c0c0" />
<rect x="911" y="761" width="3" height="1" fill="#c0c0c0" />
<rect x="917" y="710" width="3" height="1" fill="#c0c0c0" />
<rect x="917" y="761" width="3" height="1" fill="#c0c0c0" />
<rect x="923" y="710" width="3" height="1" fill="#c0c0c0" />
<rect x="923" y="761" width="3" height="1" fill="#c0c0c0" />
<rect x="929" y="710" width="3" height="1" fill="#c0c0c0" />
<rect x="929" y="761" width="3" height="1" fill="#c0c0c0" />
<rect x="935" y="710" width="3" height="1" fill="#c0c0c0" />
<rect x="935" y="761" width="3" height="1" fill="#c0c0c0" />
<rect x="941" y="710" width="3" height="1" fill="#c0c0c0" />
<rect x="941" y="761" width="3" height="1" fill="#c0c0c0" />
<rect x="947" y="710" width="3" height="1" fill="#c0c0c0" />
<rect x="947" y="761" width="3" height="1" fill="#c0c0c0" />
<rect x="953" y="710" width="3" height="1" fill="#c0c0c0" />
<rect x="953" y="761" width="3" height="1" fill="#c0c0c0" />
<rect x="959" y="710" width="3" height="1" fill="#c0c0c0" />
<rect x="959" y="761" width="3" height="1" fill="#c0c0c0" />
<rect x="965" y="710" width="3" height="1" fill="#c0c0c0" />
<rect x="965" y="761" width="3" height="1" fill="#c0c0c0" />
<rect x="971" y="710" width="3" height="1" fill="#c0c0c0" />
<rect x="971" y="761" width="3" height="1" fill="#c0c0c0" />
<rect x="977" y="710" width="3" height="1" fill="#c0c0c0" />
<rect x="977" y="761" width="3" height="1" fill="#c0c0c0" />
<rect x="983" y="710" width="3" height="1" fill="#c0c0c0" />
<rect x="983" y="761" width="3" height="1" fill="#c0c0c0" />
<rect x="989" y="710" width="3" height="1" fill="#c0c0c0" />
<rect x="989" y="761" width="3" height="1" fill="#c0c0c0" />
<rect x="995" y="710" width="3" height="1" fill="#c0c0c0" />
<rect x="995" y="761" width="3" height="1" fill="#c0c0c0" />
<rect x="1001" y="710" width="3" height="1" fill="#c0c0c0" />
<rect x="1001" y="761" width="3" height="1" fill="#c0c0c0" />
<rect x="1007" y="710" width="3" height="1" fill="#c0c0c0" />
<rect x="1007" y="761" width="3" height="1" fill="#c0c0c0" />
<rect x="1013" y="710" width="3" height="1" fill="#c0c0c0" />
<rect x="1013" y="761" width="3" height="1" fill="#c0c0c0" />
<rect x="1019" y="710" width="3" height="1" fill="#c0c0c0" />
<rect x="1019" y="761" width="3" height="1" fill="#c0c0c0" />
<rect x="1025" y="710" width="3" height="1" fill="#c0c0c0" />
<rect x="1025" y="761" width="3" height="1" fill="#c0c0c0" />
<rect x="1031" y="710" width="3" height="1" fill="#c0c0c0" />
<rect x="1031" y="761" width="3" height="1" fill="#c0c0c0" />
<rect x="1037" y="710" width="3" height="1" fill="#c0c0c0" />
<rect x="1037" y="761" width="3" height="1" fill="#c0c0c0" />
<rect x="1043" y="710" width="3" height="1" fill="#c0c0c0" />
<rect x="1043" y="761" width="3" height="1" fill="#c0c0c0" />
<rect x="1049" y="710" width="3" height="1" fill="#c0c0c0" />
<rect x="1049" y="761" width="3" height="1" fill="#c0c0c0" />
<rect x="1055" y="710" width="3" height="1" fill="#c0c0c0" />
<rect x="1055" y="761" width="3" height="1" fill="#c0c0c0" />
<rect x="1061" y="710" width="3" height="1" fill="#c0c0c0" />
<rect x="1061" y="761" width="3" height="1" fill="#c0c0c0" />
<rect x="1067" y="710" width="3" height="1" fill="#c0c0c0" />
<rect x="1067" y="761" width="3" height="1" fill="#c0c0c0" />
<rect x="1073" y="710" width="3" height="1" fill="#c0c0c0" />
<rect x="1073" y="761" width="3" height="1" fill="#c0c0c0" />
<rect x="1079" y="710" width="3" height="1" fill="#c0c0c0" />
<rect x="1079" y="761" width="3" height="1" fill="#c0c0c0" />
<rect x="1085" y="710" width="3" height="1" fill="#c0c0c0" />
<rect x="1085" y="761" width="3" height="1" fill="#c0c0c0" />
<rect x="1091" y="710" width="3" height="1" fill="#c0c0c0" />
<rect x="1091" y="761" width="3" height="1" fill="#c0c0c0" />
<rect x="1097" y="710" width="3" height="1" fill="#c0c0c0" />
<rect x="1097" y="761" width="3" height="1" fill="#c0c0c0" />
<rect x="1103" y="710" width="3" height="1" fill="#c0c0c0" />
<rect x="1103" y="761" width="3" height="1" fill="#c0c0c0" />
<rect x="1109" y="710" width="3" height="1" fill="#c0c0c0" />
<rect x="1109" y="761" width="3" height="1" fill="#c0c0c0" />
<rect x="1115" y="710" width="3" height="1" fill="#c0c0c0" />
<rect x="1115" y="761" width="3" height="1" fill="#c0c0c0" />
<rect x="1121" y="710" width="3" height="1" fill="#c0c0c0" />
<rect x="1121" y="761" width="3" height="1" fill="#c0c0c0" />
<rect x="1127" y="710" width="3" height="1" fill="#c0c0c0" />
<rect x="1127" y="761" width="3" height="1" fill="#c0c0c0" />
<rect x="1133" y="710" width="3" height="1" fill="#c0c0c0" />
<rect x="1133" y="761" width="3" height="1" fill="#c0c0c0" />
<rect x="1139" y="710" width="3" height="1" fill="#c0c0c0" />
<rect x="1139" y="761" width="3" height="1" fill="#c0c0c0" />
<rect x="1145" y="710" width="3" height="1" fill="#c0c0c0" />
<rect x="1145" y="761" width="3" height="1" fill="#c0c0c0" />
<rect x="1151" y="710" width="3" height="1" fill="#c0c0c0" />
<rect x="1151" y="761" width="3" height="1" fill="#c0c0c0" />
<rect x="1157" y="710" width="3" height="1" fill="#c0c0c0" />
<rect x="1157" y="761" width="3" height="1" fill="#c0c0c0" />
<rect x="1163" y="710" width="3" height="1" fill="#c0c0c0" />
<rect x="1163" y="761" width="3" height="1" fill="#c0c0c0" />
<rect x="1169" y="710" width="3" height="1" fill="#c0c0c0" />
<rect x="1169" y="761" width="3" height="1" fill="#c0c0c0" />
<rect x="1175" y="710" width="3" height="1" fill="#c0c0c0" />
<rect x="1175" y="761" width="3" height="1" fill="#c0c0c0" />
<rect x="1181" y="710" width="3" height="1" fill="#c0c0c0" />
<rect x="1181" y="761" width="3" height="1" fill="#c0c0c0" />
<rect x="1187" y="710" width="3" height="1" fill="#c0c0c0" />
<rect x="1187" y="761" width="3" height="1" fill="#c0c0c0" />
<rect x="1193" y="710" width="3" height="1" fill="#c0c0c0" />
<rect x="1193" y="761" width="3" height="1" fill="#c0c0c0" />
<rect x="1199" y="710" width="3" height="1" fill="#c0c0c0" />
<rect x="1199" y="761" width="3" height="1" fill="#c0c0c0" />
<rect x="1205" y="710" width="3" height="1" fill="#c0c0c0" />
<rect x="1205" y="761" width="3" height="1" fill="#c0c0c0" />
<rect x="1211" y="710" width="3" height="1" fill="#c0c0c0" />
<rect x="1211" y="761" width="3" height="1" fill="#c0c0c0" />
<rect x="1217" y="710" width="3" height="1" fill="#c0c0c0" />
<rect x="1217" y="761" width="3" height="1" fill="#c0c0c0" />
<rect x="1223" y="710" width="3" height="1" fill="#c0c0c0" />
<rect x="1223" y="761" width="3" height="1" fill="#c0c0c0" />
<rect x="1229" y="710" width="3" height="1" fill="#c0c0c0" />
<rect x="1229" y="761" width="3" height="1" fill="#c0c0c0" />
<rect x="1235" y="710" width="3" height="1" fill="#c0c0c0" />
<rect x="1235" y="761" width="3" height="1" fill="#c0c0c0" />
<rect x="1241" y="710" width="3" height="1" fill="#c0c0c0" />
<rect x="1241" y="761" width="3" height="1" fill="#c0c0c0" />
<rect x="1247" y="710" width="3" height="1" fill="#c0c0c0" />
<rect x="1247" y="761" width="3" height="1" fill="#c0c0c0" />
<rect x="1253" y="710" width="3" height="1" fill="#c0c0c0" />
<rect x="1253" y="761" width="3" height="1" fill="#c0c0c0" />
<rect x="1259" y="710" width="3" height="1" fill="#c0c0c0" />
<rect x="1259" y="761" width="3" height="1" fill="#c0c0c0" />
<rect x="1265" y="710" width="3" height="1" fill="#c0c0c0" />
<rect x="1265" y="761" width="3" height="1" fill="#c0c0c0" />
<rect x="1271" y="710" width="3" height="1" fill="#c0c0c0" />
<rect x="1271" y="761" width="3" height="1" fill="#c0c0c0" />
<rect x="1277" y="710" width="3" height="1" fill="#c0c0c0" />
<rect x="1277" y="761" width="3" height="1" fill="#c0c0c0" />
<rect x="1283" y="710" width="3" height="1" fill="#c0c0c0" />
<rect x="1283" y="761" width="3" height="1" fill="#c0c0c0" />
<rect x="1289" y="710" width="3" height="1" fill="#c0c0c0" />
<rect x="1289" y="761" width="3" height="1" fill="#c0c0c0" />
<rect x="1295" y="710" width="3" height="1" fill="#c0c0c0" />
<rect x="1295" y="761" width="3" height="1" fill="#c0c0c0" />
<rect x="1301" y="710" width="3" height="1" fill="#c0c0c0" />
<rect x="1301" y="761" width="3" height="1" fill="#c0c0c0" />
<rect x="1307" y="710" width="3" height="1" fill="#c0c0c0" />
<rect x="1307" y="761" width="3" height="1" fill="#c0c0c0" />
<rect x="1313" y="710" width="3" height="1" fill="#c0c0c0" />
<rect x="1313" y="761" width="3" height="1" fill="#c0c0c0" />
<rect x="1319" y="710" width="3" height="1" fill="#c0c0c0" />
<rect x="1319" y="761" width="3" height="1" fill="#c0c0c0" />
<rect x="1325" y="710" width="3" height="1" fill="#c0c0c0" />
<rect x="1325" y="761" width="3" height="1" fill="#c0c0c0" />
<rect x="1331" y="710" width="3" height="1" fill="#c0c0c0" />
<rect x="1331" y="761" width="3" height="1" fill="#c0c0c0" />
<rect x="1337" y="710" width="3" height="1" fill="#c0c0c0" />
<rect x="1337" y="761" width="3" height="1" fill="#c0c0c0" />
<rect x="1343" y="710" width="3" height="1" fill="#c0c0c0" />
<rect x="1343" y="761" width="3" height="1" fill="#c0c0c0" />
<rect x="1349" y="710" width="3" height="1" fill="#c0c0c0" />
<rect x="1349" y="761" width="3" height="1" fill="#c0c0c0" />
<rect x="1355" y="710" width="3" height="1" fill="#c0c0c0" />
<rect x="1355" y="761" width="3" height="1" fill="#c0c0c0" />
<rect x="1361" y="710" width="3" height="1" fill="#c0c0c0" />
<rect x="1361" y="761" width="3" height="1" fill="#c0c0c0" />
<rect x="1367" y="710" width="3" height="1" fill="#c0c0c0" />
<rect x="1367" y="761" width="3" height="1" fill="#c0c0c0" />
<rect x="1373" y="710" width="3" height="1" fill="#c0c0c0" />
<rect x="1373" y="761" width="3" height="1" fill="#c0c0c0" />
<rect x="1379" y="710" width="3" height="1" fill="#c0c0c0" />
<rect x="1379" y="761" width="3" height="1" fill="#c0c0c0" />
<rect x="1385" y="710" width="3" height="1" fill="#c0c0c0" />
<rect x="1385" y="761" width="3" height="1" fill="#c0c0c0" />
<rect x="1391" y="710" width="3" height="1" fill="#c0c0c0" />
<rect x="1391" y="761" width="3" height="1" fill="#c0c0c0" />
<rect x="1397" y="710" width="3" height="1" fill="#c0c0c0" />
<rect x="1397" y="761" width="3" height="1" fill="#c0c0c0" />
<rect x="1403" y="710" width="3" height="1" fill="#c0c0c0" />
<rect x="1403" y="761" width="3" height="1" fill="#c0c0c0" />
<rect x="1409" y="710" width="3" height="1" fill="#c0c0c0" />
<rect x="1409" y="761" width="3" height="1" fill="#c0c0c0" />
<rect x="1415" y="710" width="3" height="1" fill="#c0c0c0" />
<rect x="1415" y="761" width="3" height="1" fill="#c0c0c0" />
<rect x="1421" y="710" width="3" height="1" fill="#c0c0c0" />
<rect x="1421" y="761" width="3" height="1" fill="#c0c0c0" />
</g>
<path d="M69 736h2v1h-2zM522 736h2v1h-2zM694 736h3v1h-3zM700 736h3v1h-3zM866 736h2v1h-2zM922 736h2v1h-2zM936 736h3v1h-3zM982 736h2v1h-2zM1026 736h2v1h-2zM1062 736h2v1h-2zM36 733h3v1h-3zM468 733h2v1h-2zM756 733h3v1h-3zM883 733h2v1h-2zM513 722h2v1h-2zM567 722h2v1h-2zM1012 722h2v1h-2zM1127 722h2v1h-2zM214 723h5v1h-5zM371 723h2v1h-2zM504 723h2v1h-2zM511 723h2v1h-2zM548 723h2v1h-2zM565 723h2v1h-2zM898 723h5v1h-5zM917 723h2v1h-2zM1014 723h5v1h-5zM40 735h3v1h-3zM67 735h2v1h-2zM174 735h2v1h-2zM202 735h2v1h-2zM868 735h2v1h-2zM980 735h2v1h-2zM997 735h2v1h-2zM1086 735h2v1h-2zM80 744h7v1h-7zM813 744h2v1h-2zM820 744h2v1h-2zM78 743h2v1h-2zM164 743h3v1h-3zM180 743h3v1h-3zM810 743h3v1h-3zM593 708h6v1h-6zM624 708h3v1h-3zM59 739h2v1h-2zM255 739h2v1h-2zM324 739h3v1h-3zM332 739h3v1h-3zM766 739h2v1h-2zM781 739h6v1h-6zM889 739h2v1h-2zM970 739h5v1h-5zM168 745h3v1h-3zM717 745h2v1h-2zM815 745h2v1h-2zM30 732h6v1h-6zM208 732h2v1h-2zM872 732h2v1h-2zM876 732h7v1h-7zM948 732h2v1h-2zM966 732h2v1h-2zM991 732h2v1h-2zM1038 732h2v1h-2zM136 729h2v1h-2zM147 729h2v1h-2zM348 729h2v1h-2zM417 729h2v1h-2zM425 729h10v1h-10zM829 729h2v1h-2zM909 729h2v1h-2zM1044 729h2v1h-2zM46 728h2v1h-2zM131 728h2v1h-2zM149 728h2v1h-2zM340 728h2v1h-2zM343 728h2v1h-2zM391 728h2v1h-2zM490 728h5v1h-5zM826 728h3v1h-3zM907 728h2v1h-2zM1048 728h2v1h-2zM1056 728h3v1h-3zM388 730h2v1h-2zM414 730h3v1h-3zM419 730h2v1h-2zM423 730h2v1h-2zM463 730h2v1h-2zM538 730h2v1h-2zM750 730h2v1h-2zM1106 730h2v1h-2zM724 760h3v1h-3zM133 727h2v1h-2zM338 727h2v1h-2zM345 727h2v1h-2zM381 727h2v1h-2zM393 727h3v1h-3zM554 727h5v1h-5zM832 727h2v1h-2zM1050 727h6v1h-6zM456 716h3v1h-3zM575 716h2v1h-2zM15 738h2v1h-2zM257 738h2v1h-2zM327 738h2v1h-2zM779 738h2v1h-2zM679 751h2v1h-2zM683 751h2v1h-2zM49 731h2v1h-2zM421 731h2v1h-2zM465 731h2v1h-2zM760 731h3v1h-3zM874 731h2v1h-2zM944 731h2v1h-2zM993 731h2v1h-2zM614 709h10v1h-10zM17 737h2v1h-2zM329 737h2v1h-2zM697 737h3v1h-3zM924 737h3v1h-3zM934 737h2v1h-2zM984 737h3v1h-3zM1110 737h9v1h-9zM74 746h2v1h-2zM88 746h2v1h-2zM242 746h5v1h-5zM282 746h5v1h-5zM715 746h2v1h-2zM817 746h2v1h-2zM802 749h2v1h-2zM191 752h2v1h-2zM273 752h3v1h-3zM681 752h2v1h-2zM444 718h2v1h-2zM531 718h2v1h-2zM96 750h2v1h-2zM188 750h2v1h-2zM636 750h2v1h-2zM685 750h2v1h-2zM804 750h3v1h-3zM852 719h3v1h-3zM1008 719h2v1h-2zM268 754h3v1h-3zM658 754h6v1h-6zM668 754h4v1h-4zM708 754h3v1h-3zM225 724h6v1h-6zM373 724h3v1h-3zM404 724h2v1h-2zM506 724h5v1h-5zM563 724h2v1h-2zM915 724h2v1h-2zM1019 724h2v1h-2zM90 747h2v1h-2zM111 747h2v1h-2zM722 759h2v1h-2zM736 759h2v1h-2zM233 726h2v1h-2zM379 726h2v1h-2zM396 726h3v1h-3zM496 726h2v1h-2zM552 726h2v1h-2zM559 726h2v1h-2zM581 713h2v1h-2zM220 725h2v1h-2zM223 725h2v1h-2zM231 725h2v1h-2zM376 725h3v1h-3zM561 725h2v1h-2zM1021 725h2v1h-2zM193 753h2v1h-2zM266 753h2v1h-2zM271 753h2v1h-2zM276 753h3v1h-3zM664 753h4v1h-4zM706 753h2v1h-2zM12 740h2v1h-2zM61 740h2v1h-2zM118 740h2v1h-2zM154 740h5v1h-5zM253 740h2v1h-2zM321 740h3v1h-3zM957 740h3v1h-3zM409 721h2v1h-2zM569 721h2v1h-2zM1129 721h6v1h-6zM161 742h3v1h-3zM178 742h2v1h-2zM204 734h3v1h-3zM290 734h5v1h-5zM754 734h2v1h-2zM885 734h2v1h-2zM940 734h2v1h-2zM1076 734h2v1h-2zM1088 734h3v1h-3zM647 762h2v1h-2zM728 762h2v1h-2zM731 762h2v1h-2zM442 717h2v1h-2zM533 717h2v1h-2zM591 707h2v1h-2zM124 741h2v1h-2zM159 741h2v1h-2zM251 741h2v1h-2zM319 741h2v1h-2zM357 741h2v1h-2zM788 741h2v1h-2zM954 741h3v1h-3zM960 741h3v1h-3zM92 748h3v1h-3zM113 748h2v1h-2zM672 755h3v1h-3zM577 715h2v1h-2zM842 715h5v1h-5zM586 706h5v1h-5zM607 706h2v1h-2zM733 761h2v1h-2zM579 714h2v1h-2zM850 720h2v1h-2zM600 710h2v1h-2zM302 756h2v1h-2zM308 756h3v1h-3zM741 756h2v1h-2zM304 757h4v1h-4zM739 757h2v1h-2zM609 705h2v1h-2zM649 763h2v1h-2zM1084 733h1v1h-1zM172 739h1v3h-1zM632 742h1v3h-1zM1001 726h1v3h-1zM153 736h1v3h-1zM727 761h1v1h-1zM978 733h1v1h-1zM747 737h1v3h-1zM822 742h1v2h-1zM967 733h1v1h-1zM677 751h1v1h-1zM480 720h1v3h-1zM214 724h1v1h-1zM643 758h1v1h-1zM237 735h1v3h-1zM1085 734h1v1h-1zM248 744h1v1h-1zM1107 731h1v1h-1zM385 731h1v1h-1zM719 747h1v4h-1zM1043 728h1v1h-1zM541 728h1v1h-1zM1110 736h1v1h-1zM355 736h1v2h-1zM198 742h1v2h-1zM544 724h1v1h-1zM773 733h1v1h-1zM722 758h1v1h-1zM115 745h1v2h-1zM461 724h1v4h-1zM838 722h1v1h-1zM887 735h1v2h-1zM628 720h1v7h-1zM1122 727h1v2h-1zM1005 718h1v2h-1zM1024 730h1v3h-1zM51 729h1v2h-1zM347 728h1v1h-1zM526 729h1v2h-1zM130 729h1v2h-1zM765 737h1v2h-1zM43 733h1v2h-1zM24 729h1v2h-1zM746 740h1v3h-1zM412 725h1v2h-1zM1081 732h1v1h-1zM704 743h1v4h-1zM297 743h1v4h-1zM55 724h1v4h-1zM1023 727h1v3h-1zM488 730h1v1h-1zM906 727h1v1h-1zM583 711h1v2h-1zM635 749h1v1h-1zM58 736h1v3h-1zM312 751h1v2h-1zM477 717h1v4h-1zM689 747h1v1h-1zM176 737h1v2h-1zM195 749h1v3h-1zM145 732h1v2h-1zM522 737h1v1h-1zM795 745h1v2h-1zM970 738h1v1h-1zM921 732h1v3h-1zM73 743h1v3h-1zM95 749h1v1h-1zM703 739h1v4h-1zM369 723h1v1h-1zM711 752h1v2h-1zM1091 735h1v1h-1zM454 718h1v1h-1zM966 731h1v1h-1zM476 721h1v4h-1zM602 711h1v1h-1zM316 744h1v2h-1zM107 750h1v1h-1zM894 729h1v2h-1zM1092 736h1v1h-1zM236 731h1v4h-1zM1106 729h1v1h-1zM1000 729h1v3h-1zM446 719h1v1h-1zM449 715h1v1h-1zM438 724h1v1h-1zM764 734h1v3h-1zM856 721h1v1h-1zM848 717h1v2h-1zM259 740h1v2h-1zM825 730h1v4h-1zM122 743h1v1h-1zM103 748h1v1h-1zM400 724h1v1h-1zM475 725h1v4h-1zM893 731h1v3h-1zM537 726h1v4h-1zM1061 734h1v2h-1zM1038 733h1v1h-1zM126 739h1v2h-1zM453 717h1v1h-1zM947 731h1v1h-1zM999 732h1v3h-1zM768 738h1v1h-1zM634 747h1v2h-1zM653 760h1v1h-1zM57 732h1v4h-1zM969 736h1v2h-1zM745 743h1v4h-1zM99 750h1v1h-1zM529 721h1v3h-1zM718 746h1v1h-1zM384 729h1v2h-1zM152 733h1v3h-1zM175 736h1v1h-1zM749 731h1v3h-1zM50 732h1v1h-1zM521 734h1v2h-1zM110 746h1v1h-1zM1004 720h1v2h-1zM311 753h1v2h-1zM502 721h1v1h-1zM442 716h1v1h-1zM338 726h1v1h-1zM525 731h1v2h-1zM408 722h1v2h-1zM23 731h1v2h-1zM366 726h1v1h-1zM503 722h1v1h-1zM1072 730h1v1h-1zM744 747h1v4h-1zM335 735h1v4h-1zM495 727h1v1h-1zM528 724h1v2h-1zM171 742h1v3h-1zM841 716h1v2h-1zM411 722h1v3h-1zM897 724h1v2h-1zM183 744h1v1h-1zM866 737h1v1h-1zM1098 742h1v1h-1zM144 734h1v2h-1zM676 752h1v2h-1zM281 747h1v2h-1zM1007 718h1v1h-1zM1037 730h1v2h-1zM197 744h1v3h-1zM178 741h1v1h-1zM114 747h1v1h-1zM920 728h1v4h-1zM170 746h1v1h-1zM954 742h1v1h-1zM912 727h1v1h-1zM315 746h1v1h-1zM1121 729h1v2h-1zM296 740h1v3h-1zM240 742h1v2h-1zM213 725h1v2h-1zM64 737h1v1h-1zM968 734h1v2h-1zM536 723h1v3h-1zM631 740h1v2h-1zM190 751h1v1h-1zM129 731h1v3h-1zM520 731h1v3h-1zM627 712h1v8h-1zM1034 725h1v1h-1zM540 729h1v1h-1zM1064 735h1v1h-1zM824 734h1v4h-1zM479 717h1v3h-1zM289 736h1v3h-1zM790 742h1v1h-1zM1025 733h1v3h-1zM42 736h1v1h-1zM645 760h1v1h-1zM471 733h1v1h-1zM262 747h1v2h-1zM1120 731h1v3h-1zM892 734h1v2h-1zM1101 738h1v1h-1zM630 735h1v5h-1zM721 754h1v4h-1zM441 718h1v2h-1zM965 733h1v2h-1zM56 728h1v4h-1zM748 734h1v3h-1zM870 734h1v1h-1zM1060 732h1v2h-1zM551 725h1v1h-1zM977 734h1v2h-1zM988 735h1v1h-1zM604 709h1v1h-1zM801 746h1v2h-1zM863 730h1v2h-1zM656 756h1v2h-1zM1041 728h1v2h-1zM71 738h1v3h-1zM141 736h1v2h-1zM250 742h1v1h-1zM543 725h1v2h-1zM743 751h1v4h-1zM448 716h1v2h-1zM535 719h1v4h-1zM939 735h1v1h-1zM931 740h1v1h-1zM239 740h1v2h-1zM265 752h1v1h-1zM964 735h1v3h-1zM975 737h1v2h-1zM702 737h1v2h-1zM474 729h1v2h-1zM402 722h1v1h-1zM714 747h1v1h-1zM151 730h1v3h-1zM706 751h1v2h-1zM1029 731h1v2h-1zM403 723h1v1h-1zM770 736h1v1h-1zM196 747h1v2h-1zM235 728h1v3h-1zM927 738h1v1h-1zM919 725h1v3h-1zM101 748h1v1h-1zM361 733h1v3h-1zM888 737h1v1h-1zM629 727h1v8h-1zM185 747h1v1h-1zM460 721h1v3h-1zM763 732h1v2h-1zM720 751h1v3h-1zM574 717h1v1h-1zM858 723h1v1h-1zM314 747h1v2h-1zM889 738h1v1h-1zM1003 722h1v2h-1zM201 736h1v2h-1zM922 735h1v1h-1zM186 748h1v1h-1zM10 742h1v1h-1zM167 744h1v1h-1zM1059 730h1v2h-1zM337 728h1v4h-1zM128 734h1v2h-1zM524 733h1v2h-1zM953 739h1v2h-1zM288 739h1v3h-1zM862 728h1v2h-1zM318 742h1v1h-1zM800 743h1v3h-1zM14 739h1v1h-1zM140 734h1v2h-1zM527 726h1v3h-1zM459 717h1v4h-1zM979 734h1v1h-1zM310 755h1v1h-1zM143 736h1v2h-1zM386 732h1v1h-1zM437 725h1v1h-1zM440 720h1v2h-1zM127 736h1v3h-1zM1124 725h1v1h-1zM796 743h1v2h-1zM295 736h1v4h-1zM819 745h1v1h-1zM261 745h1v2h-1zM547 722h1v1h-1zM390 729h1v1h-1zM831 728h1v1h-1zM995 732h1v1h-1zM516 724h1v2h-1zM705 747h1v4h-1zM1032 727h1v2h-1zM611 706h1v1h-1zM399 725h1v1h-1zM735 760h1v1h-1zM538 731h1v1h-1zM184 745h1v2h-1zM212 727h1v2h-1zM413 727h1v3h-1zM1104 733h1v2h-1zM612 707h1v1h-1zM865 734h1v2h-1zM173 736h1v3h-1zM478 715h1v2h-1zM675 754h1v1h-1zM26 726h1v1h-1zM823 738h1v4h-1zM585 707h1v2h-1zM626 709h1v3h-1zM793 746h1v1h-1zM299 749h1v2h-1zM63 738h1v2h-1zM963 738h1v2h-1zM104 749h1v1h-1zM1078 735h1v1h-1zM774 732h1v1h-1zM1036 728h1v2h-1zM241 744h1v2h-1zM752 731h1v2h-1zM1047 729h1v1h-1zM1066 733h1v1h-1zM1058 729h1v1h-1zM599 709h1v1h-1zM105 750h1v1h-1zM473 731h1v1h-1zM368 724h1v1h-1zM713 748h1v2h-1zM891 736h1v3h-1zM546 721h1v1h-1zM139 732h1v2h-1zM1100 739h1v2h-1zM482 726h1v2h-1zM1028 733h1v2h-1zM117 741h1v2h-1zM22 733h1v1h-1zM109 747h1v1h-1zM694 735h1v1h-1zM70 737h1v1h-1zM287 742h1v3h-1zM264 750h1v2h-1zM1093 737h1v1h-1zM352 732h1v2h-1zM363 730h1v1h-1zM519 729h1v2h-1zM826 727h1v1h-1zM826 729h1v1h-1zM896 726h1v1h-1zM655 758h1v1h-1zM792 744h1v2h-1zM835 725h1v1h-1zM1074 732h1v1h-1zM260 742h1v3h-1zM693 737h1v3h-1zM678 750h1v1h-1zM914 725h1v1h-1zM222 726h1v1h-1zM933 738h1v1h-1zM302 755h1v1h-1zM1040 730h1v1h-1zM864 732h1v2h-1zM903 724h1v1h-1zM603 710h1v1h-1zM142 738h1v2h-1zM750 729h1v1h-1zM861 727h1v1h-1zM298 747h1v2h-1zM572 719h1v1h-1zM542 727h1v1h-1zM1035 726h1v2h-1zM762 730h1v1h-1zM458 715h1v1h-1zM238 738h1v2h-1zM952 737h1v2h-1zM207 733h1v1h-1zM1119 734h1v2h-1zM501 722h1v1h-1zM481 723h1v3h-1zM1103 735h1v2h-1zM336 732h1v3h-1zM470 734h1v1h-1zM211 729h1v2h-1zM200 738h1v2h-1zM150 729h1v1h-1zM515 723h1v1h-1zM1073 731h1v1h-1zM640 754h1v1h-1zM990 733h1v1h-1zM499 724h1v1h-1zM584 709h1v2h-1zM606 707h1v1h-1zM791 743h1v1h-1zM77 744h1v1h-1zM928 739h1v1h-1zM646 761h1v1h-1zM146 730h1v2h-1zM301 753h1v2h-1zM890 740h1v1h-1zM29 730h1v2h-1zM290 735h1v1h-1zM929 740h1v1h-1zM860 725h1v2h-1zM545 722h1v2h-1zM1069 729h1v1h-1zM234 727h1v1h-1zM66 734h1v1h-1zM317 743h1v1h-1zM74 747h1v1h-1zM802 748h1v1h-1zM1031 729h1v1h-1zM362 731h1v2h-1zM799 741h1v2h-1zM772 734h1v1h-1zM123 742h1v1h-1zM639 752h1v2h-1zM313 749h1v2h-1zM20 735h1v1h-1zM534 718h1v1h-1zM263 749h1v1h-1zM1080 733h1v1h-1zM518 727h1v2h-1zM769 737h1v1h-1zM118 739h1v1h-1zM487 731h1v1h-1zM370 722h1v1h-1zM530 719h1v2h-1zM300 751h1v2h-1zM28 729h1v1h-1zM194 752h1v1h-1zM1126 723h1v1h-1zM859 724h1v1h-1zM1046 730h1v1h-1zM450 714h1v1h-1zM187 749h1v1h-1zM1027 735h1v1h-1zM439 722h1v2h-1zM54 722h1v2h-1zM776 734h1v2h-1zM39 734h1v1h-1zM753 733h1v1h-1zM951 735h1v2h-1zM943 732h1v1h-1zM837 723h1v1h-1zM106 751h1v1h-1zM692 740h1v2h-1zM1099 741h1v1h-1zM138 730h1v2h-1zM350 730h1v1h-1zM484 729h1v2h-1zM996 733h1v2h-1zM787 740h1v1h-1zM401 723h1v1h-1zM810 742h1v1h-1zM351 731h1v1h-1zM654 759h1v1h-1zM27 727h1v2h-1zM1095 739h1v1h-1zM688 748h1v1h-1zM1068 730h1v2h-1zM691 742h1v3h-1zM730 763h1v1h-1zM962 740h1v1h-1zM809 744h1v2h-1zM849 719h1v1h-1zM613 708h1v1h-1zM571 720h1v1h-1zM247 745h1v1h-1zM331 738h1v1h-1zM950 733h1v2h-1zM334 740h1v1h-1zM407 724h1v1h-1zM1118 736h1v1h-1zM840 718h1v2h-1zM365 727h1v1h-1zM657 755h1v1h-1zM483 728h1v1h-1zM638 751h1v1h-1zM798 739h1v2h-1zM641 755h1v2h-1zM1094 738h1v1h-1zM913 726h1v1h-1zM517 726h1v1h-1zM65 735h1v2h-1zM72 741h1v2h-1zM642 757h1v1h-1zM76 745h1v1h-1zM1042 727h1v1h-1zM98 751h1v1h-1zM1075 733h1v1h-1zM794 747h1v1h-1zM775 733h1v1h-1zM472 732h1v1h-1zM410 720h1v1h-1zM904 725h1v1h-1zM1102 737h1v1h-1zM1030 730h1v1h-1zM46 727h1v1h-1zM905 726h1v1h-1zM360 736h1v2h-1zM1083 732h1v1h-1zM498 725h1v1h-1zM280 749h1v2h-1zM605 708h1v1h-1zM353 734h1v1h-1zM19 736h1v1h-1zM1079 734h1v1h-1zM1109 734h1v2h-1zM11 741h1v1h-1zM354 735h1v1h-1zM1026 737h1v1h-1zM53 724h1v2h-1zM357 740h1v1h-1zM45 729h1v2h-1zM976 736h1v1h-1zM987 736h1v1h-1zM87 745h1v1h-1zM652 761h1v1h-1zM414 731h1v1h-1zM1011 721h1v1h-1zM1125 724h1v1h-1zM855 720h1v1h-1zM847 716h1v1h-1zM258 739h1v1h-1zM436 726h1v2h-1zM911 728h1v1h-1zM930 741h1v1h-1zM1033 726h1v1h-1zM342 729h1v1h-1zM364 728h1v2h-1zM1022 726h1v1h-1zM771 735h1v1h-1zM102 747h1v1h-1zM52 726h1v3h-1zM836 724h1v1h-1zM942 733h1v1h-1zM452 716h1v1h-1zM1082 731h1v1h-1zM690 745h1v2h-1zM356 738h1v2h-1zM808 746h1v2h-1zM1010 720h1v1h-1zM1002 724h1v2h-1zM486 732h1v1h-1zM573 718h1v1h-1zM687 749h1v1h-1zM1108 732h1v2h-1zM249 743h1v1h-1zM712 750h1v2h-1zM523 735h1v1h-1zM359 738h1v3h-1zM116 743h1v2h-1zM839 720h1v2h-1zM387 731h1v1h-1zM108 748h1v2h-1zM797 741h1v2h-1zM120 741h1v1h-1zM447 718h1v1h-1zM895 727h1v2h-1zM946 730h1v1h-1zM778 737h1v1h-1zM121 742h1v1h-1zM633 745h1v2h-1zM279 751h1v2h-1zM154 739h1v1h-1zM467 732h1v1h-1zM48 729h1v2h-1zM489 729h1v1h-1zM1105 731h1v2h-1zM1006 717h1v1h-1zM177 739h1v2h-1zM219 724h1v1h-1zM44 731h1v2h-1zM485 731h1v1h-1zM25 727h1v2h-1zM1067 732h1v1h-1zM462 728h1v2h-1zM1070 728h1v1h-1zM455 717h1v1h-1zM998 736h1v1h-1zM738 758h1v1h-1zM766 740h1v1h-1zM1071 729h1v1h-1zM383 728h1v1h-1zM1096 740h1v1h-1zM644 759h1v1h-1zM1097 741h1v1h-1zM367 725h1v1h-1zM199 740h1v2h-1zM451 715h1v1h-1zM406 725h1v1h-1zM777 736h1v1h-1zM807 748h1v2h-1zM1123 726h1v1h-1zM286 745h1v1h-1zM100 749h1v1h-1zM834 726h1v1h-1zM759 732h1v1h-1zM174 734h1v1h-1zM742 755h1v1h-1zM1039 731h1v1h-1zM294 735h1v1h-1zM651 762h1v1h-1zM1065 734h1v1h-1zM918 724h1v1h-1zM435 728h1v1h-1zM550 724h1v1h-1zM1062 737h1v1h-1zM500 723h1v1h-1zM857 722h1v1h-1zM21 734h1v1h-1zM135 728h1v1h-1zM210 731h1v1h-1zM871 733h1v1h-1zM358 742h1v1h-1zM989 734h1v1h-1zM932 739h1v1h-1z" fill="#1e90ff" shape-rendering="crispEdges"/>
<text x="13" y="12" font-size="9.4" fill="#3c3c3c" text-anchor="start" font-weight="normal" textLength="12" lengthAdjust="spacingAndGlyphs" >H4</text>
<text x="41" y="12" font-size="9.4" fill="#3c3c3c" text-anchor="start" font-weight="normal" textLength="12" lengthAdjust="spacingAndGlyphs" >D1</text>
<text x="68" y="12" font-size="9.4" fill="#3c3c3c" text-anchor="start" font-weight="normal" textLength="15" lengthAdjust="spacingAndGlyphs" >W1</text>
<text x="95" y="12" font-size="9.4" fill="#3c3c3c" text-anchor="start" font-weight="normal" textLength="15" lengthAdjust="spacingAndGlyphs" >MN</text>
<path d="M13.2 35.2 L16.6 31.2 L20 35.2 Z" fill="#000"/>
<text x="25.5" y="35.6" font-size="9.4" fill="#000" text-anchor="start" font-weight="normal" textLength="68" lengthAdjust="spacingAndGlyphs"  stroke="#000" stroke-width="0.12">USDCAD-,Daily</text>
<text x="100.5" y="35.6" font-size="9.4" fill="#000" text-anchor="start" font-weight="normal" textLength="140" lengthAdjust="spacingAndGlyphs"  stroke="#000" stroke-width="0.12">1.35314 1.35413 1.35218 1.35270</text>
<text x="14" y="578" font-size="9.4" fill="#000" text-anchor="start" font-weight="normal" textLength="148" lengthAdjust="spacingAndGlyphs"  stroke="#000" stroke-width="0.12">MACD(12,26,9) 0.002142 0.001078</text>
<text x="14" y="683" font-size="9.4" fill="#000" text-anchor="start" font-weight="normal" textLength="68" lengthAdjust="spacingAndGlyphs"  stroke="#000" stroke-width="0.12">RSI(14) 61.8048</text>
<text x="1432" y="35.6" font-size="9.4" fill="#000" text-anchor="start" font-weight="normal" textLength="32" lengthAdjust="spacingAndGlyphs"  stroke="#000" stroke-width="0.12">1.36980</text>
<text x="1432" y="68.6" font-size="9.4" fill="#000" text-anchor="start" font-weight="normal" textLength="32" lengthAdjust="spacingAndGlyphs"  stroke="#000" stroke-width="0.12">1.36395</text>
<text x="1432" y="101.6" font-size="9.4" fill="#000" text-anchor="start" font-weight="normal" textLength="32" lengthAdjust="spacingAndGlyphs"  stroke="#000" stroke-width="0.12">1.35810</text>
<text x="1432" y="167.6" font-size="9.4" fill="#000" text-anchor="start" font-weight="normal" textLength="32" lengthAdjust="spacingAndGlyphs"  stroke="#000" stroke-width="0.12">1.34640</text>
<text x="1432" y="200.6" font-size="9.4" fill="#000" text-anchor="start" font-weight="normal" textLength="32" lengthAdjust="spacingAndGlyphs"  stroke="#000" stroke-width="0.12">1.34055</text>
<text x="1432" y="233.6" font-size="9.4" fill="#000" text-anchor="start" font-weight="normal" textLength="32" lengthAdjust="spacingAndGlyphs"  stroke="#000" stroke-width="0.12">1.33470</text>
<text x="1432" y="266.6" font-size="9.4" fill="#000" text-anchor="start" font-weight="normal" textLength="32" lengthAdjust="spacingAndGlyphs"  stroke="#000" stroke-width="0.12">1.32885</text>
<text x="1432" y="299.6" font-size="9.4" fill="#000" text-anchor="start" font-weight="normal" textLength="32" lengthAdjust="spacingAndGlyphs"  stroke="#000" stroke-width="0.12">1.32300</text>
<text x="1432" y="332.6" font-size="9.4" fill="#000" text-anchor="start" font-weight="normal" textLength="32" lengthAdjust="spacingAndGlyphs"  stroke="#000" stroke-width="0.12">1.31715</text>
<text x="1432" y="365.6" font-size="9.4" fill="#000" text-anchor="start" font-weight="normal" textLength="32" lengthAdjust="spacingAndGlyphs"  stroke="#000" stroke-width="0.12">1.31130</text>
<text x="1432" y="398.6" font-size="9.4" fill="#000" text-anchor="start" font-weight="normal" textLength="32" lengthAdjust="spacingAndGlyphs"  stroke="#000" stroke-width="0.12">1.30545</text>
<text x="1432" y="431.6" font-size="9.4" fill="#000" text-anchor="start" font-weight="normal" textLength="32" lengthAdjust="spacingAndGlyphs"  stroke="#000" stroke-width="0.12">1.29975</text>
<text x="1432" y="464.6" font-size="9.4" fill="#000" text-anchor="start" font-weight="normal" textLength="32" lengthAdjust="spacingAndGlyphs"  stroke="#000" stroke-width="0.12">1.29390</text>
<text x="1432" y="497.6" font-size="9.4" fill="#000" text-anchor="start" font-weight="normal" textLength="32" lengthAdjust="spacingAndGlyphs"  stroke="#000" stroke-width="0.12">1.28805</text>
<text x="1432" y="530.6" font-size="9.4" fill="#000" text-anchor="start" font-weight="normal" textLength="32" lengthAdjust="spacingAndGlyphs"  stroke="#000" stroke-width="0.12">1.28220</text>
<text x="1432" y="563.6" font-size="9.4" fill="#000" text-anchor="start" font-weight="normal" textLength="32" lengthAdjust="spacingAndGlyphs"  stroke="#000" stroke-width="0.12">1.27635</text>
<text x="1432" y="135" font-size="9.4" fill="#000" text-anchor="start" font-weight="normal" textLength="32" lengthAdjust="spacingAndGlyphs"  stroke="#000" stroke-width="0.12">1.35225</text>
<rect x="1426" y="131" width="2" height="1" fill="#000" shape-rendering="crispEdges"/>
<rect x="1427" y="123" width="40" height="11" fill="#000" shape-rendering="crispEdges"/>
<text x="1432" y="132" font-size="9.4" fill="#fff" text-anchor="start" font-weight="normal" textLength="32" lengthAdjust="spacingAndGlyphs"  stroke="#fff" stroke-width="0.12">1.35270</text>
<text x="1429.5" y="575.4" font-size="9.4" fill="#000" text-anchor="start" font-weight="normal" textLength="37.5" lengthAdjust="spacingAndGlyphs"  stroke="#000" stroke-width="0.12">0.010229</text>
<text x="1429.5" y="629" font-size="9.4" fill="#000" text-anchor="start" font-weight="normal" textLength="18" lengthAdjust="spacingAndGlyphs"  stroke="#000" stroke-width="0.12">0.00</text>
<text x="1429.5" y="665.2" font-size="9.4" fill="#000" text-anchor="start" font-weight="normal" textLength="40.3" lengthAdjust="spacingAndGlyphs"  stroke="#000" stroke-width="0.12">-0.007477</text>
<text x="1429.5" y="681" font-size="9.4" fill="#000" text-anchor="start" font-weight="normal" textLength="14" lengthAdjust="spacingAndGlyphs"  stroke="#000" stroke-width="0.12">100</text>
<text x="1429.5" y="714" font-size="9.4" fill="#000" text-anchor="start" font-weight="normal" textLength="9.5" lengthAdjust="spacingAndGlyphs"  stroke="#000" stroke-width="0.12">70</text>
<text x="1429.5" y="765" font-size="9.4" fill="#000" text-anchor="start" font-weight="normal" textLength="9.5" lengthAdjust="spacingAndGlyphs"  stroke="#000" stroke-width="0.12">30</text>
<text x="1429.5" y="797" font-size="9.4" fill="#000" text-anchor="start" font-weight="normal" textLength="5" lengthAdjust="spacingAndGlyphs"  stroke="#000" stroke-width="0.12">0</text>
<text x="9" y="813" font-size="9.4" fill="#000" text-anchor="start" font-weight="normal" textLength="41.7" lengthAdjust="spacingAndGlyphs"  stroke="#000" stroke-width="0.12">6 Jul 2018</text>
<text x="73" y="813" font-size="9.4" fill="#000" text-anchor="start" font-weight="normal" textLength="46" lengthAdjust="spacingAndGlyphs"  stroke="#000" stroke-width="0.12">25 Jul 2018</text>
<text x="137" y="813" font-size="9.4" fill="#000" text-anchor="start" font-weight="normal" textLength="52" lengthAdjust="spacingAndGlyphs"  stroke="#000" stroke-width="0.12">13 Aug 2018</text>
<text x="201" y="813" font-size="9.4" fill="#000" text-anchor="start" font-weight="normal" textLength="52.4" lengthAdjust="spacingAndGlyphs"  stroke="#000" stroke-width="0.12">31 Aug 2018</text>
<text x="265" y="813" font-size="9.4" fill="#000" text-anchor="start" font-weight="normal" textLength="51" lengthAdjust="spacingAndGlyphs"  stroke="#000" stroke-width="0.12">19 Sep 2018</text>
<text x="329" y="813" font-size="9.4" fill="#000" text-anchor="start" font-weight="normal" textLength="46" lengthAdjust="spacingAndGlyphs"  stroke="#000" stroke-width="0.12">8 Oct 2018</text>
<text x="393" y="813" font-size="9.4" fill="#000" text-anchor="start" font-weight="normal" textLength="50" lengthAdjust="spacingAndGlyphs"  stroke="#000" stroke-width="0.12">26 Oct 2018</text>
<text x="457" y="813" font-size="9.4" fill="#000" text-anchor="start" font-weight="normal" textLength="53" lengthAdjust="spacingAndGlyphs"  stroke="#000" stroke-width="0.12">14 Nov 2018</text>
<text x="521" y="813" font-size="9.4" fill="#000" text-anchor="start" font-weight="normal" textLength="46.7" lengthAdjust="spacingAndGlyphs"  stroke="#000" stroke-width="0.12">3 Dec 2018</text>
<text x="585" y="813" font-size="9.4" fill="#000" text-anchor="start" font-weight="normal" textLength="51" lengthAdjust="spacingAndGlyphs"  stroke="#000" stroke-width="0.12">21 Dec 2018</text>
<text x="649" y="813" font-size="9.4" fill="#000" text-anchor="start" font-weight="normal" textLength="45" lengthAdjust="spacingAndGlyphs"  stroke="#000" stroke-width="0.12">9 Jan 2019</text>
<text x="713" y="813" font-size="9.4" fill="#000" text-anchor="start" font-weight="normal" textLength="49.4" lengthAdjust="spacingAndGlyphs"  stroke="#000" stroke-width="0.12">28 Jan 2019</text>
<text x="777" y="813" font-size="9.4" fill="#000" text-anchor="start" font-weight="normal" textLength="51" lengthAdjust="spacingAndGlyphs"  stroke="#000" stroke-width="0.12">15 Feb 2019</text>
<text x="841" y="813" font-size="9.4" fill="#000" text-anchor="start" font-weight="normal" textLength="46.6" lengthAdjust="spacingAndGlyphs"  stroke="#000" stroke-width="0.12">6 Mar 2019</text>
<text x="905" y="813" font-size="9.4" fill="#000" text-anchor="start" font-weight="normal" textLength="51.3" lengthAdjust="spacingAndGlyphs"  stroke="#000" stroke-width="0.12">25 Mar 2019</text>
<text x="969" y="813" font-size="9.4" fill="#000" text-anchor="start" font-weight="normal" textLength="50.2" lengthAdjust="spacingAndGlyphs"  stroke="#000" stroke-width="0.12">12 Apr 2019</text>
<text x="1033" y="813" font-size="9.4" fill="#000" text-anchor="start" font-weight="normal" textLength="49.6" lengthAdjust="spacingAndGlyphs"  stroke="#000" stroke-width="0.12">2 May 2019</text>
<text x="1097" y="813" font-size="9.4" fill="#000" text-anchor="start" font-weight="normal" textLength="54.5" lengthAdjust="spacingAndGlyphs"  stroke="#000" stroke-width="0.12">21 May 2019</text>
<path d="M1136 25 L1145 25 L1140.5 29.5 Z" fill="#c0c0c0"/>
<defs>
<linearGradient id="gb" x1="0" y1="0" x2="0" y2="1"><stop offset="0" stop-color="#5050f4"/><stop offset="0.36" stop-color="#3a3ae4"/><stop offset="1" stop-color="#0000aa"/></linearGradient>
<linearGradient id="gt" gradientUnits="userSpaceOnUse" x1="0" y1="44" x2="0" y2="108"><stop offset="0" stop-color="#5252f6"/><stop offset="0.4" stop-color="#3636e0"/><stop offset="1" stop-color="#0000aa"/></linearGradient>
<linearGradient id="gg" x1="0" y1="0" x2="0" y2="1"><stop offset="0" stop-color="#f2f2f2"/><stop offset="0.5" stop-color="#dcdcdc"/><stop offset="1" stop-color="#c8c8c8"/></linearGradient>
</defs>
<g shape-rendering="crispEdges">
<rect x="12" y="43" width="221" height="66" fill="#fff" />
<rect x="13" y="44" width="52" height="25" fill="url(#gt)" />
<rect x="180" y="44" width="52" height="25" fill="url(#gt)" />
<rect x="13" y="68" width="109" height="40" fill="url(#gt)" />
<rect x="124" y="68" width="108" height="40" fill="url(#gt)" />
<rect x="17" y="68" width="44" height="1" fill="#7a7af8" />
<rect x="184" y="68" width="44" height="1" fill="#7a7af8" />
<rect x="67" y="44" width="111" height="22" fill="#b8b8b8" />
<rect x="68" y="45" width="109" height="20" fill="#fff" />
<rect x="68" y="45" width="20" height="20" fill="url(#gg)" />
<rect x="157" y="45" width="20" height="20" fill="url(#gg)" />
<rect x="88" y="45" width="1" height="20" fill="#b8b8b8" />
<rect x="156" y="45" width="1" height="20" fill="#b8b8b8" />
</g>
<path d="M75.5 53 L80.5 53 L78 56 Z" fill="#4a5ac8"/>
<path d="M164.5 56 L169.5 56 L167 53 Z" fill="#4a5ac8"/>
<text x="153" y="58.7" font-size="12" fill="#000" text-anchor="end" font-weight="normal" textLength="23.5" lengthAdjust="spacingAndGlyphs" >1.00</text>
<text x="25.5" y="59.4" font-size="12" fill="#fff" text-anchor="start" font-weight="normal" textLength="25.5" lengthAdjust="spacingAndGlyphs" >SELL</text>
<text x="193.5" y="59.4" font-size="12" fill="#fff" text-anchor="start" font-weight="normal" textLength="23.5" lengthAdjust="spacingAndGlyphs" >BUY</text>
<text x="33.5" y="99" font-size="11" fill="#fff" text-anchor="start" font-weight="bold" textLength="23.5" lengthAdjust="spacingAndGlyphs" >1.35</text>
<text x="61" y="98.6" font-size="34" fill="#fff" text-anchor="start" font-weight="normal" textLength="34" lengthAdjust="spacingAndGlyphs" stroke="url(#gt)" stroke-width="0.5">27</text>
<text x="100" y="82.7" font-size="11" fill="#fff" text-anchor="start" font-weight="bold" textLength="7.5" lengthAdjust="spacingAndGlyphs" >0</text>
<text x="143.5" y="99" font-size="11" fill="#fff" text-anchor="start" font-weight="bold" textLength="23.5" lengthAdjust="spacingAndGlyphs" >1.35</text>
<text x="172" y="98.6" font-size="34" fill="#fff" text-anchor="start" font-weight="normal" textLength="35" lengthAdjust="spacingAndGlyphs" stroke="url(#gt)" stroke-width="0.5">29</text>
<text x="211.5" y="82.7" font-size="11" fill="#fff" text-anchor="start" font-weight="bold" textLength="6.5" lengthAdjust="spacingAndGlyphs" >2</text>
<g shape-rendering="crispEdges">
<rect x="7" y="821" width="1460" height="1" fill="#e8e8e8" />
<rect x="7" y="823" width="1460" height="1" fill="#000" />
<rect x="7" y="824" width="1460" height="18" fill="#f0f0f0" />
<rect x="0" y="842" width="1467" height="1" fill="#ffffff" />
<rect x="0" y="843" width="1467" height="1" fill="#f6f6f6" />
<rect x="0" y="844" width="1467" height="2" fill="#f0f0f0" />
<rect x="0" y="846" width="1467" height="1" fill="#d0d0d0" />
<rect x="0" y="847" width="1467" height="1" fill="#b0b0b0" />
<rect x="334" y="824" width="1" height="18" fill="#fff" />
<rect x="335" y="823" width="108" height="19" fill="#000" />
<rect x="336" y="822" width="106" height="19" fill="#fff" />
<rect x="119" y="827" width="1" height="13" fill="#808080" />
<rect x="227" y="827" width="1" height="13" fill="#808080" />
<rect x="555" y="827" width="1" height="13" fill="#808080" />
<rect x="675" y="827" width="1" height="13" fill="#808080" />
</g>
<text x="22" y="837.8" font-size="12.5" fill="#606060" text-anchor="start" font-weight="normal" textLength="85" lengthAdjust="spacingAndGlyphs" >EURUSD-,Daily</text>
<text x="129" y="837.8" font-size="12.5" fill="#606060" text-anchor="start" font-weight="normal" textLength="87" lengthAdjust="spacingAndGlyphs" >AUDUSD-,Daily</text>
<text x="239.5" y="837.8" font-size="12.5" fill="#606060" text-anchor="start" font-weight="normal" textLength="83" lengthAdjust="spacingAndGlyphs" >USDCHF-,Daily</text>
<text x="347" y="837.8" font-size="12.5" fill="#000" text-anchor="start" font-weight="normal" textLength="85" lengthAdjust="spacingAndGlyphs" >USDCAD-,Daily</text>
<text x="455" y="837.8" font-size="12.5" fill="#606060" text-anchor="start" font-weight="normal" textLength="88" lengthAdjust="spacingAndGlyphs" >USDCNH-,Daily</text>
<text x="566.5" y="837.8" font-size="12.5" fill="#606060" text-anchor="start" font-weight="normal" textLength="96.5" lengthAdjust="spacingAndGlyphs" >EURCHF-,Weekly</text>
<path d="M1444.5 829 L1444.5 835 L1441 832 Z" fill="#808080"/>
<path d="M1460 829 L1460 835 L1463.5 832 Z" fill="#808080"/>
</svg>
</body></html>
